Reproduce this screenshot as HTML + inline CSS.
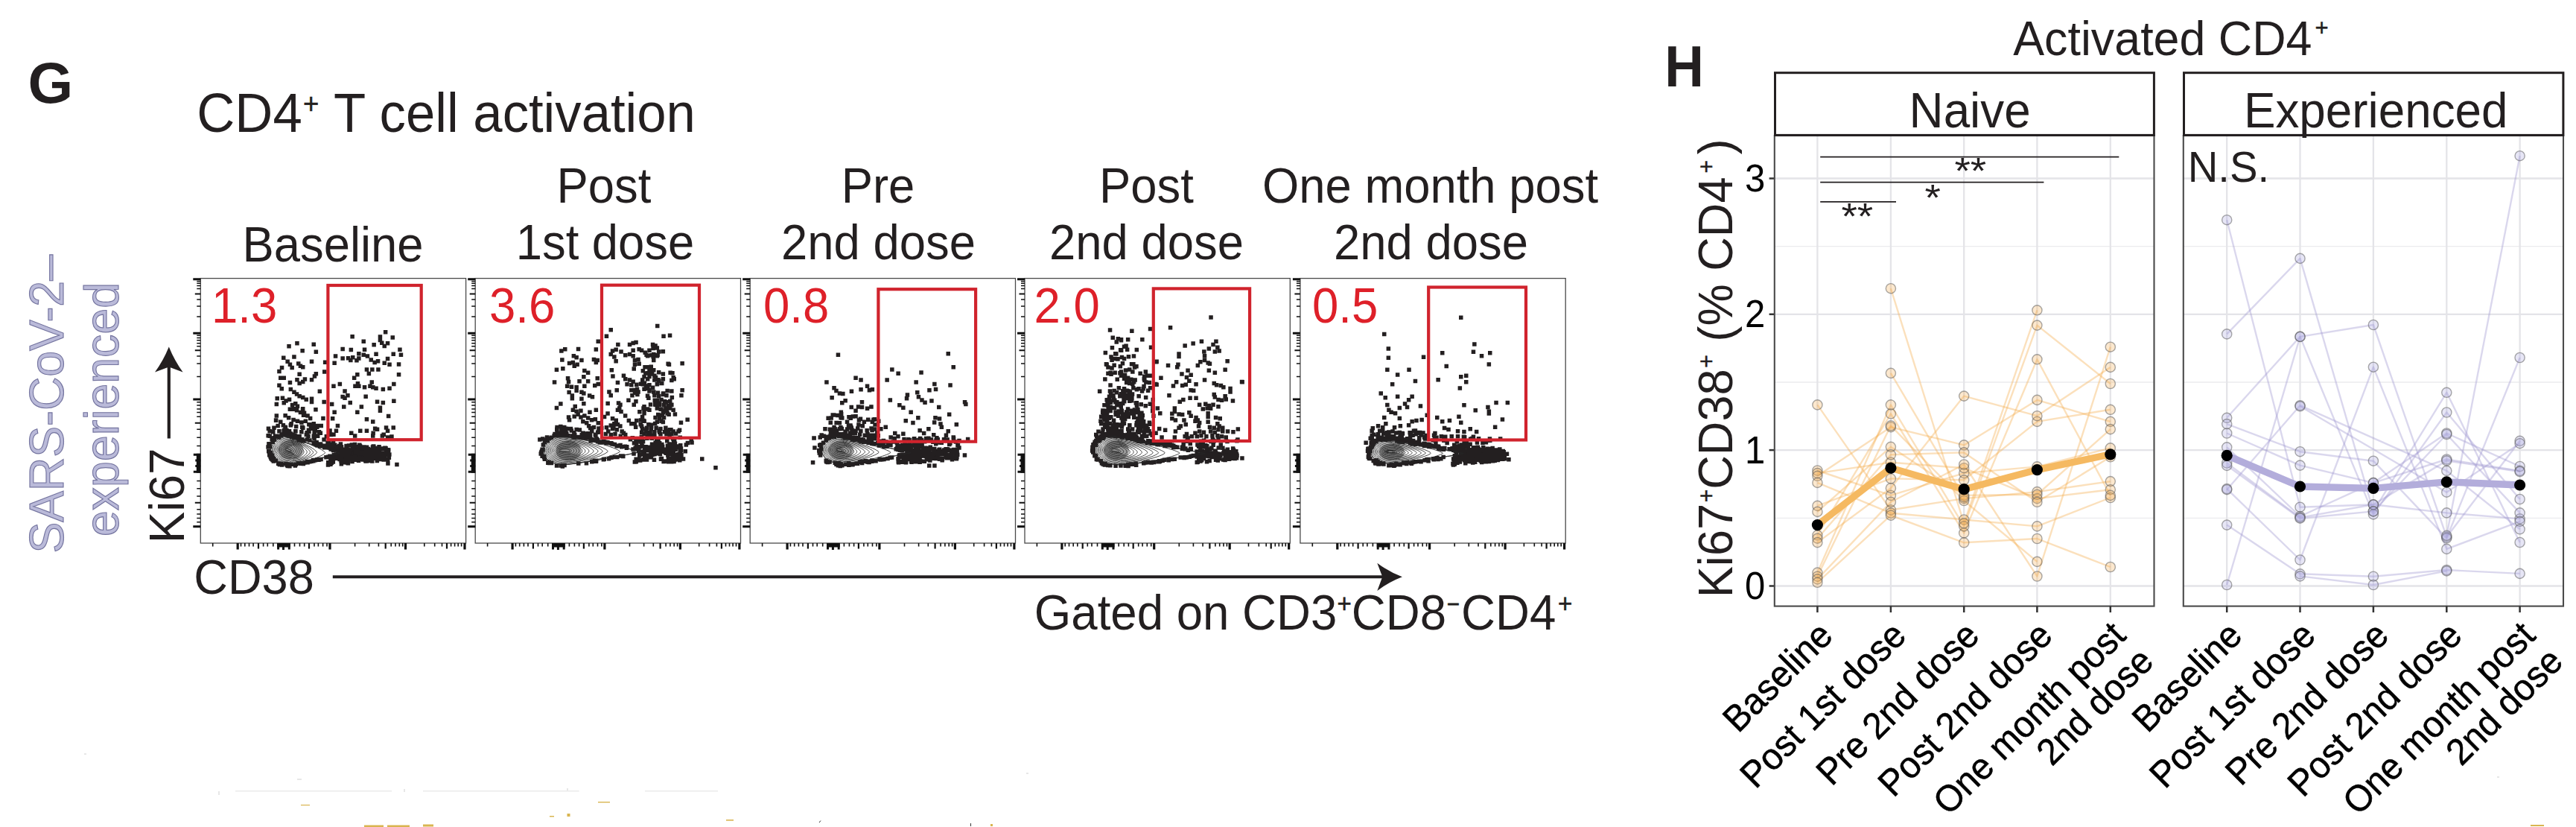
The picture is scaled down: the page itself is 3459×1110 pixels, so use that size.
<!DOCTYPE html>
<html lang="en"><head><meta charset="utf-8"><title>Figure G-H</title>
<style>
html,body{margin:0;padding:0;background:#fff;}
body{width:3459px;height:1110px;overflow:hidden;}
svg{display:block;}
text{font-family:"Liberation Sans", sans-serif;fill:#231f20;}
.b{font-weight:bold;}
.m{text-anchor:middle;}
.red{fill:#de2029;}
.lav{fill:#babad9;stroke:#74749f;stroke-width:1.1px;}
</style></head><body>
<svg width="3459" height="1110" viewBox="0 0 3459 1110">
<rect width="3459" height="1110" fill="#fff"/>
<text class="b" transform="translate(37.5 137.8) scale(1 1.0)" font-size="78">G</text>
<text transform="translate(264.3 176.8) scale(1 1.04)" font-size="70.7">CD4<tspan dx="1.2" dy="-24" font-size="36.5" stroke="#231f20" stroke-width="0.5">+</tspan><tspan dx="1.5" dy="24"> T cell activation</tspan></text>
<text transform="translate(447 351.2) scale(1 1.04)" font-size="63.4" text-anchor="middle">Baseline</text>
<text transform="translate(811 271.9) scale(1 1.04)" font-size="63.4" text-anchor="middle">Post</text>
<text transform="translate(812.5 347.7) scale(1 1.04)" font-size="63.4" text-anchor="middle">1st dose</text>
<text transform="translate(1179 271.9) scale(1 1.04)" font-size="63.4" text-anchor="middle">Pre</text>
<text transform="translate(1179.5 347.7) scale(1 1.04)" font-size="63.4" text-anchor="middle">2nd dose</text>
<text transform="translate(1539.5 271.9) scale(1 1.04)" font-size="63.4" text-anchor="middle">Post</text>
<text transform="translate(1539.5 347.7) scale(1 1.04)" font-size="63.4" text-anchor="middle">2nd dose</text>
<text transform="translate(1920.5 271.9) scale(1 1.04)" font-size="63.4" text-anchor="middle">One month post</text>
<text transform="translate(1921.5 347.7) scale(1 1.04)" font-size="63.4" text-anchor="middle">2nd dose</text>
<text class="lav" transform="translate(84.5 742.6) rotate(-90) scale(1 1.04)" font-size="62.7">SARS-CoV-2–</text>
<text class="lav" transform="translate(159 720) rotate(-90) scale(1 1.04)" font-size="62.6">experienced</text>
<text transform="translate(247 729.3) rotate(-90) scale(1 1.04)" font-size="63.8">Ki67</text>
<path d="M226.8 588.5V490" stroke="#231f20" stroke-width="4.2" fill="none"/>
<path d="M226.8 465.4Q234.3 484 245.6 499.4L226.8 492.6L208 499.4Q219.3 484 226.8 465.4Z" fill="#231f20"/>
<g id="plot1">
<rect x="269.3" y="373.6" width="356.3" height="355.4" fill="#fff" stroke="#4a4a4a" stroke-width="1.3"/>
<path d="M285.7 729.0v4.5M323.5 729.0v4.5M328.8 729.0v4.5M334.5 729.0v4.5M340.1 729.0v4.5M353.6 729.0v4.5M359.3 729.0v4.5M366.8 729.0v4.5M395.5 729.0v4.5M402.5 729.0v4.5M408.7 729.0v4.5M422.0 729.0v4.5M427.4 729.0v4.5M433.6 729.0v4.5M439.0 729.0v4.5M476.6 729.0v4.5M495.7 729.0v4.5M508.4 729.0v4.5M525.2 729.0v4.5M531.0 729.0v4.5M536.3 729.0v4.5M540.7 729.0v4.5M569.8 729.0v4.5M583.7 729.0v4.5M593.5 729.0v4.5M605.6 729.0v4.5M610.6 729.0v4.5M615.2 729.0v4.5M619.6 729.0v4.5" stroke="#111" stroke-width="1.6" fill="none"/>
<path d="M319.2 729.0v8.5M443.0 729.0v8.5M544.5 729.0v8.5M624.0 729.0v8.5" stroke="#111" stroke-width="3.2" fill="none"/>
<path d="M347.0 729.0v7.5M415.0 729.0v7.5M517.7 729.0v7.5M600.0 729.0v7.5" stroke="#111" stroke-width="2.2" fill="none"/>
<path d="M269.3 374.8h-10M269.3 447.3h-10M269.3 536.0h-10M269.3 706.8h-10" stroke="#111" stroke-width="3.0" fill="none"/>
<path d="M269.3 377.5h-5M269.3 380.3h-5M269.3 383.6h-5M269.3 387.4h-5M269.3 401.9h-5M269.3 410.9h-5M269.3 425.0h-5M269.3 450.2h-5M269.3 453.4h-5M269.3 456.8h-5M269.3 460.7h-5M269.3 464.8h-5M269.3 478.0h-5M269.3 488.0h-5M269.3 505.5h-5M269.3 539.7h-5M269.3 544.0h-5M269.3 549.0h-5M269.3 553.6h-5M269.3 559.3h-5M269.3 576.3h-5M269.3 587.2h-5M269.3 598.6h-5M269.3 645.6h-5M269.3 655.8h-5M269.3 665.9h-5M269.3 683.7h-5M269.3 690.0h-5M269.3 695.6h-5M269.3 700.7h-5" stroke="#111" stroke-width="1.5" fill="none"/>
<path d="M269.3 394.5h-7.5M269.3 470.3h-7.5M269.3 567.7h-7.5M269.3 674.8h-7.5" stroke="#111" stroke-width="2.0" fill="none"/>
<rect x="372.2" y="729.0" width="17.6" height="5.5" fill="#111"/>
<path d="M373.6 729.0v8.5M380.5 729.0v9M388.3 729.0v8.5" stroke="#111" stroke-width="3"/>
<rect x="263.8" y="608.8" width="5.5" height="25.9" fill="#111"/>
<path d="M269.3 610.2h-9.5M269.3 618h-7M269.3 625.5h-7M269.3 633.2h-9.5" stroke="#111" stroke-width="3"/>
<path d="M363.5 603.2L363.5 602.2L363.6 601.1L363.8 600.1L364.1 599.1L364.4 598.1L364.8 597.1L365.2 596.2L365.7 595.2L366.3 594.3L366.9 593.4L367.6 592.6L368.4 591.7L369.2 590.9L370.1 590.2L371.0 589.5L372.0 588.8L373.0 588.2L374.0 587.6L375.1 587.1L376.2 586.6L377.4 586.2L378.6 585.8L379.8 585.5L381.0 585.3L382.2 585.1L383.5 584.9L384.7 584.8L386.0 584.8L389.9 587.4L393.9 588.8L397.8 590.1L401.6 591.3L405.4 592.5L409.2 593.6L412.9 594.8L416.5 595.9L420.0 597.0L423.3 598.0L426.6 599.0L429.8 600.0L432.8 600.9L435.6 601.8L438.3 602.6L440.9 603.4L443.3 604.2L445.4 604.8L447.4 605.5L449.2 606.0L450.9 606.5L452.3 607.0L453.5 607.3L454.4 607.6L455.2 607.9L455.8 608.1L456.1 608.2L456.2 608.2L456.2 608.2L456.1 608.2L455.8 608.3L455.2 608.5L454.4 608.7L453.5 608.9L452.3 609.2L450.9 609.6L449.2 610.0L447.4 610.5L445.4 611.0L443.3 611.6L440.9 612.2L438.3 612.8L435.6 613.5L432.8 614.2L429.8 614.9L426.6 615.6L423.3 616.4L420.0 617.2L416.5 618.0L412.9 618.8L409.2 619.6L405.4 620.3L401.6 621.0L397.8 621.7L393.9 622.3L389.9 622.7L386.0 621.6L384.7 621.6L383.5 621.5L382.2 621.3L381.0 621.1L379.8 620.9L378.6 620.6L377.4 620.2L376.2 619.8L375.1 619.3L374.0 618.8L373.0 618.2L372.0 617.6L371.0 616.9L370.1 616.2L369.2 615.5L368.4 614.7L367.6 613.8L366.9 613.0L366.3 612.1L365.7 611.2L365.2 610.2L364.8 609.3L364.4 608.3L364.1 607.3L363.8 606.3L363.6 605.3L363.5 604.2L363.5 603.2Z" fill="#231f20" stroke="#231f20" stroke-width="1.5" stroke-linejoin="round"/>
<path d="M442.0 599.5L449.7 599.8L457.4 600.2L465.1 600.7L472.8 601.4L480.5 602.1L488.2 602.8L495.9 603.6L503.6 604.5L511.3 605.5L519.0 606.5L519.0 611.5L511.3 612.5L503.6 613.5L495.9 614.4L488.2 615.2L480.5 615.9L472.8 616.6L465.1 617.3L457.4 617.8L449.7 618.2L442.0 618.5Z" fill="#231f20"/>
<path d="M363.5 603.2L363.5 602.2L363.6 601.1L363.8 600.1L364.1 599.1L364.4 598.1L364.8 597.1L365.2 596.2L365.7 595.2L366.3 594.3L366.9 593.4L367.6 592.6L368.4 591.7L369.2 590.9L370.1 590.2L371.0 589.5L372.0 588.8L373.0 588.2L374.0 587.6L375.1 587.1L376.2 586.6L377.4 586.2L378.6 585.8L379.8 585.5L381.0 585.3L382.2 585.1L383.5 584.9L384.7 584.8L386.0 584.8L389.9 587.4L393.9 588.8L397.8 590.1L401.6 591.3L405.4 592.5L409.2 593.6L412.9 594.8L416.5 595.9L420.0 597.0L423.3 598.0L426.6 599.0L429.8 600.0L432.8 600.9L435.6 601.8L438.3 602.6L440.9 603.4L443.3 604.2L445.4 604.8L447.4 605.5L449.2 606.0L450.9 606.5L452.3 607.0L453.5 607.3L454.4 607.6L455.2 607.9L455.8 608.1L456.1 608.2L456.2 608.2L456.2 608.2L456.1 608.2L455.8 608.3L455.2 608.5L454.4 608.7L453.5 608.9L452.3 609.2L450.9 609.6L449.2 610.0L447.4 610.5L445.4 611.0L443.3 611.6L440.9 612.2L438.3 612.8L435.6 613.5L432.8 614.2L429.8 614.9L426.6 615.6L423.3 616.4L420.0 617.2L416.5 618.0L412.9 618.8L409.2 619.6L405.4 620.3L401.6 621.0L397.8 621.7L393.9 622.3L389.9 622.7L386.0 621.6L384.7 621.6L383.5 621.5L382.2 621.3L381.0 621.1L379.8 620.9L378.6 620.6L377.4 620.2L376.2 619.8L375.1 619.3L374.0 618.8L373.0 618.2L372.0 617.6L371.0 616.9L370.1 616.2L369.2 615.5L368.4 614.7L367.6 613.8L366.9 613.0L366.3 612.1L365.7 611.2L365.2 610.2L364.8 609.3L364.4 608.3L364.1 607.3L363.8 606.3L363.6 605.3L363.5 604.2L363.5 603.2Z" fill="#fff"/>
<ellipse cx="390.5" cy="603.7" rx="17" ry="12.9" fill="#9a9a9a"/>
<path d="M422.4 590.9h5.5v5.5h-5.5zM399.5 619.0h5.5v5.5h-5.5zM362.9 609.0h5.5v5.5h-5.5zM388.5 580.9h5.5v5.5h-5.5zM445.9 607.8h5.5v5.5h-5.5zM403.5 588.8h5.5v5.5h-5.5zM433.0 598.1h5.5v5.5h-5.5zM364.6 616.2h5.5v5.5h-5.5zM370.9 619.6h5.5v5.5h-5.5zM452.0 604.6h5.5v5.5h-5.5zM372.2 619.9h5.5v5.5h-5.5zM394.6 620.4h5.5v5.5h-5.5zM421.8 593.8h5.5v5.5h-5.5zM425.2 614.6h5.5v5.5h-5.5zM359.9 596.9h5.5v5.5h-5.5zM361.5 613.1h5.5v5.5h-5.5zM448.9 607.3h5.5v5.5h-5.5zM382.1 577.6h5.5v5.5h-5.5zM381.6 579.0h5.5v5.5h-5.5zM441.5 600.3h5.5v5.5h-5.5zM384.8 580.3h5.5v5.5h-5.5zM385.4 582.4h5.5v5.5h-5.5zM358.2 593.2h5.5v5.5h-5.5zM451.8 603.8h5.5v5.5h-5.5zM364.9 586.5h5.5v5.5h-5.5zM381.7 581.0h5.5v5.5h-5.5zM363.2 586.2h5.5v5.5h-5.5zM406.2 618.3h5.5v5.5h-5.5zM358.2 596.8h5.5v5.5h-5.5zM435.2 610.9h5.5v5.5h-5.5zM408.8 617.8h5.5v5.5h-5.5zM399.9 619.3h5.5v5.5h-5.5zM359.0 607.9h5.5v5.5h-5.5zM423.1 595.1h5.5v5.5h-5.5zM382.4 620.2h5.5v5.5h-5.5zM369.4 582.6h5.5v5.5h-5.5zM428.3 613.8h5.5v5.5h-5.5zM383.5 622.7h5.5v5.5h-5.5zM389.0 583.4h5.5v5.5h-5.5zM413.2 588.2h5.5v5.5h-5.5zM421.2 594.0h5.5v5.5h-5.5zM451.9 604.5h5.5v5.5h-5.5zM360.9 609.8h5.5v5.5h-5.5zM397.9 584.8h5.5v5.5h-5.5zM383.7 621.2h5.5v5.5h-5.5zM382.3 580.2h5.5v5.5h-5.5zM456.6 606.0h5.5v5.5h-5.5zM392.4 583.8h5.5v5.5h-5.5zM432.5 595.4h5.5v5.5h-5.5zM418.6 591.3h5.5v5.5h-5.5zM372.9 620.8h5.5v5.5h-5.5zM424.4 594.5h5.5v5.5h-5.5zM375.1 619.6h5.5v5.5h-5.5zM438.0 610.6h5.5v5.5h-5.5zM410.1 616.7h5.5v5.5h-5.5zM418.5 592.7h5.5v5.5h-5.5zM402.9 587.0h5.5v5.5h-5.5zM436.6 598.0h5.5v5.5h-5.5zM398.7 619.2h5.5v5.5h-5.5zM358.8 593.7h5.5v5.5h-5.5zM441.7 600.1h5.5v5.5h-5.5zM418.1 615.9h5.5v5.5h-5.5zM394.3 584.8h5.5v5.5h-5.5zM423.0 595.0h5.5v5.5h-5.5zM363.5 590.6h5.5v5.5h-5.5zM450.7 607.1h5.5v5.5h-5.5zM392.2 583.9h5.5v5.5h-5.5zM392.6 583.4h5.5v5.5h-5.5zM382.6 621.5h5.5v5.5h-5.5zM381.3 577.1h5.5v5.5h-5.5zM375.1 581.9h5.5v5.5h-5.5zM417.7 614.7h5.5v5.5h-5.5zM358.0 602.9h5.5v5.5h-5.5zM410.3 618.0h5.5v5.5h-5.5zM413.0 617.0h5.5v5.5h-5.5zM362.4 586.9h5.5v5.5h-5.5zM402.4 618.9h5.5v5.5h-5.5zM427.2 595.9h5.5v5.5h-5.5zM362.5 608.4h5.5v5.5h-5.5zM398.4 586.3h5.5v5.5h-5.5zM427.9 593.5h5.5v5.5h-5.5zM442.1 598.6h5.5v5.5h-5.5zM427.0 596.3h5.5v5.5h-5.5zM362.1 613.2h5.5v5.5h-5.5zM435.7 595.7h5.5v5.5h-5.5zM383.9 622.2h5.5v5.5h-5.5zM363.7 611.7h5.5v5.5h-5.5zM381.2 619.7h5.5v5.5h-5.5zM399.4 583.1h5.5v5.5h-5.5zM360.3 609.9h5.5v5.5h-5.5zM365.8 587.5h5.5v5.5h-5.5zM409.4 587.3h5.5v5.5h-5.5zM427.2 593.3h5.5v5.5h-5.5zM445.6 608.0h5.5v5.5h-5.5zM377.6 580.2h5.5v5.5h-5.5zM415.3 616.4h5.5v5.5h-5.5zM439.4 596.8h5.5v5.5h-5.5zM363.3 614.8h5.5v5.5h-5.5zM363.7 612.5h5.5v5.5h-5.5zM386.2 623.1h5.5v5.5h-5.5zM375.9 621.3h5.5v5.5h-5.5zM404.6 619.8h5.5v5.5h-5.5zM360.9 611.3h5.5v5.5h-5.5zM402.5 588.7h5.5v5.5h-5.5zM393.9 582.5h5.5v5.5h-5.5zM392.1 585.1h5.5v5.5h-5.5zM378.3 576.6h5.5v5.5h-5.5zM361.0 606.7h5.5v5.5h-5.5zM397.6 583.1h5.5v5.5h-5.5zM430.0 595.6h5.5v5.5h-5.5zM455.6 604.4h5.5v5.5h-5.5zM435.9 596.4h5.5v5.5h-5.5zM404.2 618.9h5.5v5.5h-5.5zM376.2 580.3h5.5v5.5h-5.5zM426.1 614.0h5.5v5.5h-5.5zM404.8 589.2h5.5v5.5h-5.5zM398.5 587.9h5.5v5.5h-5.5zM367.5 615.5h5.5v5.5h-5.5zM393.6 622.2h5.5v5.5h-5.5zM388.1 620.4h5.5v5.5h-5.5zM390.9 580.4h5.5v5.5h-5.5zM446.3 601.1h5.5v5.5h-5.5zM382.1 576.4h5.5v5.5h-5.5zM372.8 620.3h5.5v5.5h-5.5zM439.7 597.0h5.5v5.5h-5.5zM449.7 608.3h5.5v5.5h-5.5zM360.9 604.8h5.5v5.5h-5.5zM357.3 597.3h5.5v5.5h-5.5zM398.5 587.7h5.5v5.5h-5.5zM387.7 579.2h5.5v5.5h-5.5zM423.2 614.1h5.5v5.5h-5.5zM420.6 615.1h5.5v5.5h-5.5zM401.4 619.4h5.5v5.5h-5.5zM358.3 593.1h5.5v5.5h-5.5zM397.7 619.1h5.5v5.5h-5.5zM365.1 613.8h5.5v5.5h-5.5zM404.1 589.3h5.5v5.5h-5.5zM364.6 612.9h5.5v5.5h-5.5zM375.7 580.6h5.5v5.5h-5.5zM385.9 622.0h5.5v5.5h-5.5zM497.6 602.6h5.5v5.5h-5.5zM504.5 602.5h5.5v5.5h-5.5zM463.9 607.4h5.5v5.5h-5.5zM517.2 606.1h5.5v5.5h-5.5zM493.2 615.5h5.5v5.5h-5.5zM495.7 603.7h5.5v5.5h-5.5zM497.4 600.7h5.5v5.5h-5.5zM466.2 595.3h5.5v5.5h-5.5zM455.6 608.1h5.5v5.5h-5.5zM508.8 611.3h5.5v5.5h-5.5zM509.7 605.6h5.5v5.5h-5.5zM449.0 610.5h5.5v5.5h-5.5zM515.3 599.0h5.5v5.5h-5.5zM447.0 594.4h5.5v5.5h-5.5zM518.0 613.9h5.5v5.5h-5.5zM479.8 605.5h5.5v5.5h-5.5zM478.3 614.3h5.5v5.5h-5.5zM511.2 599.3h5.5v5.5h-5.5zM499.6 604.2h5.5v5.5h-5.5zM516.6 608.2h5.5v5.5h-5.5zM515.6 601.5h5.5v5.5h-5.5zM452.8 606.6h5.5v5.5h-5.5zM488.7 611.0h5.5v5.5h-5.5zM455.8 597.5h5.5v5.5h-5.5zM474.1 613.2h5.5v5.5h-5.5zM473.6 612.7h5.5v5.5h-5.5zM480.8 597.1h5.5v5.5h-5.5zM454.7 593.2h5.5v5.5h-5.5zM438.9 591.6h5.5v5.5h-5.5zM495.5 600.8h5.5v5.5h-5.5zM503.0 612.8h5.5v5.5h-5.5zM442.5 618.4h5.5v5.5h-5.5zM444.7 601.8h5.5v5.5h-5.5zM500.8 607.8h5.5v5.5h-5.5zM519.0 601.2h5.5v5.5h-5.5zM488.1 610.3h5.5v5.5h-5.5zM484.1 604.4h5.5v5.5h-5.5zM512.6 613.7h5.5v5.5h-5.5zM509.6 599.8h5.5v5.5h-5.5zM475.5 614.4h5.5v5.5h-5.5zM440.3 595.7h5.5v5.5h-5.5zM461.8 613.9h5.5v5.5h-5.5zM488.7 599.8h5.5v5.5h-5.5zM467.3 613.5h5.5v5.5h-5.5zM499.2 604.7h5.5v5.5h-5.5zM511.5 599.5h5.5v5.5h-5.5zM465.7 595.2h5.5v5.5h-5.5zM510.9 611.0h5.5v5.5h-5.5zM442.9 616.1h5.5v5.5h-5.5zM470.9 597.4h5.5v5.5h-5.5zM510.4 609.4h5.5v5.5h-5.5zM442.7 598.0h5.5v5.5h-5.5zM490.5 616.0h5.5v5.5h-5.5zM480.1 594.5h5.5v5.5h-5.5zM452.3 609.8h5.5v5.5h-5.5zM455.6 620.1h5.5v5.5h-5.5zM508.6 613.8h5.5v5.5h-5.5zM456.9 604.4h5.5v5.5h-5.5zM502.7 602.8h5.5v5.5h-5.5zM444.0 614.8h5.5v5.5h-5.5zM441.5 619.1h5.5v5.5h-5.5zM488.0 615.2h5.5v5.5h-5.5zM515.3 602.6h5.5v5.5h-5.5zM469.6 594.3h5.5v5.5h-5.5zM484.7 597.4h5.5v5.5h-5.5zM486.2 597.3h5.5v5.5h-5.5zM440.5 609.7h5.5v5.5h-5.5zM472.3 599.1h5.5v5.5h-5.5zM465.5 604.8h5.5v5.5h-5.5zM499.1 597.2h5.5v5.5h-5.5zM464.7 619.0h5.5v5.5h-5.5zM512.4 610.4h5.5v5.5h-5.5zM487.2 606.6h5.5v5.5h-5.5zM513.4 611.4h5.5v5.5h-5.5zM503.6 615.7h5.5v5.5h-5.5zM489.5 607.5h5.5v5.5h-5.5zM457.8 615.4h5.5v5.5h-5.5zM505.8 599.5h5.5v5.5h-5.5zM474.7 604.7h5.5v5.5h-5.5zM463.0 598.9h5.5v5.5h-5.5zM518.5 601.9h5.5v5.5h-5.5zM473.6 596.9h5.5v5.5h-5.5zM495.9 604.1h5.5v5.5h-5.5zM506.6 599.9h5.5v5.5h-5.5zM493.5 614.8h5.5v5.5h-5.5zM488.4 616.3h5.5v5.5h-5.5zM497.0 616.2h5.5v5.5h-5.5zM512.4 614.3h5.5v5.5h-5.5zM515.3 600.9h5.5v5.5h-5.5zM470.3 595.0h5.5v5.5h-5.5zM504.9 606.0h5.5v5.5h-5.5zM506.3 597.1h5.5v5.5h-5.5zM486.2 605.0h5.5v5.5h-5.5zM499.1 596.4h5.5v5.5h-5.5zM484.8 614.3h5.5v5.5h-5.5zM502.4 602.6h5.5v5.5h-5.5zM474.0 595.6h5.5v5.5h-5.5zM444.9 593.8h5.5v5.5h-5.5zM501.6 599.5h5.5v5.5h-5.5zM442.6 593.8h5.5v5.5h-5.5zM483.3 598.4h5.5v5.5h-5.5zM497.5 611.1h5.5v5.5h-5.5zM445.7 601.2h5.5v5.5h-5.5zM504.5 598.8h5.5v5.5h-5.5zM455.1 613.7h5.5v5.5h-5.5zM494.5 603.9h5.5v5.5h-5.5zM449.3 597.5h5.5v5.5h-5.5zM461.5 603.4h5.5v5.5h-5.5zM437.3 591.4h5.5v5.5h-5.5zM454.9 610.2h5.5v5.5h-5.5zM480.1 612.1h5.5v5.5h-5.5zM482.0 605.7h5.5v5.5h-5.5zM453.2 608.8h5.5v5.5h-5.5zM503.6 599.6h5.5v5.5h-5.5zM437.8 621.2h5.5v5.5h-5.5zM490.1 600.4h5.5v5.5h-5.5zM462.3 595.7h5.5v5.5h-5.5zM499.7 612.4h5.5v5.5h-5.5zM492.1 614.2h5.5v5.5h-5.5zM514.0 607.3h5.5v5.5h-5.5zM460.1 618.0h5.5v5.5h-5.5zM455.3 616.2h5.5v5.5h-5.5zM482.3 613.7h5.5v5.5h-5.5zM515.9 605.4h5.5v5.5h-5.5zM462.7 603.4h5.5v5.5h-5.5zM442.9 594.6h5.5v5.5h-5.5zM488.2 600.7h5.5v5.5h-5.5zM517.8 600.9h5.5v5.5h-5.5zM482.4 605.2h5.5v5.5h-5.5zM493.7 612.7h5.5v5.5h-5.5zM513.4 612.2h5.5v5.5h-5.5zM441.1 620.4h5.5v5.5h-5.5zM520.1 607.2h5.5v5.5h-5.5zM469.5 611.6h5.5v5.5h-5.5zM444.8 592.1h5.5v5.5h-5.5zM488.9 606.9h5.5v5.5h-5.5zM478.2 600.0h5.5v5.5h-5.5zM438.0 618.1h5.5v5.5h-5.5zM468.5 613.9h5.5v5.5h-5.5zM489.5 602.7h5.5v5.5h-5.5zM498.6 596.3h5.5v5.5h-5.5zM480.8 595.9h5.5v5.5h-5.5zM459.1 607.9h5.5v5.5h-5.5zM468.2 601.2h5.5v5.5h-5.5zM440.2 609.4h5.5v5.5h-5.5zM464.7 608.8h5.5v5.5h-5.5zM488.3 601.6h5.5v5.5h-5.5zM462.6 611.8h5.5v5.5h-5.5zM456.8 601.9h5.5v5.5h-5.5zM505.4 599.9h5.5v5.5h-5.5zM455.4 597.0h5.5v5.5h-5.5zM453.3 613.8h5.5v5.5h-5.5zM475.4 602.9h5.5v5.5h-5.5zM484.5 613.4h5.5v5.5h-5.5zM488.6 601.9h5.5v5.5h-5.5zM495.7 608.3h5.5v5.5h-5.5zM507.7 608.9h5.5v5.5h-5.5zM457.2 602.5h5.5v5.5h-5.5zM499.5 602.0h5.5v5.5h-5.5zM507.6 612.1h5.5v5.5h-5.5zM495.8 611.3h5.5v5.5h-5.5zM505.8 607.2h5.5v5.5h-5.5zM467.4 611.9h5.5v5.5h-5.5zM508.4 612.4h5.5v5.5h-5.5zM514.2 598.6h5.5v5.5h-5.5zM465.7 605.2h5.5v5.5h-5.5zM490.4 614.9h5.5v5.5h-5.5zM452.9 595.7h5.5v5.5h-5.5zM442.3 617.4h5.5v5.5h-5.5zM473.8 611.0h5.5v5.5h-5.5zM478.8 615.4h5.5v5.5h-5.5zM497.7 597.2h5.5v5.5h-5.5zM465.2 606.5h5.5v5.5h-5.5zM489.8 597.4h5.5v5.5h-5.5zM471.6 614.6h5.5v5.5h-5.5zM497.5 602.4h5.5v5.5h-5.5zM473.1 612.9h5.5v5.5h-5.5zM451.7 597.1h5.5v5.5h-5.5zM478.9 597.1h5.5v5.5h-5.5zM444.6 617.2h5.5v5.5h-5.5zM479.4 613.2h5.5v5.5h-5.5zM455.5 597.4h5.5v5.5h-5.5zM463.6 618.3h5.5v5.5h-5.5zM493.5 610.1h5.5v5.5h-5.5zM501.1 608.0h5.5v5.5h-5.5zM510.2 611.9h5.5v5.5h-5.5zM463.7 615.0h5.5v5.5h-5.5zM470.3 616.7h5.5v5.5h-5.5zM517.6 606.8h5.5v5.5h-5.5zM507.5 607.4h5.5v5.5h-5.5zM519.6 611.6h5.5v5.5h-5.5zM514.5 598.5h5.5v5.5h-5.5zM441.1 613.9h5.5v5.5h-5.5zM497.5 610.3h5.5v5.5h-5.5zM491.6 599.7h5.5v5.5h-5.5zM509.1 605.8h5.5v5.5h-5.5zM505.0 601.0h5.5v5.5h-5.5zM473.8 593.7h5.5v5.5h-5.5zM477.0 613.5h5.5v5.5h-5.5zM443.1 613.8h5.5v5.5h-5.5zM357.4 581.9h5.5v5.5h-5.5zM404.1 571.5h5.5v5.5h-5.5zM419.3 585.6h5.5v5.5h-5.5zM427.6 578.4h5.5v5.5h-5.5zM393.0 581.8h5.5v5.5h-5.5zM441.7 580.7h5.5v5.5h-5.5zM408.6 580.7h5.5v5.5h-5.5zM411.7 574.5h5.5v5.5h-5.5zM441.8 580.3h5.5v5.5h-5.5zM419.7 571.6h5.5v5.5h-5.5zM359.4 576.0h5.5v5.5h-5.5zM412.2 576.5h5.5v5.5h-5.5zM435.6 583.1h5.5v5.5h-5.5zM365.2 584.9h5.5v5.5h-5.5zM382.2 575.0h5.5v5.5h-5.5zM420.5 575.2h5.5v5.5h-5.5zM398.2 587.0h5.5v5.5h-5.5zM365.2 571.4h5.5v5.5h-5.5zM371.9 584.2h5.5v5.5h-5.5zM380.7 571.4h5.5v5.5h-5.5zM383.6 581.7h5.5v5.5h-5.5zM379.2 574.8h5.5v5.5h-5.5zM440.3 575.3h5.5v5.5h-5.5zM420.3 574.6h5.5v5.5h-5.5zM418.9 583.4h5.5v5.5h-5.5zM394.2 576.0h5.5v5.5h-5.5zM357.7 572.5h5.5v5.5h-5.5zM432.3 587.2h5.5v5.5h-5.5zM414.2 567.2h5.5v5.5h-5.5zM388.4 565.9h5.5v5.5h-5.5zM386.6 546.6h5.5v5.5h-5.5zM380.2 570.6h5.5v5.5h-5.5zM403.8 546.9h5.5v5.5h-5.5zM367.9 561.6h5.5v5.5h-5.5zM390.2 546.5h5.5v5.5h-5.5zM367.8 561.2h5.5v5.5h-5.5zM404.8 554.6h5.5v5.5h-5.5zM423.5 568.8h5.5v5.5h-5.5zM514.9 443.1h5.5v5.5h-5.5zM470.4 448.9h5.5v5.5h-5.5zM507.7 449.2h5.5v5.5h-5.5zM524.5 450.2h5.5v5.5h-5.5zM507.7 453.7h5.5v5.5h-5.5zM485.5 455.6h5.5v5.5h-5.5zM510.0 457.6h5.5v5.5h-5.5zM517.8 457.9h5.5v5.5h-5.5zM499.4 459.9h5.5v5.5h-5.5zM513.5 461.8h5.5v5.5h-5.5zM457.4 465.7h5.5v5.5h-5.5zM468.6 466.8h5.5v5.5h-5.5zM486.8 466.6h5.5v5.5h-5.5zM534.2 466.6h5.5v5.5h-5.5zM479.1 472.1h5.5v5.5h-5.5zM502.3 472.4h5.5v5.5h-5.5zM485.5 473.4h5.5v5.5h-5.5zM525.5 472.4h5.5v5.5h-5.5zM535.7 473.6h5.5v5.5h-5.5zM447.8 475.3h5.5v5.5h-5.5zM457.4 478.2h5.5v5.5h-5.5zM464.8 477.9h5.5v5.5h-5.5zM471.0 476.9h5.5v5.5h-5.5zM490.7 475.3h5.5v5.5h-5.5zM468.1 480.8h5.5v5.5h-5.5zM479.1 478.2h5.5v5.5h-5.5zM476.2 481.1h5.5v5.5h-5.5zM495.5 480.2h5.5v5.5h-5.5zM500.4 483.7h5.5v5.5h-5.5zM504.8 482.1h5.5v5.5h-5.5zM517.8 478.8h5.5v5.5h-5.5zM513.5 484.6h5.5v5.5h-5.5zM520.3 486.6h5.5v5.5h-5.5zM532.8 486.2h5.5v5.5h-5.5zM446.4 484.6h5.5v5.5h-5.5zM489.7 493.3h5.5v5.5h-5.5zM497.1 493.3h5.5v5.5h-5.5zM505.2 493.3h5.5v5.5h-5.5zM492.6 498.7h5.5v5.5h-5.5zM477.1 500.1h5.5v5.5h-5.5zM472.9 504.4h5.5v5.5h-5.5zM532.8 500.1h5.5v5.5h-5.5zM477.7 512.1h5.5v5.5h-5.5zM474.2 515.6h5.5v5.5h-5.5zM479.1 515.6h5.5v5.5h-5.5zM496.5 510.2h5.5v5.5h-5.5zM494.2 515.6h5.5v5.5h-5.5zM498.0 516.9h5.5v5.5h-5.5zM502.3 518.5h5.5v5.5h-5.5zM486.8 516.9h5.5v5.5h-5.5zM511.6 519.8h5.5v5.5h-5.5zM520.3 518.5h5.5v5.5h-5.5zM526.1 512.7h5.5v5.5h-5.5zM445.2 515.6h5.5v5.5h-5.5zM453.6 512.7h5.5v5.5h-5.5zM460.3 522.3h5.5v5.5h-5.5zM464.2 528.1h5.5v5.5h-5.5zM457.4 529.7h5.5v5.5h-5.5zM460.3 531.4h5.5v5.5h-5.5zM488.4 529.5h5.5v5.5h-5.5zM467.5 537.8h5.5v5.5h-5.5zM503.8 536.5h5.5v5.5h-5.5zM511.6 537.8h5.5v5.5h-5.5zM526.1 535.5h5.5v5.5h-5.5zM442.9 539.7h5.5v5.5h-5.5zM459.0 543.2h5.5v5.5h-5.5zM482.6 543.2h5.5v5.5h-5.5zM507.7 544.6h5.5v5.5h-5.5zM507.7 548.4h5.5v5.5h-5.5zM446.4 550.4h5.5v5.5h-5.5zM477.1 550.4h5.5v5.5h-5.5zM518.9 555.8h5.5v5.5h-5.5zM443.9 559.1h5.5v5.5h-5.5zM489.7 560.1h5.5v5.5h-5.5zM498.0 563.3h5.5v5.5h-5.5zM450.7 568.8h5.5v5.5h-5.5zM525.5 571.3h5.5v5.5h-5.5zM515.8 571.3h5.5v5.5h-5.5zM500.9 572.6h5.5v5.5h-5.5zM503.8 573.6h5.5v5.5h-5.5zM517.8 575.5h5.5v5.5h-5.5zM481.0 575.5h5.5v5.5h-5.5zM489.7 575.5h5.5v5.5h-5.5zM498.4 578.4h5.5v5.5h-5.5zM469.0 578.4h5.5v5.5h-5.5zM448.7 575.5h5.5v5.5h-5.5zM445.2 580.4h5.5v5.5h-5.5zM473.9 582.3h5.5v5.5h-5.5zM512.5 580.4h5.5v5.5h-5.5zM510.6 582.3h5.5v5.5h-5.5zM498.0 582.3h5.5v5.5h-5.5zM523.2 583.3h5.5v5.5h-5.5zM517.8 584.2h5.5v5.5h-5.5zM396.2 458.1h5.5v5.5h-5.5zM385.3 462.1h5.5v5.5h-5.5zM418.5 459.6h5.5v5.5h-5.5zM403.4 468.1h5.5v5.5h-5.5zM421.6 469.4h5.5v5.5h-5.5zM378.0 477.5h5.5v5.5h-5.5zM392.2 476.3h5.5v5.5h-5.5zM415.8 482.6h5.5v5.5h-5.5zM383.4 482.6h5.5v5.5h-5.5zM386.7 486.6h5.5v5.5h-5.5zM389.4 490.8h5.5v5.5h-5.5zM398.0 485.3h5.5v5.5h-5.5zM400.7 488.6h5.5v5.5h-5.5zM404.0 489.9h5.5v5.5h-5.5zM375.8 490.8h5.5v5.5h-5.5zM372.2 495.7h5.5v5.5h-5.5zM433.9 483.5h5.5v5.5h-5.5zM433.0 496.2h5.5v5.5h-5.5zM399.4 499.5h5.5v5.5h-5.5zM421.6 499.0h5.5v5.5h-5.5zM419.7 502.2h5.5v5.5h-5.5zM415.8 507.1h5.5v5.5h-5.5zM374.0 504.4h5.5v5.5h-5.5zM378.5 504.4h5.5v5.5h-5.5zM396.2 507.1h5.5v5.5h-5.5zM406.7 506.2h5.5v5.5h-5.5zM404.0 509.8h5.5v5.5h-5.5zM399.4 511.7h5.5v5.5h-5.5zM386.7 510.8h5.5v5.5h-5.5zM372.2 514.4h5.5v5.5h-5.5zM375.5 518.9h5.5v5.5h-5.5zM387.6 519.8h5.5v5.5h-5.5zM392.2 523.5h5.5v5.5h-5.5zM395.8 526.2h5.5v5.5h-5.5zM399.4 528.9h5.5v5.5h-5.5zM404.0 530.7h5.5v5.5h-5.5zM408.5 533.4h5.5v5.5h-5.5zM426.6 522.5h5.5v5.5h-5.5zM369.5 532.0h5.5v5.5h-5.5zM376.7 531.6h5.5v5.5h-5.5zM381.3 535.3h5.5v5.5h-5.5zM385.8 533.4h5.5v5.5h-5.5zM378.5 538.0h5.5v5.5h-5.5zM368.6 539.8h5.5v5.5h-5.5zM415.8 532.5h5.5v5.5h-5.5zM415.8 536.7h5.5v5.5h-5.5zM432.4 536.7h5.5v5.5h-5.5zM389.8 540.7h5.5v5.5h-5.5zM394.0 538.9h5.5v5.5h-5.5zM396.7 542.5h5.5v5.5h-5.5zM391.3 546.1h5.5v5.5h-5.5zM395.8 548.0h5.5v5.5h-5.5zM404.0 546.1h5.5v5.5h-5.5zM400.7 550.7h5.5v5.5h-5.5zM405.8 551.6h5.5v5.5h-5.5zM421.2 547.1h5.5v5.5h-5.5zM410.3 555.2h5.5v5.5h-5.5zM413.9 558.8h5.5v5.5h-5.5zM368.6 555.2h5.5v5.5h-5.5zM380.4 554.9h5.5v5.5h-5.5zM384.9 557.9h5.5v5.5h-5.5zM431.2 558.8h5.5v5.5h-5.5zM391.3 560.7h5.5v5.5h-5.5zM396.7 562.5h5.5v5.5h-5.5zM402.1 564.3h5.5v5.5h-5.5zM407.6 562.5h5.5v5.5h-5.5zM374.0 563.4h5.5v5.5h-5.5zM377.6 567.9h5.5v5.5h-5.5zM370.4 568.8h5.5v5.5h-5.5zM387.6 567.9h5.5v5.5h-5.5zM394.9 569.7h5.5v5.5h-5.5zM403.0 570.6h5.5v5.5h-5.5zM412.1 567.0h5.5v5.5h-5.5zM418.5 566.1h5.5v5.5h-5.5zM423.0 570.6h5.5v5.5h-5.5zM428.5 568.8h5.5v5.5h-5.5zM414.8 572.5h5.5v5.5h-5.5zM364.0 577.0h5.5v5.5h-5.5zM372.2 576.1h5.5v5.5h-5.5zM378.5 575.2h5.5v5.5h-5.5zM385.8 576.1h5.5v5.5h-5.5zM394.0 576.1h5.5v5.5h-5.5zM402.1 577.0h5.5v5.5h-5.5zM409.4 577.9h5.5v5.5h-5.5zM419.4 577.0h5.5v5.5h-5.5zM425.7 577.0h5.5v5.5h-5.5zM359.5 582.4h5.5v5.5h-5.5zM366.8 582.4h5.5v5.5h-5.5zM411.2 582.4h5.5v5.5h-5.5zM418.5 582.4h5.5v5.5h-5.5zM423.9 582.4h5.5v5.5h-5.5zM518.2 619.2h5.5v5.5h-5.5zM530.2 620.8h5.5v5.5h-5.5z" fill="#231f20"/>
<path d="M363.5 603.2L363.5 602.2L363.6 601.1L363.8 600.1L364.1 599.1L364.4 598.1L364.8 597.1L365.2 596.2L365.7 595.2L366.3 594.3L366.9 593.4L367.6 592.6L368.4 591.7L369.2 590.9L370.1 590.2L371.0 589.5L372.0 588.8L373.0 588.2L374.0 587.6L375.1 587.1L376.2 586.6L377.4 586.2L378.6 585.8L379.8 585.5L381.0 585.3L382.2 585.1L383.5 584.9L384.7 584.8L386.0 584.8L389.9 587.4L393.9 588.8L397.8 590.1L401.6 591.3L405.4 592.5L409.2 593.6L412.9 594.8L416.5 595.9L420.0 597.0L423.3 598.0L426.6 599.0L429.8 600.0L432.8 600.9L435.6 601.8L438.3 602.6L440.9 603.4L443.3 604.2L445.4 604.8L447.4 605.5L449.2 606.0L450.9 606.5L452.3 607.0L453.5 607.3L454.4 607.6L455.2 607.9L455.8 608.1L456.1 608.2L456.2 608.2L456.2 608.2L456.1 608.2L455.8 608.3L455.2 608.5L454.4 608.7L453.5 608.9L452.3 609.2L450.9 609.6L449.2 610.0L447.4 610.5L445.4 611.0L443.3 611.6L440.9 612.2L438.3 612.8L435.6 613.5L432.8 614.2L429.8 614.9L426.6 615.6L423.3 616.4L420.0 617.2L416.5 618.0L412.9 618.8L409.2 619.6L405.4 620.3L401.6 621.0L397.8 621.7L393.9 622.3L389.9 622.7L386.0 621.6L384.7 621.6L383.5 621.5L382.2 621.3L381.0 621.1L379.8 620.9L378.6 620.6L377.4 620.2L376.2 619.8L375.1 619.3L374.0 618.8L373.0 618.2L372.0 617.6L371.0 616.9L370.1 616.2L369.2 615.5L368.4 614.7L367.6 613.8L366.9 613.0L366.3 612.1L365.7 611.2L365.2 610.2L364.8 609.3L364.4 608.3L364.1 607.3L363.8 606.3L363.6 605.3L363.5 604.2L363.5 603.2ZM365.2 603.2L365.3 601.5L365.6 599.9L366.1 598.3L366.9 596.7L367.8 595.2L368.9 593.8L370.1 592.4L371.6 591.2L373.2 590.1L374.9 589.1L376.7 588.2L378.7 587.5L380.7 586.9L382.7 586.5L384.9 586.3L387.0 586.2L391.9 588.7L396.7 590.0L401.4 591.4L406.0 592.8L410.4 594.3L414.6 595.8L418.5 597.3L422.1 598.8L425.4 600.3L428.3 601.8L430.8 603.1L432.9 604.4L434.5 605.5L435.7 606.5L436.4 607.3L436.7 607.7L436.7 607.7L436.4 608.1L435.7 608.8L434.5 609.7L432.9 610.7L430.8 611.8L428.3 613.0L425.4 614.2L422.1 615.5L418.5 616.7L414.6 617.9L410.4 619.0L406.0 620.0L401.4 620.8L396.7 621.4L391.9 621.7L387.0 620.2L384.9 620.1L382.7 619.9L380.7 619.5L378.7 618.9L376.7 618.2L374.9 617.3L373.2 616.3L371.6 615.2L370.1 614.0L368.9 612.6L367.8 611.2L366.9 609.7L366.1 608.1L365.6 606.5L365.3 604.9L365.2 603.2ZM366.9 603.2L367.0 601.7L367.3 600.2L367.8 598.7L368.5 597.2L369.4 595.8L370.5 594.5L371.7 593.3L373.1 592.2L374.6 591.1L376.3 590.2L378.1 589.4L379.9 588.8L381.9 588.3L383.9 587.9L385.9 587.7L388.0 587.6L391.7 589.8L395.3 590.9L398.9 592.1L402.4 593.4L405.7 594.7L408.9 596.0L411.8 597.4L414.5 598.8L417.0 600.1L419.2 601.5L421.1 602.8L422.7 604.0L423.9 605.1L424.8 606.1L425.4 606.8L425.5 607.3L425.5 607.3L425.4 607.7L424.8 608.5L423.9 609.3L422.7 610.4L421.1 611.4L419.2 612.6L417.0 613.7L414.5 614.9L411.8 616.0L408.9 617.0L405.7 618.0L402.4 618.9L398.9 619.6L395.3 620.1L391.7 620.2L388.0 618.8L385.9 618.7L383.9 618.5L381.9 618.1L379.9 617.6L378.1 617.0L376.3 616.2L374.6 615.3L373.1 614.2L371.7 613.1L370.5 611.9L369.4 610.6L368.5 609.2L367.8 607.7L367.3 606.2L367.0 604.7L366.9 603.2ZM368.6 603.2L368.7 601.8L369.0 600.4L369.5 599.1L370.2 597.8L371.0 596.5L372.0 595.3L373.2 594.2L374.6 593.2L376.1 592.2L377.7 591.4L379.4 590.7L381.2 590.1L383.1 589.6L385.0 589.3L387.0 589.1L389.0 589.0L392.1 591.0L395.2 592.0L398.2 593.0L401.1 594.1L403.9 595.3L406.6 596.5L409.1 597.7L411.4 599.0L413.5 600.2L415.3 601.5L416.9 602.7L418.2 603.8L419.3 604.9L420.0 605.8L420.5 606.6L420.7 607.1L420.7 607.1L420.5 607.6L420.0 608.3L419.3 609.2L418.2 610.2L416.9 611.2L415.3 612.3L413.5 613.3L411.4 614.4L409.1 615.4L406.6 616.3L403.9 617.1L401.1 617.8L398.2 618.4L395.2 618.8L392.1 618.9L389.0 617.4L387.0 617.3L385.0 617.1L383.1 616.8L381.2 616.3L379.4 615.7L377.7 615.0L376.1 614.2L374.6 613.2L373.2 612.2L372.0 611.1L371.0 609.9L370.2 608.6L369.5 607.3L369.0 606.0L368.7 604.6L368.6 603.2ZM370.3 603.2L370.4 601.9L370.7 600.7L371.1 599.5L371.8 598.3L372.6 597.2L373.6 596.1L374.8 595.1L376.1 594.1L377.5 593.3L379.1 592.6L380.7 591.9L382.5 591.4L384.3 591.0L386.2 590.6L388.1 590.5L390.0 590.4L392.6 592.3L395.2 593.1L397.7 594.0L400.1 595.0L402.5 596.0L404.7 597.0L406.8 598.1L408.7 599.2L410.5 600.4L412.0 601.5L413.3 602.6L414.5 603.7L415.3 604.7L416.0 605.6L416.3 606.4L416.5 606.9L416.5 606.9L416.3 607.4L416.0 608.2L415.3 609.0L414.5 610.0L413.3 610.9L412.0 611.9L410.5 612.8L408.7 613.8L406.8 614.6L404.7 615.4L402.5 616.2L400.1 616.8L397.7 617.2L395.2 617.5L392.6 617.4L390.0 616.0L388.1 615.9L386.2 615.8L384.3 615.4L382.5 615.0L380.7 614.5L379.1 613.8L377.5 613.1L376.1 612.3L374.8 611.3L373.6 610.3L372.6 609.2L371.8 608.1L371.1 606.9L370.7 605.7L370.4 604.5L370.3 603.2ZM372.0 603.2L372.1 602.1L372.4 601.0L372.8 599.9L373.4 598.8L374.2 597.8L375.2 596.9L376.3 596.0L377.6 595.1L378.9 594.4L380.4 593.7L382.0 593.1L383.7 592.7L385.5 592.3L387.3 592.0L389.1 591.9L391.0 591.8L393.1 593.5L395.2 594.3L397.2 595.1L399.1 595.9L401.0 596.7L402.8 597.6L404.5 598.6L406.1 599.6L407.5 600.6L408.7 601.6L409.8 602.6L410.7 603.6L411.4 604.6L411.9 605.4L412.2 606.2L412.3 606.7L412.3 606.7L412.2 607.3L411.9 608.0L411.4 608.8L410.7 609.7L409.8 610.6L408.7 611.4L407.5 612.3L406.1 613.1L404.5 613.8L402.8 614.5L401.0 615.1L399.1 615.6L397.2 615.9L395.2 616.1L393.1 616.0L391.0 614.6L389.1 614.5L387.3 614.4L385.5 614.1L383.7 613.7L382.0 613.3L380.4 612.7L378.9 612.0L377.6 611.3L376.3 610.4L375.2 609.5L374.2 608.6L373.4 607.6L372.8 606.5L372.4 605.4L372.1 604.3L372.0 603.2ZM373.7 603.2L373.8 602.2L374.1 601.2L374.5 600.3L375.1 599.4L375.9 598.5L376.8 597.6L377.9 596.9L379.1 596.1L380.4 595.5L381.8 594.9L383.4 594.4L385.0 594.0L386.7 593.6L388.4 593.4L390.2 593.2L392.0 593.2L393.6 594.8L395.1 595.5L396.7 596.1L398.2 596.8L399.6 597.5L400.9 598.3L402.2 599.1L403.4 600.0L404.5 600.9L405.4 601.8L406.2 602.7L406.9 603.6L407.4 604.4L407.8 605.2L408.0 606.0L408.1 606.5L408.1 606.5L408.0 607.1L407.8 607.8L407.4 608.6L406.9 609.3L406.2 610.1L405.4 610.9L404.5 611.6L403.4 612.3L402.2 613.0L400.9 613.5L399.6 614.0L398.2 614.4L396.7 614.6L395.1 614.7L393.6 614.6L392.0 613.2L390.2 613.2L388.4 613.0L386.7 612.8L385.0 612.4L383.4 612.0L381.8 611.5L380.4 610.9L379.1 610.3L377.9 609.5L376.8 608.8L375.9 607.9L375.1 607.0L374.5 606.1L374.1 605.2L373.8 604.2L373.7 603.2ZM375.4 603.2L375.5 602.4L375.7 601.5L376.2 600.7L376.7 599.9L377.5 599.1L378.4 598.4L379.4 597.7L380.6 597.1L381.8 596.6L383.2 596.0L384.7 595.6L386.3 595.3L387.9 595.0L389.6 594.8L391.3 594.6L393.0 594.6L394.1 596.1L395.3 596.6L396.4 597.2L397.4 597.8L398.5 598.4L399.5 599.1L400.4 599.7L401.2 600.5L402.0 601.2L402.7 602.0L403.2 602.8L403.7 603.6L404.1 604.3L404.4 605.1L404.6 605.8L404.6 606.3L404.6 606.3L404.6 606.9L404.4 607.6L404.1 608.3L403.7 609.0L403.2 609.6L402.7 610.3L402.0 610.9L401.2 611.5L400.4 612.0L399.5 612.5L398.5 612.8L397.4 613.1L396.4 613.3L395.3 613.3L394.1 613.1L393.0 611.8L391.3 611.8L389.6 611.6L387.9 611.4L386.3 611.1L384.7 610.8L383.2 610.4L381.8 609.8L380.6 609.3L379.4 608.7L378.4 608.0L377.5 607.3L376.7 606.5L376.2 605.7L375.7 604.9L375.5 604.0L375.4 603.2ZM377.1 603.2L377.2 602.5L377.4 601.8L377.8 601.1L378.4 600.4L379.1 599.8L379.9 599.2L380.9 598.6L382.0 598.1L383.3 597.6L384.6 597.2L386.0 596.9L387.5 596.5L389.1 596.3L390.7 596.1L392.3 596.0L394.0 596.0L394.8 597.4L395.5 597.9L396.3 598.3L397.0 598.8L397.7 599.3L398.4 599.9L399.0 600.4L399.5 601.0L400.1 601.7L400.5 602.3L400.9 603.0L401.2 603.6L401.5 604.3L401.7 605.0L401.8 605.6L401.8 606.2L401.8 606.2L401.8 606.7L401.7 607.3L401.5 607.9L401.2 608.5L400.9 609.1L400.5 609.7L400.1 610.2L399.5 610.6L399.0 611.0L398.4 611.4L397.7 611.6L397.0 611.8L396.3 611.9L395.5 611.9L394.8 611.7L394.0 610.4L392.3 610.4L390.7 610.3L389.1 610.1L387.5 609.9L386.0 609.5L384.6 609.2L383.3 608.8L382.0 608.3L380.9 607.8L379.9 607.2L379.1 606.6L378.4 606.0L377.8 605.3L377.4 604.6L377.2 603.9L377.1 603.2ZM378.8 603.2L378.9 602.6L379.1 602.1L379.5 601.5L380.0 601.0L380.6 600.5L381.4 600.0L382.3 599.5L383.3 599.1L384.4 598.7L385.6 598.4L386.9 598.1L388.2 597.8L389.6 597.6L391.1 597.5L392.6 597.4L394.0 597.4L394.5 598.7L395.0 599.1L395.5 599.5L396.0 599.9L396.4 600.3L396.8 600.7L397.2 601.2L397.6 601.7L397.9 602.2L398.2 602.7L398.5 603.2L398.7 603.8L398.8 604.3L398.9 604.9L399.0 605.4L399.0 606.0L399.0 606.0L399.0 606.5L398.9 607.0L398.8 607.5L398.7 608.0L398.5 608.5L398.2 608.9L397.9 609.3L397.6 609.6L397.2 609.9L396.8 610.2L396.4 610.4L396.0 610.5L395.5 610.5L395.0 610.4L394.5 610.2L394.0 609.0L392.6 609.0L391.1 608.9L389.6 608.8L388.2 608.6L386.9 608.3L385.6 608.0L384.4 607.7L383.3 607.3L382.3 606.9L381.4 606.4L380.6 605.9L380.0 605.4L379.5 604.9L379.1 604.3L378.9 603.8L378.8 603.2ZM380.5 603.2L380.6 602.8L380.7 602.3L381.0 601.9L381.3 601.5L381.8 601.1L382.4 600.8L383.0 600.4L383.8 600.1L384.6 599.8L385.4 599.5L386.4 599.3L387.4 599.1L388.4 599.0L389.4 598.9L390.5 598.8L391.6 598.8L392.1 600.0L392.6 600.3L393.1 600.7L393.5 601.0L394.0 601.3L394.4 601.7L394.8 602.0L395.1 602.4L395.5 602.8L395.8 603.2L396.0 603.6L396.2 604.0L396.4 604.5L396.5 604.9L396.6 605.4L396.6 605.8L396.6 605.8L396.6 606.2L396.5 606.6L396.4 607.0L396.2 607.4L396.0 607.7L395.8 608.0L395.5 608.3L395.1 608.6L394.8 608.8L394.4 608.9L394.0 609.0L393.5 609.1L393.1 609.1L392.6 609.0L392.1 608.7L391.6 607.6L390.5 607.6L389.4 607.5L388.4 607.4L387.4 607.3L386.4 607.1L385.4 606.9L384.6 606.6L383.8 606.3L383.0 606.0L382.4 605.6L381.8 605.3L381.3 604.9L381.0 604.5L380.7 604.1L380.6 603.6L380.5 603.2ZM382.2 603.2L382.2 602.9L382.3 602.6L382.5 602.3L382.7 602.1L383.0 601.8L383.4 601.5L383.8 601.3L384.2 601.1L384.7 600.9L385.3 600.7L385.9 600.6L386.5 600.4L387.1 600.3L387.8 600.3L388.5 600.2L389.2 600.2L389.7 601.3L390.1 601.6L390.6 601.9L391.1 602.1L391.5 602.4L391.9 602.6L392.3 602.9L392.7 603.2L393.0 603.4L393.3 603.7L393.6 604.0L393.8 604.3L394.0 604.6L394.1 605.0L394.1 605.3L394.2 605.6L394.2 605.6L394.1 605.8L394.1 606.1L394.0 606.4L393.8 606.6L393.6 606.9L393.3 607.1L393.0 607.3L392.7 607.4L392.3 607.5L391.9 607.6L391.5 607.7L391.1 607.7L390.6 607.6L390.1 607.5L389.7 607.2L389.2 606.2L388.5 606.2L387.8 606.1L387.1 606.1L386.5 606.0L385.9 605.8L385.3 605.7L384.7 605.5L384.2 605.3L383.8 605.1L383.4 604.9L383.0 604.6L382.7 604.3L382.5 604.1L382.3 603.8L382.2 603.5L382.2 603.2ZM383.9 603.2L383.9 603.0L384.0 602.9L384.0 602.7L384.1 602.6L384.3 602.4L384.4 602.3L384.6 602.2L384.8 602.1L385.1 602.0L385.3 601.9L385.6 601.8L385.9 601.7L386.2 601.7L386.5 601.6L386.8 601.6L387.1 601.6L387.6 602.5L388.1 602.8L388.5 603.0L389.0 603.2L389.4 603.4L389.9 603.6L390.2 603.8L390.6 603.9L390.9 604.1L391.2 604.3L391.5 604.5L391.7 604.7L391.9 604.8L392.0 605.0L392.1 605.2L392.1 605.3L392.1 605.3L392.1 605.5L392.0 605.6L391.9 605.8L391.7 605.9L391.5 606.0L391.2 606.1L390.9 606.2L390.6 606.2L390.2 606.2L389.9 606.3L389.4 606.2L389.0 606.2L388.5 606.1L388.1 606.0L387.6 605.7L387.1 604.8L386.8 604.8L386.5 604.8L386.2 604.7L385.9 604.7L385.6 604.6L385.3 604.5L385.1 604.4L384.8 604.3L384.6 604.2L384.4 604.1L384.3 604.0L384.1 603.8L384.0 603.7L384.0 603.5L383.9 603.4L383.9 603.2ZM382.7 603.2L382.7 603.1L382.7 602.9L382.8 602.8L382.9 602.6L383.0 602.5L383.2 602.4L383.4 602.2L383.6 602.1L383.8 602.0L384.0 602.0L384.3 601.9L384.5 601.8L384.8 601.8L385.1 601.7L385.4 601.7L385.7 601.7L386.2 602.6L386.7 602.8L387.1 603.0L387.6 603.2L388.0 603.4L388.5 603.5L388.9 603.7L389.2 603.9L389.5 604.0L389.8 604.2L390.1 604.3L390.3 604.5L390.5 604.7L390.6 604.8L390.7 605.0L390.7 605.1L390.7 605.1L390.7 605.3L390.6 605.4L390.5 605.5L390.3 605.7L390.1 605.8L389.8 605.9L389.5 605.9L389.2 606.0L388.9 606.0L388.5 606.0L388.0 606.0L387.6 606.0L387.1 605.9L386.7 605.8L386.2 605.6L385.7 604.7L385.4 604.7L385.1 604.7L384.8 604.6L384.5 604.6L384.3 604.5L384.0 604.4L383.8 604.4L383.6 604.3L383.4 604.2L383.2 604.0L383.0 603.9L382.9 603.8L382.8 603.6L382.7 603.5L382.7 603.3L382.7 603.2Z" fill="none" stroke="#262626" stroke-width="0.85"/>
<rect x="440.4" y="383.0" width="125.3" height="207.2" fill="none" stroke="#d0232d" stroke-width="4.2"/>
<text class="red" transform="translate(284.0 432.5) scale(1 1.04)" font-size="63.5">1.3</text>
</g>
<g id="plot2">
<rect x="638.2" y="373.6" width="356.3" height="355.4" fill="#fff" stroke="#4a4a4a" stroke-width="1.3"/>
<path d="M654.6 729.0v4.5M692.4 729.0v4.5M697.7 729.0v4.5M703.4 729.0v4.5M709.0 729.0v4.5M722.5 729.0v4.5M728.2 729.0v4.5M735.7 729.0v4.5M764.4 729.0v4.5M771.4 729.0v4.5M777.6 729.0v4.5M790.9 729.0v4.5M796.3 729.0v4.5M802.5 729.0v4.5M807.9 729.0v4.5M845.5 729.0v4.5M864.6 729.0v4.5M877.3 729.0v4.5M894.1 729.0v4.5M899.9 729.0v4.5M905.2 729.0v4.5M909.6 729.0v4.5M938.7 729.0v4.5M952.6 729.0v4.5M962.4 729.0v4.5M974.5 729.0v4.5M979.5 729.0v4.5M984.1 729.0v4.5M988.5 729.0v4.5" stroke="#111" stroke-width="1.6" fill="none"/>
<path d="M688.1 729.0v8.5M811.9 729.0v8.5M913.4 729.0v8.5M992.9 729.0v8.5" stroke="#111" stroke-width="3.2" fill="none"/>
<path d="M715.9 729.0v7.5M783.9 729.0v7.5M886.6 729.0v7.5M968.9 729.0v7.5" stroke="#111" stroke-width="2.2" fill="none"/>
<path d="M638.2 374.8h-10M638.2 447.3h-10M638.2 536.0h-10M638.2 706.8h-10" stroke="#111" stroke-width="3.0" fill="none"/>
<path d="M638.2 377.5h-5M638.2 380.3h-5M638.2 383.6h-5M638.2 387.4h-5M638.2 401.9h-5M638.2 410.9h-5M638.2 425.0h-5M638.2 450.2h-5M638.2 453.4h-5M638.2 456.8h-5M638.2 460.7h-5M638.2 464.8h-5M638.2 478.0h-5M638.2 488.0h-5M638.2 505.5h-5M638.2 539.7h-5M638.2 544.0h-5M638.2 549.0h-5M638.2 553.6h-5M638.2 559.3h-5M638.2 576.3h-5M638.2 587.2h-5M638.2 598.6h-5M638.2 645.6h-5M638.2 655.8h-5M638.2 665.9h-5M638.2 683.7h-5M638.2 690.0h-5M638.2 695.6h-5M638.2 700.7h-5" stroke="#111" stroke-width="1.5" fill="none"/>
<path d="M638.2 394.5h-7.5M638.2 470.3h-7.5M638.2 567.7h-7.5M638.2 674.8h-7.5" stroke="#111" stroke-width="2.0" fill="none"/>
<rect x="741.1" y="729.0" width="17.6" height="5.5" fill="#111"/>
<path d="M742.5 729.0v8.5M749.4 729.0v9M757.2 729.0v8.5" stroke="#111" stroke-width="3"/>
<rect x="632.7" y="608.8" width="5.5" height="25.9" fill="#111"/>
<path d="M638.2 610.2h-9.5M638.2 618h-7M638.2 625.5h-7M638.2 633.2h-9.5" stroke="#111" stroke-width="3"/>
<path d="M729.4 604.4L729.4 603.3L729.6 602.2L729.8 601.1L730.1 600.1L730.4 599.0L730.9 598.0L731.4 597.0L732.0 596.0L732.7 595.1L733.5 594.2L734.3 593.3L735.2 592.4L736.2 591.6L737.2 590.8L738.3 590.1L739.4 589.4L740.6 588.7L741.8 588.1L743.1 587.6L744.5 587.1L745.8 586.7L747.2 586.3L748.6 585.9L750.1 585.7L751.5 585.5L753.0 585.3L754.5 585.2L756.0 585.2L761.9 586.3L767.8 587.4L773.6 588.4L779.4 589.5L785.1 590.5L790.7 591.6L796.2 592.7L801.6 593.7L806.8 594.8L811.9 595.8L816.8 596.8L821.5 597.8L826.0 598.7L830.2 599.6L834.3 600.5L838.1 601.3L841.6 602.0L844.9 602.7L847.9 603.4L850.6 603.9L853.0 604.5L855.1 604.9L856.9 605.3L858.4 605.6L859.5 605.9L860.3 606.1L860.8 606.2L861.0 606.2L861.0 606.2L860.8 606.2L860.3 606.3L859.5 606.5L858.4 606.7L856.9 607.0L855.1 607.4L853.0 607.8L850.6 608.3L847.9 608.8L844.9 609.4L841.6 610.0L838.1 610.7L834.3 611.4L830.2 612.2L826.0 613.0L821.5 613.8L816.8 614.7L811.9 615.6L806.8 616.5L801.6 617.4L796.2 618.3L790.7 619.2L785.1 620.1L779.4 621.0L773.6 621.8L767.8 622.6L761.9 623.2L756.0 623.5L754.5 623.5L753.0 623.4L751.5 623.2L750.1 623.0L748.6 622.8L747.2 622.4L745.8 622.0L744.5 621.6L743.1 621.1L741.8 620.6L740.6 620.0L739.4 619.3L738.3 618.6L737.2 617.9L736.2 617.1L735.2 616.3L734.3 615.4L733.5 614.5L732.7 613.6L732.0 612.7L731.4 611.7L730.9 610.7L730.4 609.7L730.1 608.6L729.8 607.6L729.6 606.5L729.4 605.4L729.4 604.4Z" fill="#231f20" stroke="#231f20" stroke-width="1.5" stroke-linejoin="round"/>
<path d="M729.4 604.4L729.4 603.3L729.6 602.2L729.8 601.1L730.1 600.1L730.4 599.0L730.9 598.0L731.4 597.0L732.0 596.0L732.7 595.1L733.5 594.2L734.3 593.3L735.2 592.4L736.2 591.6L737.2 590.8L738.3 590.1L739.4 589.4L740.6 588.7L741.8 588.1L743.1 587.6L744.5 587.1L745.8 586.7L747.2 586.3L748.6 585.9L750.1 585.7L751.5 585.5L753.0 585.3L754.5 585.2L756.0 585.2L761.9 586.3L767.8 587.4L773.6 588.4L779.4 589.5L785.1 590.5L790.7 591.6L796.2 592.7L801.6 593.7L806.8 594.8L811.9 595.8L816.8 596.8L821.5 597.8L826.0 598.7L830.2 599.6L834.3 600.5L838.1 601.3L841.6 602.0L844.9 602.7L847.9 603.4L850.6 603.9L853.0 604.5L855.1 604.9L856.9 605.3L858.4 605.6L859.5 605.9L860.3 606.1L860.8 606.2L861.0 606.2L861.0 606.2L860.8 606.2L860.3 606.3L859.5 606.5L858.4 606.7L856.9 607.0L855.1 607.4L853.0 607.8L850.6 608.3L847.9 608.8L844.9 609.4L841.6 610.0L838.1 610.7L834.3 611.4L830.2 612.2L826.0 613.0L821.5 613.8L816.8 614.7L811.9 615.6L806.8 616.5L801.6 617.4L796.2 618.3L790.7 619.2L785.1 620.1L779.4 621.0L773.6 621.8L767.8 622.6L761.9 623.2L756.0 623.5L754.5 623.5L753.0 623.4L751.5 623.2L750.1 623.0L748.6 622.8L747.2 622.4L745.8 622.0L744.5 621.6L743.1 621.1L741.8 620.6L740.6 620.0L739.4 619.3L738.3 618.6L737.2 617.9L736.2 617.1L735.2 616.3L734.3 615.4L733.5 614.5L732.7 613.6L732.0 612.7L731.4 611.7L730.9 610.7L730.4 609.7L730.1 608.6L729.8 607.6L729.6 606.5L729.4 605.4L729.4 604.4Z" fill="#fff"/>
<ellipse cx="763.5" cy="604.9" rx="17" ry="13.4" fill="#9a9a9a"/>
<path d="M724.1 604.2h5.5v5.5h-5.5zM752.8 621.7h5.5v5.5h-5.5zM784.7 618.9h5.5v5.5h-5.5zM786.0 585.0h5.5v5.5h-5.5zM795.2 588.0h5.5v5.5h-5.5zM793.1 587.2h5.5v5.5h-5.5zM752.8 581.4h5.5v5.5h-5.5zM813.2 591.1h5.5v5.5h-5.5zM755.3 621.8h5.5v5.5h-5.5zM757.4 579.1h5.5v5.5h-5.5zM797.9 615.4h5.5v5.5h-5.5zM795.7 615.6h5.5v5.5h-5.5zM818.2 611.6h5.5v5.5h-5.5zM807.6 614.1h5.5v5.5h-5.5zM737.7 618.7h5.5v5.5h-5.5zM727.9 611.1h5.5v5.5h-5.5zM797.7 616.6h5.5v5.5h-5.5zM733.1 618.5h5.5v5.5h-5.5zM752.6 623.2h5.5v5.5h-5.5zM790.8 586.7h5.5v5.5h-5.5zM836.7 596.6h5.5v5.5h-5.5zM744.8 622.2h5.5v5.5h-5.5zM730.6 588.8h5.5v5.5h-5.5zM814.9 613.1h5.5v5.5h-5.5zM797.0 587.8h5.5v5.5h-5.5zM747.6 581.8h5.5v5.5h-5.5zM737.7 584.6h5.5v5.5h-5.5zM731.3 588.3h5.5v5.5h-5.5zM741.4 581.9h5.5v5.5h-5.5zM855.0 601.1h5.5v5.5h-5.5zM734.7 585.7h5.5v5.5h-5.5zM822.7 610.7h5.5v5.5h-5.5zM776.9 584.7h5.5v5.5h-5.5zM725.4 600.4h5.5v5.5h-5.5zM848.3 606.2h5.5v5.5h-5.5zM725.4 609.5h5.5v5.5h-5.5zM756.2 582.0h5.5v5.5h-5.5zM768.4 584.4h5.5v5.5h-5.5zM735.1 618.7h5.5v5.5h-5.5zM747.4 578.7h5.5v5.5h-5.5zM732.5 589.0h5.5v5.5h-5.5zM804.2 590.2h5.5v5.5h-5.5zM831.9 597.0h5.5v5.5h-5.5zM839.0 597.1h5.5v5.5h-5.5zM742.3 579.8h5.5v5.5h-5.5zM808.0 589.7h5.5v5.5h-5.5zM792.0 616.9h5.5v5.5h-5.5zM728.6 591.1h5.5v5.5h-5.5zM822.7 593.8h5.5v5.5h-5.5zM758.0 579.2h5.5v5.5h-5.5zM773.3 584.1h5.5v5.5h-5.5zM783.4 584.8h5.5v5.5h-5.5zM809.3 590.4h5.5v5.5h-5.5zM808.5 613.4h5.5v5.5h-5.5zM806.2 590.7h5.5v5.5h-5.5zM753.4 581.0h5.5v5.5h-5.5zM758.1 580.8h5.5v5.5h-5.5zM811.6 592.1h5.5v5.5h-5.5zM799.9 589.9h5.5v5.5h-5.5zM825.5 596.0h5.5v5.5h-5.5zM826.0 610.7h5.5v5.5h-5.5zM750.5 622.2h5.5v5.5h-5.5zM726.3 601.0h5.5v5.5h-5.5zM828.2 595.5h5.5v5.5h-5.5zM833.3 609.3h5.5v5.5h-5.5zM745.3 578.7h5.5v5.5h-5.5zM774.0 619.2h5.5v5.5h-5.5zM830.9 609.3h5.5v5.5h-5.5zM818.0 592.0h5.5v5.5h-5.5zM811.0 591.2h5.5v5.5h-5.5zM810.9 590.8h5.5v5.5h-5.5zM726.6 594.2h5.5v5.5h-5.5zM748.7 578.7h5.5v5.5h-5.5zM757.0 581.2h5.5v5.5h-5.5zM834.0 609.7h5.5v5.5h-5.5zM838.6 598.4h5.5v5.5h-5.5zM765.6 582.3h5.5v5.5h-5.5zM793.5 616.5h5.5v5.5h-5.5zM766.7 583.2h5.5v5.5h-5.5zM774.1 583.8h5.5v5.5h-5.5zM784.2 584.8h5.5v5.5h-5.5zM830.3 594.7h5.5v5.5h-5.5zM731.1 587.9h5.5v5.5h-5.5zM790.4 588.9h5.5v5.5h-5.5zM802.5 591.3h5.5v5.5h-5.5zM724.8 602.7h5.5v5.5h-5.5zM854.8 602.2h5.5v5.5h-5.5zM728.0 609.8h5.5v5.5h-5.5zM728.6 613.5h5.5v5.5h-5.5zM799.9 587.7h5.5v5.5h-5.5zM734.2 617.4h5.5v5.5h-5.5zM767.1 582.9h5.5v5.5h-5.5zM781.1 584.0h5.5v5.5h-5.5zM819.4 593.2h5.5v5.5h-5.5zM723.5 606.3h5.5v5.5h-5.5zM882.9 591.9h5.5v5.5h-5.5zM901.0 599.5h5.5v5.5h-5.5zM851.2 587.9h5.5v5.5h-5.5zM872.3 605.0h5.5v5.5h-5.5zM877.6 604.6h5.5v5.5h-5.5zM848.7 591.9h5.5v5.5h-5.5zM905.7 611.7h5.5v5.5h-5.5zM861.1 614.3h5.5v5.5h-5.5zM851.5 616.9h5.5v5.5h-5.5zM894.7 613.5h5.5v5.5h-5.5zM886.9 596.6h5.5v5.5h-5.5zM870.2 611.0h5.5v5.5h-5.5zM904.4 600.8h5.5v5.5h-5.5zM882.1 596.1h5.5v5.5h-5.5zM856.2 597.0h5.5v5.5h-5.5zM905.6 608.3h5.5v5.5h-5.5zM888.3 603.4h5.5v5.5h-5.5zM871.2 604.9h5.5v5.5h-5.5zM886.4 599.9h5.5v5.5h-5.5zM847.3 600.3h5.5v5.5h-5.5zM860.4 607.3h5.5v5.5h-5.5zM859.7 588.7h5.5v5.5h-5.5zM886.1 593.7h5.5v5.5h-5.5zM853.9 588.5h5.5v5.5h-5.5zM898.9 593.9h5.5v5.5h-5.5zM884.8 613.3h5.5v5.5h-5.5zM902.3 616.8h5.5v5.5h-5.5zM910.6 610.9h5.5v5.5h-5.5zM856.0 608.1h5.5v5.5h-5.5zM855.3 613.5h5.5v5.5h-5.5zM868.3 601.9h5.5v5.5h-5.5zM908.0 607.9h5.5v5.5h-5.5zM869.0 597.4h5.5v5.5h-5.5zM868.8 610.1h5.5v5.5h-5.5zM896.1 593.3h5.5v5.5h-5.5zM910.0 614.9h5.5v5.5h-5.5zM911.7 599.2h5.5v5.5h-5.5zM882.7 595.5h5.5v5.5h-5.5zM888.4 616.7h5.5v5.5h-5.5zM895.4 607.0h5.5v5.5h-5.5zM856.9 615.3h5.5v5.5h-5.5zM856.0 607.6h5.5v5.5h-5.5zM898.9 602.3h5.5v5.5h-5.5zM903.1 614.8h5.5v5.5h-5.5zM883.7 606.8h5.5v5.5h-5.5zM851.6 590.0h5.5v5.5h-5.5zM897.6 599.6h5.5v5.5h-5.5zM851.7 614.6h5.5v5.5h-5.5zM859.7 596.3h5.5v5.5h-5.5zM850.4 598.5h5.5v5.5h-5.5zM851.9 591.0h5.5v5.5h-5.5zM888.0 603.4h5.5v5.5h-5.5zM899.0 617.0h5.5v5.5h-5.5zM889.4 600.4h5.5v5.5h-5.5zM872.3 598.6h5.5v5.5h-5.5zM877.3 599.2h5.5v5.5h-5.5zM864.3 612.7h5.5v5.5h-5.5zM901.1 614.5h5.5v5.5h-5.5zM882.8 597.7h5.5v5.5h-5.5zM903.5 597.5h5.5v5.5h-5.5zM912.2 607.8h5.5v5.5h-5.5zM864.3 611.8h5.5v5.5h-5.5zM866.8 608.3h5.5v5.5h-5.5zM871.8 606.3h5.5v5.5h-5.5zM859.1 594.8h5.5v5.5h-5.5zM902.3 611.0h5.5v5.5h-5.5zM850.9 599.9h5.5v5.5h-5.5zM893.7 595.6h5.5v5.5h-5.5zM875.5 597.2h5.5v5.5h-5.5zM907.5 614.0h5.5v5.5h-5.5zM877.4 591.5h5.5v5.5h-5.5zM860.8 589.9h5.5v5.5h-5.5zM897.7 603.6h5.5v5.5h-5.5zM901.5 603.6h5.5v5.5h-5.5zM854.6 597.1h5.5v5.5h-5.5zM875.7 614.4h5.5v5.5h-5.5zM854.3 599.4h5.5v5.5h-5.5zM864.4 596.9h5.5v5.5h-5.5zM900.3 594.7h5.5v5.5h-5.5zM851.4 613.4h5.5v5.5h-5.5zM849.6 617.3h5.5v5.5h-5.5zM907.5 607.5h5.5v5.5h-5.5zM890.7 604.7h5.5v5.5h-5.5zM877.5 598.2h5.5v5.5h-5.5zM897.7 601.5h5.5v5.5h-5.5zM854.4 597.3h5.5v5.5h-5.5zM872.8 593.6h5.5v5.5h-5.5zM900.9 604.6h5.5v5.5h-5.5zM889.9 616.2h5.5v5.5h-5.5zM894.8 600.6h5.5v5.5h-5.5zM894.8 606.6h5.5v5.5h-5.5zM880.3 596.4h5.5v5.5h-5.5zM895.1 615.2h5.5v5.5h-5.5zM884.7 613.5h5.5v5.5h-5.5zM878.7 601.2h5.5v5.5h-5.5zM911.7 601.5h5.5v5.5h-5.5zM865.8 614.3h5.5v5.5h-5.5zM899.3 613.0h5.5v5.5h-5.5zM908.3 598.1h5.5v5.5h-5.5zM875.6 607.1h5.5v5.5h-5.5zM885.7 612.8h5.5v5.5h-5.5zM851.9 594.7h5.5v5.5h-5.5zM862.9 608.4h5.5v5.5h-5.5zM873.2 593.8h5.5v5.5h-5.5zM867.1 608.3h5.5v5.5h-5.5zM860.5 603.4h5.5v5.5h-5.5zM892.5 602.8h5.5v5.5h-5.5zM894.6 617.0h5.5v5.5h-5.5zM900.3 607.7h5.5v5.5h-5.5zM897.0 617.0h5.5v5.5h-5.5zM856.0 588.4h5.5v5.5h-5.5zM907.4 613.8h5.5v5.5h-5.5zM878.3 595.1h5.5v5.5h-5.5zM904.8 597.1h5.5v5.5h-5.5zM871.6 609.7h5.5v5.5h-5.5zM908.1 607.0h5.5v5.5h-5.5zM871.4 599.5h5.5v5.5h-5.5zM908.5 607.9h5.5v5.5h-5.5zM862.1 614.1h5.5v5.5h-5.5zM857.5 590.2h5.5v5.5h-5.5zM789.9 572.0h5.5v5.5h-5.5zM745.5 580.4h5.5v5.5h-5.5zM786.7 578.9h5.5v5.5h-5.5zM744.0 582.1h5.5v5.5h-5.5zM745.0 573.6h5.5v5.5h-5.5zM768.1 577.9h5.5v5.5h-5.5zM752.2 572.0h5.5v5.5h-5.5zM742.7 581.4h5.5v5.5h-5.5zM801.2 572.2h5.5v5.5h-5.5zM751.5 578.4h5.5v5.5h-5.5zM760.0 582.1h5.5v5.5h-5.5zM752.5 577.3h5.5v5.5h-5.5zM792.0 576.1h5.5v5.5h-5.5zM769.0 580.7h5.5v5.5h-5.5zM756.0 578.8h5.5v5.5h-5.5zM754.7 571.5h5.5v5.5h-5.5zM803.5 577.1h5.5v5.5h-5.5zM780.6 578.8h5.5v5.5h-5.5zM750.5 582.1h5.5v5.5h-5.5zM799.9 577.5h5.5v5.5h-5.5zM805.0 571.8h5.5v5.5h-5.5zM757.3 572.6h5.5v5.5h-5.5zM755.8 582.0h5.5v5.5h-5.5zM775.6 574.3h5.5v5.5h-5.5zM797.2 581.5h5.5v5.5h-5.5zM764.6 575.2h5.5v5.5h-5.5zM778.5 580.7h5.5v5.5h-5.5zM752.3 575.0h5.5v5.5h-5.5zM881.3 586.7h5.5v5.5h-5.5zM896.0 603.1h5.5v5.5h-5.5zM876.3 606.7h5.5v5.5h-5.5zM920.6 591.7h5.5v5.5h-5.5zM911.0 606.5h5.5v5.5h-5.5zM882.3 604.0h5.5v5.5h-5.5zM883.2 601.3h5.5v5.5h-5.5zM862.5 603.6h5.5v5.5h-5.5zM862.7 599.1h5.5v5.5h-5.5zM911.0 594.9h5.5v5.5h-5.5zM903.7 592.4h5.5v5.5h-5.5zM910.3 603.3h5.5v5.5h-5.5zM878.9 586.2h5.5v5.5h-5.5zM866.1 585.5h5.5v5.5h-5.5zM901.8 590.7h5.5v5.5h-5.5zM880.0 606.1h5.5v5.5h-5.5zM902.5 596.7h5.5v5.5h-5.5zM918.6 594.3h5.5v5.5h-5.5zM900.8 586.1h5.5v5.5h-5.5zM873.2 607.7h5.5v5.5h-5.5zM926.3 591.3h5.5v5.5h-5.5zM893.0 588.9h5.5v5.5h-5.5zM894.1 608.2h5.5v5.5h-5.5zM917.5 603.0h5.5v5.5h-5.5zM892.0 605.5h5.5v5.5h-5.5zM875.9 594.9h5.5v5.5h-5.5zM873.0 599.7h5.5v5.5h-5.5zM904.5 607.6h5.5v5.5h-5.5zM868.0 601.8h5.5v5.5h-5.5zM883.8 601.9h5.5v5.5h-5.5zM894.4 485.4h5.5v5.5h-5.5zM872.5 585.4h5.5v5.5h-5.5zM876.5 534.4h5.5v5.5h-5.5zM870.8 540.3h5.5v5.5h-5.5zM851.2 535.9h5.5v5.5h-5.5zM897.0 535.8h5.5v5.5h-5.5zM880.4 473.7h5.5v5.5h-5.5zM886.0 511.7h5.5v5.5h-5.5zM874.4 476.1h5.5v5.5h-5.5zM860.6 494.9h5.5v5.5h-5.5zM867.1 583.0h5.5v5.5h-5.5zM869.4 520.6h5.5v5.5h-5.5zM884.4 546.6h5.5v5.5h-5.5zM891.8 536.9h5.5v5.5h-5.5zM898.1 541.1h5.5v5.5h-5.5zM877.8 503.8h5.5v5.5h-5.5zM896.4 580.4h5.5v5.5h-5.5zM881.0 507.1h5.5v5.5h-5.5zM872.9 497.2h5.5v5.5h-5.5zM864.1 498.3h5.5v5.5h-5.5zM856.1 549.9h5.5v5.5h-5.5zM897.4 497.6h5.5v5.5h-5.5zM863.3 490.1h5.5v5.5h-5.5zM870.8 492.4h5.5v5.5h-5.5zM850.9 570.6h5.5v5.5h-5.5zM852.8 519.4h5.5v5.5h-5.5zM901.5 504.0h5.5v5.5h-5.5zM895.4 553.4h5.5v5.5h-5.5zM862.4 562.6h5.5v5.5h-5.5zM862.7 511.5h5.5v5.5h-5.5zM865.3 473.4h5.5v5.5h-5.5zM848.7 520.7h5.5v5.5h-5.5zM865.0 576.3h5.5v5.5h-5.5zM887.9 525.3h5.5v5.5h-5.5zM867.9 578.1h5.5v5.5h-5.5zM860.3 513.0h5.5v5.5h-5.5zM882.0 538.5h5.5v5.5h-5.5zM857.5 567.1h5.5v5.5h-5.5zM881.0 553.8h5.5v5.5h-5.5zM866.8 528.4h5.5v5.5h-5.5zM899.6 530.7h5.5v5.5h-5.5zM849.6 565.9h5.5v5.5h-5.5zM862.3 519.5h5.5v5.5h-5.5zM882.8 540.4h5.5v5.5h-5.5zM893.7 575.6h5.5v5.5h-5.5zM813.3 552.2h5.5v5.5h-5.5zM843.7 587.0h5.5v5.5h-5.5zM859.0 585.7h5.5v5.5h-5.5zM874.3 583.0h5.5v5.5h-5.5zM813.4 538.8h5.5v5.5h-5.5zM858.6 583.4h5.5v5.5h-5.5zM887.6 563.7h5.5v5.5h-5.5zM864.8 574.6h5.5v5.5h-5.5zM821.2 571.0h5.5v5.5h-5.5zM889.5 549.2h5.5v5.5h-5.5zM836.9 555.3h5.5v5.5h-5.5zM859.8 556.7h5.5v5.5h-5.5zM876.9 565.7h5.5v5.5h-5.5zM871.9 570.1h5.5v5.5h-5.5zM861.3 545.3h5.5v5.5h-5.5zM830.2 540.4h5.5v5.5h-5.5zM877.0 539.8h5.5v5.5h-5.5zM875.1 581.8h5.5v5.5h-5.5zM830.5 582.6h5.5v5.5h-5.5zM882.3 575.2h5.5v5.5h-5.5zM846.6 584.9h5.5v5.5h-5.5zM898.2 574.0h5.5v5.5h-5.5zM892.6 547.0h5.5v5.5h-5.5zM824.5 561.4h5.5v5.5h-5.5zM871.7 567.5h5.5v5.5h-5.5zM920.4 560.5h5.5v5.5h-5.5zM902.9 587.3h5.5v5.5h-5.5zM911.7 564.5h5.5v5.5h-5.5zM910.5 584.6h5.5v5.5h-5.5zM909.8 574.6h5.5v5.5h-5.5zM905.9 596.3h5.5v5.5h-5.5zM880.0 434.8h5.5v5.5h-5.5zM817.5 440.1h5.5v5.5h-5.5zM811.7 448.6h5.5v5.5h-5.5zM888.3 448.6h5.5v5.5h-5.5zM896.8 447.5h5.5v5.5h-5.5zM827.1 459.7h5.5v5.5h-5.5zM842.8 459.7h5.5v5.5h-5.5zM847.4 457.8h5.5v5.5h-5.5zM851.3 456.7h5.5v5.5h-5.5zM873.8 459.7h5.5v5.5h-5.5zM877.3 461.3h5.5v5.5h-5.5zM819.8 468.2h5.5v5.5h-5.5zM824.4 466.6h5.5v5.5h-5.5zM831.3 469.3h5.5v5.5h-5.5zM847.4 467.5h5.5v5.5h-5.5zM855.4 465.9h5.5v5.5h-5.5zM858.9 467.5h5.5v5.5h-5.5zM863.5 470.5h5.5v5.5h-5.5zM869.2 467.5h5.5v5.5h-5.5zM874.3 464.7h5.5v5.5h-5.5zM879.6 464.3h5.5v5.5h-5.5zM881.9 469.3h5.5v5.5h-5.5zM887.6 468.9h5.5v5.5h-5.5zM817.5 472.8h5.5v5.5h-5.5zM822.1 476.2h5.5v5.5h-5.5zM837.0 473.9h5.5v5.5h-5.5zM842.8 472.8h5.5v5.5h-5.5zM847.4 475.1h5.5v5.5h-5.5zM866.9 475.1h5.5v5.5h-5.5zM871.5 473.9h5.5v5.5h-5.5zM875.0 472.8h5.5v5.5h-5.5zM879.6 475.1h5.5v5.5h-5.5zM824.4 482.0h5.5v5.5h-5.5zM849.7 480.8h5.5v5.5h-5.5zM854.3 479.7h5.5v5.5h-5.5zM849.7 486.6h5.5v5.5h-5.5zM855.4 485.4h5.5v5.5h-5.5zM875.0 480.8h5.5v5.5h-5.5zM895.7 486.6h5.5v5.5h-5.5zM913.4 485.0h5.5v5.5h-5.5zM818.6 494.1h5.5v5.5h-5.5zM848.5 492.3h5.5v5.5h-5.5zM866.9 490.0h5.5v5.5h-5.5zM871.5 489.5h5.5v5.5h-5.5zM869.2 494.6h5.5v5.5h-5.5zM875.0 494.1h5.5v5.5h-5.5zM820.2 502.2h5.5v5.5h-5.5zM834.7 501.5h5.5v5.5h-5.5zM866.9 498.1h5.5v5.5h-5.5zM871.5 499.2h5.5v5.5h-5.5zM881.9 496.9h5.5v5.5h-5.5zM887.6 499.2h5.5v5.5h-5.5zM900.2 498.1h5.5v5.5h-5.5zM862.3 502.7h5.5v5.5h-5.5zM869.2 502.7h5.5v5.5h-5.5zM876.1 501.5h5.5v5.5h-5.5zM837.0 506.1h5.5v5.5h-5.5zM842.8 507.2h5.5v5.5h-5.5zM847.4 509.5h5.5v5.5h-5.5zM860.0 507.2h5.5v5.5h-5.5zM866.9 506.1h5.5v5.5h-5.5zM876.1 507.2h5.5v5.5h-5.5zM881.9 508.4h5.5v5.5h-5.5zM887.6 506.1h5.5v5.5h-5.5zM899.1 507.7h5.5v5.5h-5.5zM902.5 506.1h5.5v5.5h-5.5zM826.7 510.7h5.5v5.5h-5.5zM839.3 513.0h5.5v5.5h-5.5zM845.1 514.1h5.5v5.5h-5.5zM852.0 513.5h5.5v5.5h-5.5zM857.7 512.5h5.5v5.5h-5.5zM864.6 515.3h5.5v5.5h-5.5zM869.2 514.1h5.5v5.5h-5.5zM879.6 513.0h5.5v5.5h-5.5zM885.3 511.8h5.5v5.5h-5.5zM866.9 518.7h5.5v5.5h-5.5zM873.8 517.6h5.5v5.5h-5.5zM815.2 523.3h5.5v5.5h-5.5zM825.5 521.0h5.5v5.5h-5.5zM817.5 527.9h5.5v5.5h-5.5zM845.1 521.0h5.5v5.5h-5.5zM849.7 524.5h5.5v5.5h-5.5zM854.3 523.3h5.5v5.5h-5.5zM869.2 522.2h5.5v5.5h-5.5zM875.0 523.3h5.5v5.5h-5.5zM880.7 524.5h5.5v5.5h-5.5zM893.4 521.7h5.5v5.5h-5.5zM899.1 522.2h5.5v5.5h-5.5zM913.4 521.0h5.5v5.5h-5.5zM912.2 527.9h5.5v5.5h-5.5zM846.2 527.9h5.5v5.5h-5.5zM853.1 526.8h5.5v5.5h-5.5zM868.1 531.4h5.5v5.5h-5.5zM876.1 527.9h5.5v5.5h-5.5zM881.9 529.1h5.5v5.5h-5.5zM887.6 526.8h5.5v5.5h-5.5zM892.2 527.9h5.5v5.5h-5.5zM841.2 534.4h5.5v5.5h-5.5zM827.8 538.3h5.5v5.5h-5.5zM848.5 540.6h5.5v5.5h-5.5zM879.6 534.8h5.5v5.5h-5.5zM885.3 533.7h5.5v5.5h-5.5zM889.9 536.0h5.5v5.5h-5.5zM877.3 540.6h5.5v5.5h-5.5zM883.0 539.4h5.5v5.5h-5.5zM888.8 540.6h5.5v5.5h-5.5zM894.5 541.7h5.5v5.5h-5.5zM899.1 540.6h5.5v5.5h-5.5zM829.0 545.2h5.5v5.5h-5.5zM826.7 547.5h5.5v5.5h-5.5zM831.3 549.8h5.5v5.5h-5.5zM862.3 542.9h5.5v5.5h-5.5zM866.9 546.3h5.5v5.5h-5.5zM862.3 548.6h5.5v5.5h-5.5zM869.2 547.5h5.5v5.5h-5.5zM879.6 545.2h5.5v5.5h-5.5zM885.3 546.3h5.5v5.5h-5.5zM891.1 545.2h5.5v5.5h-5.5zM896.8 545.2h5.5v5.5h-5.5zM901.4 547.5h5.5v5.5h-5.5zM887.6 550.9h5.5v5.5h-5.5zM893.4 552.1h5.5v5.5h-5.5zM903.7 553.2h5.5v5.5h-5.5zM808.8 556.7h5.5v5.5h-5.5zM819.8 559.0h5.5v5.5h-5.5zM862.3 552.1h5.5v5.5h-5.5zM877.3 557.8h5.5v5.5h-5.5zM886.5 554.4h5.5v5.5h-5.5zM888.8 557.8h5.5v5.5h-5.5zM883.0 559.0h5.5v5.5h-5.5zM841.6 561.7h5.5v5.5h-5.5zM845.1 565.9h5.5v5.5h-5.5zM852.0 561.7h5.5v5.5h-5.5zM857.7 561.3h5.5v5.5h-5.5zM861.2 561.7h5.5v5.5h-5.5zM879.6 563.6h5.5v5.5h-5.5zM885.3 562.4h5.5v5.5h-5.5zM822.1 565.9h5.5v5.5h-5.5zM826.7 567.0h5.5v5.5h-5.5zM830.1 569.3h5.5v5.5h-5.5zM817.5 568.2h5.5v5.5h-5.5zM811.7 570.9h5.5v5.5h-5.5zM868.1 567.0h5.5v5.5h-5.5zM871.5 568.2h5.5v5.5h-5.5zM858.9 569.3h5.5v5.5h-5.5zM819.8 572.8h5.5v5.5h-5.5zM825.5 573.9h5.5v5.5h-5.5zM832.4 576.2h5.5v5.5h-5.5zM814.0 576.2h5.5v5.5h-5.5zM860.0 572.8h5.5v5.5h-5.5zM865.8 571.6h5.5v5.5h-5.5zM871.5 572.8h5.5v5.5h-5.5zM878.4 571.6h5.5v5.5h-5.5zM884.2 572.8h5.5v5.5h-5.5zM891.1 571.6h5.5v5.5h-5.5zM896.8 573.9h5.5v5.5h-5.5zM901.4 576.2h5.5v5.5h-5.5zM908.3 576.2h5.5v5.5h-5.5zM858.9 577.4h5.5v5.5h-5.5zM864.6 576.2h5.5v5.5h-5.5zM870.4 577.4h5.5v5.5h-5.5zM876.1 576.9h5.5v5.5h-5.5zM883.0 577.4h5.5v5.5h-5.5zM889.9 576.9h5.5v5.5h-5.5zM894.5 577.8h5.5v5.5h-5.5zM810.6 579.7h5.5v5.5h-5.5zM817.5 580.8h5.5v5.5h-5.5zM823.2 579.7h5.5v5.5h-5.5zM834.7 578.5h5.5v5.5h-5.5zM837.0 580.8h5.5v5.5h-5.5zM862.3 579.7h5.5v5.5h-5.5zM869.2 580.1h5.5v5.5h-5.5zM876.1 580.8h5.5v5.5h-5.5zM884.2 580.1h5.5v5.5h-5.5zM892.2 580.1h5.5v5.5h-5.5zM899.1 579.7h5.5v5.5h-5.5zM904.8 579.2h5.5v5.5h-5.5zM925.5 587.7h5.5v5.5h-5.5zM800.5 455.6h5.5v5.5h-5.5zM797.6 466.3h5.5v5.5h-5.5zM751.1 468.2h5.5v5.5h-5.5zM756.0 465.9h5.5v5.5h-5.5zM773.8 465.7h5.5v5.5h-5.5zM752.1 480.2h5.5v5.5h-5.5zM767.6 475.0h5.5v5.5h-5.5zM771.4 476.9h5.5v5.5h-5.5zM778.2 480.8h5.5v5.5h-5.5zM761.8 484.7h5.5v5.5h-5.5zM766.6 483.7h5.5v5.5h-5.5zM768.5 488.5h5.5v5.5h-5.5zM772.4 486.6h5.5v5.5h-5.5zM794.7 479.8h5.5v5.5h-5.5zM799.5 480.8h5.5v5.5h-5.5zM797.6 483.7h5.5v5.5h-5.5zM744.7 493.4h5.5v5.5h-5.5zM753.1 492.0h5.5v5.5h-5.5zM782.1 494.7h5.5v5.5h-5.5zM786.9 497.6h5.5v5.5h-5.5zM781.1 503.1h5.5v5.5h-5.5zM759.8 505.0h5.5v5.5h-5.5zM760.8 509.8h5.5v5.5h-5.5zM775.3 508.9h5.5v5.5h-5.5zM786.9 508.9h5.5v5.5h-5.5zM799.5 505.0h5.5v5.5h-5.5zM800.5 512.7h5.5v5.5h-5.5zM796.0 514.7h5.5v5.5h-5.5zM741.8 510.2h5.5v5.5h-5.5zM758.9 515.6h5.5v5.5h-5.5zM764.7 516.6h5.5v5.5h-5.5zM771.4 517.0h5.5v5.5h-5.5zM782.1 515.6h5.5v5.5h-5.5zM771.4 521.4h5.5v5.5h-5.5zM761.4 523.8h5.5v5.5h-5.5zM765.6 528.2h5.5v5.5h-5.5zM778.2 523.4h5.5v5.5h-5.5zM781.1 525.3h5.5v5.5h-5.5zM788.9 528.2h5.5v5.5h-5.5zM792.7 530.1h5.5v5.5h-5.5zM765.6 532.1h5.5v5.5h-5.5zM778.2 532.5h5.5v5.5h-5.5zM750.1 539.2h5.5v5.5h-5.5zM744.7 544.7h5.5v5.5h-5.5zM781.1 538.9h5.5v5.5h-5.5zM769.5 542.7h5.5v5.5h-5.5zM766.6 547.6h5.5v5.5h-5.5zM771.4 549.5h5.5v5.5h-5.5zM777.2 548.5h5.5v5.5h-5.5zM789.2 550.5h5.5v5.5h-5.5zM797.6 547.6h5.5v5.5h-5.5zM760.8 557.2h5.5v5.5h-5.5zM761.8 561.1h5.5v5.5h-5.5zM768.5 556.3h5.5v5.5h-5.5zM773.4 553.4h5.5v5.5h-5.5zM777.2 557.2h5.5v5.5h-5.5zM782.1 555.3h5.5v5.5h-5.5zM786.9 558.2h5.5v5.5h-5.5zM791.8 561.1h5.5v5.5h-5.5zM796.6 560.1h5.5v5.5h-5.5zM800.5 565.0h5.5v5.5h-5.5zM780.1 563.0h5.5v5.5h-5.5zM785.0 565.0h5.5v5.5h-5.5zM787.9 568.9h5.5v5.5h-5.5zM794.7 570.8h5.5v5.5h-5.5zM745.3 570.8h5.5v5.5h-5.5zM750.1 569.8h5.5v5.5h-5.5zM755.0 570.8h5.5v5.5h-5.5zM758.9 572.7h5.5v5.5h-5.5zM763.7 572.7h5.5v5.5h-5.5zM745.3 575.6h5.5v5.5h-5.5zM751.1 574.7h5.5v5.5h-5.5zM756.9 576.6h5.5v5.5h-5.5zM771.4 573.7h5.5v5.5h-5.5zM780.1 578.5h5.5v5.5h-5.5zM785.0 579.5h5.5v5.5h-5.5zM789.8 581.4h5.5v5.5h-5.5zM796.6 580.5h5.5v5.5h-5.5zM722.1 587.2h5.5v5.5h-5.5zM726.0 586.3h5.5v5.5h-5.5zM731.8 584.3h5.5v5.5h-5.5zM798.5 586.3h5.5v5.5h-5.5zM914.8 613.2h5.5v5.5h-5.5zM940.0 613.2h5.5v5.5h-5.5zM958.2 624.9h5.5v5.5h-5.5z" fill="#231f20"/>
<path d="M729.4 604.4L729.4 603.3L729.6 602.2L729.8 601.1L730.1 600.1L730.4 599.0L730.9 598.0L731.4 597.0L732.0 596.0L732.7 595.1L733.5 594.2L734.3 593.3L735.2 592.4L736.2 591.6L737.2 590.8L738.3 590.1L739.4 589.4L740.6 588.7L741.8 588.1L743.1 587.6L744.5 587.1L745.8 586.7L747.2 586.3L748.6 585.9L750.1 585.7L751.5 585.5L753.0 585.3L754.5 585.2L756.0 585.2L761.9 586.3L767.8 587.4L773.6 588.4L779.4 589.5L785.1 590.5L790.7 591.6L796.2 592.7L801.6 593.7L806.8 594.8L811.9 595.8L816.8 596.8L821.5 597.8L826.0 598.7L830.2 599.6L834.3 600.5L838.1 601.3L841.6 602.0L844.9 602.7L847.9 603.4L850.6 603.9L853.0 604.5L855.1 604.9L856.9 605.3L858.4 605.6L859.5 605.9L860.3 606.1L860.8 606.2L861.0 606.2L861.0 606.2L860.8 606.2L860.3 606.3L859.5 606.5L858.4 606.7L856.9 607.0L855.1 607.4L853.0 607.8L850.6 608.3L847.9 608.8L844.9 609.4L841.6 610.0L838.1 610.7L834.3 611.4L830.2 612.2L826.0 613.0L821.5 613.8L816.8 614.7L811.9 615.6L806.8 616.5L801.6 617.4L796.2 618.3L790.7 619.2L785.1 620.1L779.4 621.0L773.6 621.8L767.8 622.6L761.9 623.2L756.0 623.5L754.5 623.5L753.0 623.4L751.5 623.2L750.1 623.0L748.6 622.8L747.2 622.4L745.8 622.0L744.5 621.6L743.1 621.1L741.8 620.6L740.6 620.0L739.4 619.3L738.3 618.6L737.2 617.9L736.2 617.1L735.2 616.3L734.3 615.4L733.5 614.5L732.7 613.6L732.0 612.7L731.4 611.7L730.9 610.7L730.4 609.7L730.1 608.6L729.8 607.6L729.6 606.5L729.4 605.4L729.4 604.4ZM731.1 604.4L731.2 602.6L731.6 600.9L732.2 599.2L733.1 597.6L734.2 596.0L735.5 594.5L737.0 593.1L738.7 591.8L740.6 590.6L742.6 589.6L744.8 588.7L747.1 588.0L749.5 587.4L751.9 586.9L754.5 586.7L757.0 586.6L764.4 587.5L771.7 588.5L778.9 589.7L785.9 591.0L792.6 592.3L799.0 593.8L804.9 595.3L810.4 596.8L815.4 598.3L819.8 599.8L823.7 601.2L826.8 602.5L829.3 603.7L831.1 604.7L832.2 605.5L832.6 605.9L832.6 605.9L832.2 606.4L831.1 607.1L829.3 608.1L826.8 609.2L823.7 610.5L819.8 611.8L815.4 613.2L810.4 614.6L804.9 615.9L799.0 617.3L792.6 618.5L785.9 619.7L778.9 620.7L771.7 621.6L764.4 622.1L757.0 622.1L754.5 622.0L751.9 621.8L749.5 621.3L747.1 620.7L744.8 620.0L742.6 619.1L740.6 618.1L738.7 616.9L737.0 615.6L735.5 614.2L734.2 612.7L733.1 611.1L732.2 609.5L731.6 607.8L731.2 606.1L731.1 604.4ZM732.8 604.4L732.9 602.7L733.3 601.2L733.9 599.6L734.7 598.1L735.8 596.6L737.0 595.3L738.5 594.0L740.2 592.8L742.0 591.7L744.0 590.8L746.1 589.9L748.4 589.2L750.7 588.7L753.1 588.3L755.5 588.1L758.0 588.0L763.7 588.8L769.4 589.6L774.9 590.6L780.3 591.7L785.5 592.9L790.4 594.2L795.0 595.6L799.3 596.9L803.1 598.3L806.5 599.7L809.5 601.0L811.9 602.3L813.8 603.4L815.2 604.5L816.1 605.3L816.3 605.8L816.3 605.8L816.1 606.2L815.2 607.0L813.8 608.0L811.9 609.1L809.5 610.3L806.5 611.6L803.1 612.8L799.3 614.1L795.0 615.4L790.4 616.6L785.5 617.7L780.3 618.7L774.9 619.6L769.4 620.3L763.7 620.8L758.0 620.7L755.5 620.6L753.1 620.4L750.7 620.0L748.4 619.5L746.1 618.8L744.0 617.9L742.0 617.0L740.2 615.9L738.5 614.7L737.0 613.4L735.8 612.1L734.7 610.6L733.9 609.1L733.3 607.5L732.9 606.0L732.8 604.4ZM734.5 604.4L734.6 602.9L735.0 601.4L735.6 600.0L736.4 598.6L737.4 597.3L738.6 596.0L740.1 594.9L741.7 593.8L743.5 592.8L745.4 591.9L747.5 591.2L749.6 590.5L751.9 590.0L754.2 589.7L756.6 589.5L759.0 589.4L763.9 590.1L768.8 590.8L773.6 591.6L778.2 592.6L782.7 593.6L786.9 594.8L790.9 596.0L794.5 597.2L797.8 598.5L800.8 599.8L803.3 601.0L805.4 602.2L807.1 603.3L808.3 604.3L809.0 605.1L809.2 605.7L809.2 605.7L809.0 606.2L808.3 607.0L807.1 608.0L805.4 609.0L803.3 610.2L800.8 611.3L797.8 612.5L794.5 613.7L790.9 614.8L786.9 615.9L782.7 616.9L778.2 617.8L773.6 618.5L768.8 619.1L763.9 619.4L759.0 619.3L756.6 619.2L754.2 619.0L751.9 618.7L749.6 618.2L747.5 617.5L745.4 616.8L743.5 615.9L741.7 614.9L740.1 613.8L738.6 612.7L737.4 611.4L736.4 610.1L735.6 608.7L735.0 607.3L734.6 605.8L734.5 604.4ZM736.2 604.4L736.3 603.0L736.7 601.7L737.2 600.4L738.0 599.2L739.0 598.0L740.2 596.8L741.6 595.8L743.2 594.8L744.9 593.9L746.8 593.1L748.8 592.4L750.9 591.8L753.1 591.4L755.4 591.1L757.7 590.9L760.0 590.8L764.2 591.4L768.4 592.0L772.5 592.7L776.5 593.5L780.3 594.4L784.0 595.4L787.4 596.5L790.5 597.6L793.4 598.7L795.9 599.9L798.1 601.0L799.9 602.2L801.3 603.2L802.3 604.2L802.9 605.0L803.1 605.6L803.1 605.6L802.9 606.1L802.3 607.0L801.3 607.9L799.9 608.9L798.1 610.0L795.9 611.1L793.4 612.1L790.5 613.2L787.4 614.2L784.0 615.1L780.3 616.0L776.5 616.7L772.5 617.4L768.4 617.8L764.2 618.1L760.0 617.9L757.7 617.8L755.4 617.6L753.1 617.3L750.9 616.9L748.8 616.3L746.8 615.6L744.9 614.8L743.2 613.9L741.6 612.9L740.2 611.9L739.0 610.7L738.0 609.5L737.2 608.3L736.7 607.0L736.3 605.7L736.2 604.4ZM737.9 604.4L738.0 603.2L738.3 602.0L738.9 600.8L739.7 599.7L740.6 598.6L741.8 597.6L743.1 596.6L744.7 595.8L746.3 595.0L748.2 594.2L750.1 593.6L752.2 593.1L754.3 592.7L756.5 592.4L758.7 592.3L761.0 592.2L764.5 592.7L768.0 593.2L771.5 593.8L774.8 594.5L778.0 595.3L781.0 596.1L783.9 597.0L786.5 598.0L788.9 599.0L791.0 600.1L792.8 601.1L794.3 602.2L795.5 603.2L796.4 604.1L796.9 604.9L797.1 605.5L797.1 605.5L796.9 606.1L796.4 606.9L795.5 607.8L794.3 608.8L792.8 609.7L791.0 610.7L788.9 611.7L786.5 612.6L783.9 613.5L781.0 614.3L778.0 615.0L774.8 615.7L771.5 616.2L768.0 616.5L764.5 616.7L761.0 616.5L758.7 616.4L756.5 616.3L754.3 616.0L752.2 615.6L750.1 615.1L748.2 614.5L746.3 613.7L744.7 612.9L743.1 612.1L741.8 611.1L740.6 610.1L739.7 609.0L738.9 607.9L738.3 606.7L738.0 605.5L737.9 604.4ZM739.6 604.4L739.7 603.3L740.0 602.3L740.6 601.2L741.3 600.2L742.2 599.3L743.4 598.4L744.7 597.5L746.2 596.7L747.8 596.0L749.6 595.4L751.4 594.9L753.4 594.4L755.5 594.1L757.6 593.8L759.8 593.7L762.0 593.6L764.8 594.0L767.7 594.4L770.4 594.9L773.1 595.5L775.7 596.2L778.1 596.9L780.4 597.7L782.5 598.5L784.4 599.4L786.1 600.3L787.5 601.3L788.8 602.2L789.7 603.1L790.4 604.0L790.8 604.8L791.0 605.4L791.0 605.4L790.8 606.0L790.4 606.8L789.7 607.7L788.8 608.5L787.5 609.4L786.1 610.3L784.4 611.2L782.5 612.0L780.4 612.7L778.1 613.4L775.7 614.0L773.1 614.5L770.4 614.9L767.7 615.2L764.8 615.3L762.0 615.1L759.8 615.0L757.6 614.9L755.5 614.6L753.4 614.3L751.4 613.8L749.6 613.3L747.8 612.7L746.2 612.0L744.7 611.2L743.4 610.3L742.2 609.4L741.3 608.5L740.6 607.5L740.0 606.4L739.7 605.4L739.6 604.4ZM741.3 604.4L741.4 603.4L741.7 602.5L742.2 601.6L743.0 600.8L743.9 599.9L745.0 599.2L746.2 598.4L747.7 597.7L749.2 597.1L750.9 596.6L752.8 596.1L754.7 595.7L756.7 595.4L758.8 595.2L760.9 595.0L763.0 595.0L765.2 595.4L767.5 595.7L769.6 596.1L771.8 596.6L773.8 597.1L775.7 597.7L777.5 598.4L779.2 599.1L780.7 599.9L782.0 600.7L783.2 601.5L784.1 602.3L784.9 603.1L785.5 604.0L785.8 604.7L785.9 605.3L785.9 605.3L785.8 606.0L785.5 606.7L784.9 607.5L784.1 608.3L783.2 609.1L782.0 609.8L780.7 610.6L779.2 611.2L777.5 611.9L775.7 612.4L773.8 612.9L771.8 613.3L769.6 613.7L767.5 613.9L765.2 613.9L763.0 613.7L760.9 613.7L758.8 613.5L756.7 613.3L754.7 613.0L752.8 612.6L750.9 612.1L749.2 611.6L747.7 611.0L746.2 610.3L745.0 609.5L743.9 608.8L743.0 607.9L742.2 607.1L741.7 606.2L741.4 605.3L741.3 604.4ZM743.0 604.4L743.1 603.6L743.4 602.8L743.9 602.0L744.6 601.3L745.5 600.6L746.5 599.9L747.8 599.3L749.2 598.7L750.7 598.2L752.3 597.7L754.1 597.3L756.0 597.0L757.9 596.7L759.9 596.6L761.9 596.4L764.0 596.4L765.7 596.7L767.5 597.0L769.2 597.3L770.8 597.7L772.4 598.1L773.9 598.6L775.3 599.2L776.6 599.8L777.8 600.4L778.8 601.1L779.7 601.8L780.5 602.5L781.1 603.2L781.5 603.9L781.7 604.6L781.8 605.3L781.8 605.3L781.7 605.9L781.5 606.6L781.1 607.3L780.5 608.0L779.7 608.6L778.8 609.3L777.8 609.9L776.6 610.5L775.3 611.0L773.9 611.4L772.4 611.8L770.8 612.1L769.2 612.4L767.5 612.5L765.7 612.5L764.0 612.3L761.9 612.3L759.9 612.1L757.9 612.0L756.0 611.7L754.1 611.4L752.3 611.0L750.7 610.5L749.2 610.0L747.8 609.4L746.5 608.8L745.5 608.1L744.6 607.4L743.9 606.7L743.4 605.9L743.1 605.1L743.0 604.4ZM744.7 604.4L744.8 603.7L745.1 603.1L745.6 602.4L746.2 601.8L747.1 601.3L748.1 600.7L749.3 600.2L750.6 599.7L752.1 599.3L753.7 598.9L755.4 598.6L757.2 598.3L759.1 598.1L761.0 597.9L763.0 597.8L765.0 597.8L766.3 598.1L767.5 598.3L768.7 598.6L769.9 598.9L771.0 599.2L772.1 599.6L773.1 600.0L774.0 600.5L774.9 601.0L775.6 601.6L776.3 602.1L776.8 602.7L777.2 603.3L777.5 604.0L777.7 604.6L777.8 605.2L777.8 605.2L777.7 605.8L777.5 606.4L777.2 607.0L776.8 607.6L776.3 608.1L775.6 608.7L774.9 609.2L774.0 609.6L773.1 610.0L772.1 610.4L771.0 610.7L769.9 610.9L768.7 611.0L767.5 611.1L766.3 611.1L765.0 610.9L763.0 610.9L761.0 610.8L759.1 610.6L757.2 610.4L755.4 610.1L753.7 609.8L752.1 609.4L750.6 609.0L749.3 608.5L748.1 608.0L747.1 607.4L746.2 606.9L745.6 606.3L745.1 605.6L744.8 605.0L744.7 604.4ZM746.4 604.4L746.5 603.8L746.8 603.3L747.2 602.9L747.9 602.4L748.7 601.9L749.7 601.5L750.8 601.1L752.1 600.7L753.6 600.4L755.1 600.1L756.8 599.8L758.5 599.6L760.3 599.4L762.2 599.3L764.1 599.2L766.0 599.2L766.8 599.5L767.6 599.6L768.4 599.8L769.1 600.1L769.9 600.3L770.6 600.6L771.2 601.0L771.8 601.4L772.4 601.8L772.8 602.2L773.2 602.6L773.6 603.1L773.9 603.6L774.1 604.1L774.2 604.6L774.2 605.1L774.2 605.1L774.2 605.6L774.1 606.1L773.9 606.6L773.6 607.1L773.2 607.5L772.8 607.9L772.4 608.3L771.8 608.6L771.2 608.9L770.6 609.2L769.9 609.4L769.1 609.6L768.4 609.7L767.6 609.7L766.8 609.7L766.0 609.5L764.1 609.5L762.2 609.4L760.3 609.3L758.5 609.1L756.8 608.9L755.1 608.6L753.6 608.3L752.1 608.0L750.8 607.6L749.7 607.2L748.7 606.8L747.9 606.3L747.2 605.8L746.8 605.4L746.5 604.9L746.4 604.4ZM748.1 604.4L748.2 604.0L748.4 603.6L748.9 603.3L749.4 602.9L750.2 602.6L751.1 602.3L752.1 602.0L753.2 601.7L754.5 601.5L755.9 601.2L757.4 601.0L758.9 600.9L760.6 600.8L762.2 600.7L763.9 600.6L765.7 600.6L766.2 600.8L766.6 601.0L767.1 601.1L767.6 601.3L768.0 601.5L768.4 601.7L768.8 602.0L769.2 602.3L769.5 602.6L769.8 602.9L770.1 603.2L770.3 603.6L770.4 603.9L770.6 604.3L770.6 604.7L770.7 605.0L770.7 605.0L770.6 605.4L770.6 605.8L770.4 606.1L770.3 606.4L770.1 606.8L769.8 607.1L769.5 607.3L769.2 607.6L768.8 607.8L768.4 608.0L768.0 608.1L767.6 608.2L767.1 608.3L766.6 608.3L766.2 608.3L765.7 608.1L763.9 608.1L762.2 608.0L760.6 607.9L758.9 607.8L757.4 607.7L755.9 607.5L754.5 607.2L753.2 607.0L752.1 606.7L751.1 606.4L750.2 606.1L749.4 605.8L748.9 605.4L748.4 605.1L748.2 604.7L748.1 604.4ZM749.8 604.4L749.9 604.1L750.0 603.9L750.4 603.7L750.8 603.5L751.3 603.2L752.0 603.0L752.7 602.9L753.6 602.7L754.5 602.5L755.5 602.4L756.6 602.3L757.7 602.2L758.9 602.1L760.1 602.0L761.4 602.0L762.6 602.0L763.1 602.2L763.6 602.3L764.1 602.4L764.5 602.6L765.0 602.7L765.4 602.9L765.8 603.0L766.2 603.2L766.5 603.4L766.8 603.6L767.0 603.8L767.2 604.0L767.4 604.3L767.5 604.5L767.6 604.7L767.6 605.0L767.6 605.0L767.6 605.2L767.5 605.4L767.4 605.6L767.2 605.8L767.0 606.0L766.8 606.2L766.5 606.4L766.2 606.5L765.8 606.7L765.4 606.8L765.0 606.8L764.5 606.9L764.1 606.9L763.6 606.9L763.1 606.9L762.6 606.7L761.4 606.7L760.1 606.7L758.9 606.6L757.7 606.5L756.6 606.4L755.5 606.3L754.5 606.2L753.6 606.0L752.7 605.8L752.0 605.7L751.3 605.5L750.8 605.2L750.4 605.0L750.0 604.8L749.9 604.6L749.8 604.4ZM751.5 604.4L751.5 604.2L751.7 604.1L751.9 603.9L752.2 603.8L752.6 603.6L753.0 603.5L753.6 603.4L754.2 603.3L754.8 603.2L755.5 603.1L756.3 603.0L757.1 603.0L758.0 602.9L758.8 602.9L759.7 602.9L760.6 602.9L761.1 603.0L761.6 603.1L762.0 603.2L762.5 603.3L762.9 603.4L763.4 603.5L763.8 603.6L764.1 603.8L764.5 603.9L764.7 604.0L765.0 604.2L765.2 604.3L765.4 604.5L765.5 604.6L765.6 604.8L765.6 604.9L765.6 604.9L765.6 605.1L765.5 605.2L765.4 605.3L765.2 605.5L765.0 605.6L764.7 605.7L764.5 605.8L764.1 605.9L763.8 606.0L763.4 606.0L762.9 606.1L762.5 606.1L762.0 606.1L761.6 606.1L761.1 606.0L760.6 605.9L759.7 605.8L758.8 605.8L758.0 605.8L757.1 605.7L756.3 605.7L755.5 605.6L754.8 605.5L754.2 605.4L753.6 605.3L753.0 605.2L752.6 605.1L752.2 604.9L751.9 604.8L751.7 604.6L751.5 604.5L751.5 604.4Z" fill="none" stroke="#262626" stroke-width="0.85"/>
<rect x="808.0" y="382.7" width="131.0" height="205.0" fill="none" stroke="#d0232d" stroke-width="4.2"/>
<text class="red" transform="translate(657.0 432.5) scale(1 1.04)" font-size="63.5">3.6</text>
</g>
<g id="plot3">
<rect x="1007.2" y="373.6" width="356.3" height="355.4" fill="#fff" stroke="#4a4a4a" stroke-width="1.3"/>
<path d="M1023.6 729.0v4.5M1061.4 729.0v4.5M1066.7 729.0v4.5M1072.4 729.0v4.5M1078.0 729.0v4.5M1091.5 729.0v4.5M1097.2 729.0v4.5M1104.7 729.0v4.5M1133.4 729.0v4.5M1140.4 729.0v4.5M1146.6 729.0v4.5M1159.9 729.0v4.5M1165.3 729.0v4.5M1171.5 729.0v4.5M1176.9 729.0v4.5M1214.5 729.0v4.5M1233.6 729.0v4.5M1246.3 729.0v4.5M1263.1 729.0v4.5M1268.9 729.0v4.5M1274.2 729.0v4.5M1278.6 729.0v4.5M1307.7 729.0v4.5M1321.6 729.0v4.5M1331.4 729.0v4.5M1343.5 729.0v4.5M1348.5 729.0v4.5M1353.1 729.0v4.5M1357.5 729.0v4.5" stroke="#111" stroke-width="1.6" fill="none"/>
<path d="M1057.1 729.0v8.5M1180.9 729.0v8.5M1282.4 729.0v8.5M1361.9 729.0v8.5" stroke="#111" stroke-width="3.2" fill="none"/>
<path d="M1084.9 729.0v7.5M1152.9 729.0v7.5M1255.6 729.0v7.5M1337.9 729.0v7.5" stroke="#111" stroke-width="2.2" fill="none"/>
<path d="M1007.2 374.8h-10M1007.2 447.3h-10M1007.2 536.0h-10M1007.2 706.8h-10" stroke="#111" stroke-width="3.0" fill="none"/>
<path d="M1007.2 377.5h-5M1007.2 380.3h-5M1007.2 383.6h-5M1007.2 387.4h-5M1007.2 401.9h-5M1007.2 410.9h-5M1007.2 425.0h-5M1007.2 450.2h-5M1007.2 453.4h-5M1007.2 456.8h-5M1007.2 460.7h-5M1007.2 464.8h-5M1007.2 478.0h-5M1007.2 488.0h-5M1007.2 505.5h-5M1007.2 539.7h-5M1007.2 544.0h-5M1007.2 549.0h-5M1007.2 553.6h-5M1007.2 559.3h-5M1007.2 576.3h-5M1007.2 587.2h-5M1007.2 598.6h-5M1007.2 645.6h-5M1007.2 655.8h-5M1007.2 665.9h-5M1007.2 683.7h-5M1007.2 690.0h-5M1007.2 695.6h-5M1007.2 700.7h-5" stroke="#111" stroke-width="1.5" fill="none"/>
<path d="M1007.2 394.5h-7.5M1007.2 470.3h-7.5M1007.2 567.7h-7.5M1007.2 674.8h-7.5" stroke="#111" stroke-width="2.0" fill="none"/>
<rect x="1110.1" y="729.0" width="17.6" height="5.5" fill="#111"/>
<path d="M1111.5 729.0v8.5M1118.4 729.0v9M1126.2 729.0v8.5" stroke="#111" stroke-width="3"/>
<rect x="1001.7" y="608.8" width="5.5" height="25.9" fill="#111"/>
<path d="M1007.2 610.2h-9.5M1007.2 618h-7M1007.2 625.5h-7M1007.2 633.2h-9.5" stroke="#111" stroke-width="3"/>
<path d="M1103.6 603.8L1103.6 602.8L1103.7 601.8L1103.9 600.8L1104.2 599.8L1104.5 598.9L1104.9 598.0L1105.4 597.0L1105.9 596.1L1106.5 595.3L1107.2 594.4L1107.9 593.6L1108.7 592.8L1109.6 592.1L1110.5 591.3L1111.4 590.7L1112.4 590.0L1113.5 589.4L1114.6 588.9L1115.7 588.4L1116.8 587.9L1118.0 587.5L1119.3 587.2L1120.5 586.9L1121.8 586.6L1123.1 586.4L1124.4 586.3L1125.7 586.2L1127.0 586.2L1132.4 588.4L1137.8 589.6L1143.2 590.8L1148.5 591.9L1153.7 593.0L1158.9 594.1L1164.0 595.1L1168.9 596.2L1173.7 597.2L1178.4 598.1L1182.9 599.1L1187.2 600.0L1191.4 600.9L1195.3 601.7L1199.0 602.5L1202.5 603.2L1205.8 603.9L1208.8 604.5L1211.5 605.1L1214.0 605.7L1216.2 606.1L1218.2 606.5L1219.8 606.9L1221.2 607.2L1222.2 607.4L1223.0 607.6L1223.4 607.7L1223.6 607.7L1223.6 607.7L1223.4 607.7L1223.0 607.8L1222.2 608.0L1221.2 608.1L1219.8 608.4L1218.2 608.7L1216.2 609.1L1214.0 609.5L1211.5 609.9L1208.8 610.4L1205.8 611.0L1202.5 611.5L1199.0 612.2L1195.3 612.8L1191.4 613.5L1187.2 614.2L1182.9 614.9L1178.4 615.7L1173.7 616.5L1168.9 617.2L1164.0 618.0L1158.9 618.8L1153.7 619.5L1148.5 620.3L1143.2 621.0L1137.8 621.6L1132.4 622.0L1127.0 621.3L1125.7 621.3L1124.4 621.2L1123.1 621.1L1121.8 620.9L1120.5 620.6L1119.3 620.3L1118.0 620.0L1116.8 619.6L1115.7 619.1L1114.6 618.6L1113.5 618.1L1112.4 617.5L1111.4 616.8L1110.5 616.2L1109.6 615.4L1108.7 614.7L1107.9 613.9L1107.2 613.1L1106.5 612.2L1105.9 611.4L1105.4 610.5L1104.9 609.5L1104.5 608.6L1104.2 607.7L1103.9 606.7L1103.7 605.7L1103.6 604.7L1103.6 603.8Z" fill="#231f20" stroke="#231f20" stroke-width="1.5" stroke-linejoin="round"/>
<path d="M1207.0 602.5L1214.5 602.8L1222.0 603.1L1229.5 603.5L1237.0 604.1L1244.5 604.6L1252.0 605.3L1259.5 605.9L1267.0 606.7L1274.5 607.5L1282.0 608.3L1282.0 610.7L1274.5 611.5L1267.0 612.3L1259.5 613.1L1252.0 613.7L1244.5 614.4L1237.0 614.9L1229.5 615.5L1222.0 615.9L1214.5 616.2L1207.0 616.5Z" fill="#231f20"/>
<path d="M1103.6 603.8L1103.6 602.8L1103.7 601.8L1103.9 600.8L1104.2 599.8L1104.5 598.9L1104.9 598.0L1105.4 597.0L1105.9 596.1L1106.5 595.3L1107.2 594.4L1107.9 593.6L1108.7 592.8L1109.6 592.1L1110.5 591.3L1111.4 590.7L1112.4 590.0L1113.5 589.4L1114.6 588.9L1115.7 588.4L1116.8 587.9L1118.0 587.5L1119.3 587.2L1120.5 586.9L1121.8 586.6L1123.1 586.4L1124.4 586.3L1125.7 586.2L1127.0 586.2L1132.4 588.4L1137.8 589.6L1143.2 590.8L1148.5 591.9L1153.7 593.0L1158.9 594.1L1164.0 595.1L1168.9 596.2L1173.7 597.2L1178.4 598.1L1182.9 599.1L1187.2 600.0L1191.4 600.9L1195.3 601.7L1199.0 602.5L1202.5 603.2L1205.8 603.9L1208.8 604.5L1211.5 605.1L1214.0 605.7L1216.2 606.1L1218.2 606.5L1219.8 606.9L1221.2 607.2L1222.2 607.4L1223.0 607.6L1223.4 607.7L1223.6 607.7L1223.6 607.7L1223.4 607.7L1223.0 607.8L1222.2 608.0L1221.2 608.1L1219.8 608.4L1218.2 608.7L1216.2 609.1L1214.0 609.5L1211.5 609.9L1208.8 610.4L1205.8 611.0L1202.5 611.5L1199.0 612.2L1195.3 612.8L1191.4 613.5L1187.2 614.2L1182.9 614.9L1178.4 615.7L1173.7 616.5L1168.9 617.2L1164.0 618.0L1158.9 618.8L1153.7 619.5L1148.5 620.3L1143.2 621.0L1137.8 621.6L1132.4 622.0L1127.0 621.3L1125.7 621.3L1124.4 621.2L1123.1 621.1L1121.8 620.9L1120.5 620.6L1119.3 620.3L1118.0 620.0L1116.8 619.6L1115.7 619.1L1114.6 618.6L1113.5 618.1L1112.4 617.5L1111.4 616.8L1110.5 616.2L1109.6 615.4L1108.7 614.7L1107.9 613.9L1107.2 613.1L1106.5 612.2L1105.9 611.4L1105.4 610.5L1104.9 609.5L1104.5 608.6L1104.2 607.7L1103.9 606.7L1103.7 605.7L1103.6 604.7L1103.6 603.8Z" fill="#fff"/>
<ellipse cx="1129" cy="604.2" rx="17" ry="12.3" fill="#9a9a9a"/>
<path d="M1205.7 601.5h5.5v5.5h-5.5zM1148.5 587.1h5.5v5.5h-5.5zM1119.5 579.8h5.5v5.5h-5.5zM1142.5 585.4h5.5v5.5h-5.5zM1120.2 620.6h5.5v5.5h-5.5zM1153.6 590.1h5.5v5.5h-5.5zM1170.7 593.0h5.5v5.5h-5.5zM1178.4 613.5h5.5v5.5h-5.5zM1212.1 607.6h5.5v5.5h-5.5zM1122.6 622.1h5.5v5.5h-5.5zM1182.4 594.7h5.5v5.5h-5.5zM1142.3 620.7h5.5v5.5h-5.5zM1151.3 588.9h5.5v5.5h-5.5zM1123.3 618.9h5.5v5.5h-5.5zM1169.1 592.7h5.5v5.5h-5.5zM1224.5 604.6h5.5v5.5h-5.5zM1126.3 580.0h5.5v5.5h-5.5zM1126.0 580.2h5.5v5.5h-5.5zM1145.7 584.8h5.5v5.5h-5.5zM1156.2 589.1h5.5v5.5h-5.5zM1098.7 604.1h5.5v5.5h-5.5zM1154.8 617.7h5.5v5.5h-5.5zM1098.9 608.2h5.5v5.5h-5.5zM1137.9 582.7h5.5v5.5h-5.5zM1130.4 581.5h5.5v5.5h-5.5zM1102.7 591.5h5.5v5.5h-5.5zM1167.6 590.0h5.5v5.5h-5.5zM1224.0 605.2h5.5v5.5h-5.5zM1108.2 583.6h5.5v5.5h-5.5zM1156.0 588.0h5.5v5.5h-5.5zM1110.7 585.0h5.5v5.5h-5.5zM1106.5 615.4h5.5v5.5h-5.5zM1098.0 594.8h5.5v5.5h-5.5zM1128.1 622.0h5.5v5.5h-5.5zM1189.3 612.7h5.5v5.5h-5.5zM1126.8 580.6h5.5v5.5h-5.5zM1164.3 591.2h5.5v5.5h-5.5zM1133.4 585.2h5.5v5.5h-5.5zM1157.9 589.5h5.5v5.5h-5.5zM1124.0 579.9h5.5v5.5h-5.5zM1168.1 592.6h5.5v5.5h-5.5zM1156.6 588.6h5.5v5.5h-5.5zM1177.6 595.3h5.5v5.5h-5.5zM1127.1 580.7h5.5v5.5h-5.5zM1162.1 617.2h5.5v5.5h-5.5zM1108.9 585.2h5.5v5.5h-5.5zM1145.3 587.9h5.5v5.5h-5.5zM1156.6 587.5h5.5v5.5h-5.5zM1163.5 617.5h5.5v5.5h-5.5zM1188.2 596.6h5.5v5.5h-5.5zM1207.0 601.6h5.5v5.5h-5.5zM1137.0 619.0h5.5v5.5h-5.5zM1151.7 617.4h5.5v5.5h-5.5zM1117.2 582.2h5.5v5.5h-5.5zM1123.9 582.4h5.5v5.5h-5.5zM1181.8 614.1h5.5v5.5h-5.5zM1125.6 620.2h5.5v5.5h-5.5zM1137.6 584.4h5.5v5.5h-5.5zM1209.4 607.5h5.5v5.5h-5.5zM1099.6 594.6h5.5v5.5h-5.5zM1111.3 617.2h5.5v5.5h-5.5zM1157.1 590.6h5.5v5.5h-5.5zM1106.5 587.4h5.5v5.5h-5.5zM1159.5 590.4h5.5v5.5h-5.5zM1108.8 617.8h5.5v5.5h-5.5zM1163.4 591.8h5.5v5.5h-5.5zM1159.7 616.0h5.5v5.5h-5.5zM1099.7 594.0h5.5v5.5h-5.5zM1153.9 587.1h5.5v5.5h-5.5zM1222.9 604.2h5.5v5.5h-5.5zM1152.5 587.7h5.5v5.5h-5.5zM1141.6 587.4h5.5v5.5h-5.5zM1210.1 607.2h5.5v5.5h-5.5zM1205.4 598.8h5.5v5.5h-5.5zM1184.2 613.7h5.5v5.5h-5.5zM1224.1 605.5h5.5v5.5h-5.5zM1097.0 601.7h5.5v5.5h-5.5zM1122.1 619.2h5.5v5.5h-5.5zM1148.2 586.5h5.5v5.5h-5.5zM1122.4 580.4h5.5v5.5h-5.5zM1117.5 583.8h5.5v5.5h-5.5zM1126.6 620.8h5.5v5.5h-5.5zM1123.3 619.3h5.5v5.5h-5.5zM1192.4 611.6h5.5v5.5h-5.5zM1125.5 622.7h5.5v5.5h-5.5zM1121.0 581.2h5.5v5.5h-5.5zM1148.8 619.6h5.5v5.5h-5.5zM1106.9 617.0h5.5v5.5h-5.5zM1133.2 620.5h5.5v5.5h-5.5zM1207.3 600.4h5.5v5.5h-5.5zM1156.7 616.6h5.5v5.5h-5.5zM1168.1 615.3h5.5v5.5h-5.5zM1179.5 614.2h5.5v5.5h-5.5zM1125.4 619.8h5.5v5.5h-5.5zM1122.5 621.3h5.5v5.5h-5.5zM1206.1 608.0h5.5v5.5h-5.5zM1203.2 600.8h5.5v5.5h-5.5zM1183.9 596.7h5.5v5.5h-5.5zM1111.4 583.4h5.5v5.5h-5.5zM1211.4 600.8h5.5v5.5h-5.5zM1173.3 616.0h5.5v5.5h-5.5zM1097.5 605.3h5.5v5.5h-5.5zM1106.4 588.3h5.5v5.5h-5.5zM1181.7 594.9h5.5v5.5h-5.5zM1201.7 599.2h5.5v5.5h-5.5zM1161.9 617.1h5.5v5.5h-5.5zM1137.1 621.6h5.5v5.5h-5.5zM1150.1 586.5h5.5v5.5h-5.5zM1097.2 602.4h5.5v5.5h-5.5zM1175.9 591.8h5.5v5.5h-5.5zM1160.6 616.6h5.5v5.5h-5.5zM1204.2 599.5h5.5v5.5h-5.5zM1141.9 621.0h5.5v5.5h-5.5zM1108.0 616.4h5.5v5.5h-5.5zM1154.9 618.8h5.5v5.5h-5.5zM1204.8 608.2h5.5v5.5h-5.5zM1164.3 617.8h5.5v5.5h-5.5zM1112.2 582.2h5.5v5.5h-5.5zM1149.0 587.1h5.5v5.5h-5.5zM1108.3 617.2h5.5v5.5h-5.5zM1125.3 581.4h5.5v5.5h-5.5zM1129.1 582.6h5.5v5.5h-5.5zM1194.8 611.2h5.5v5.5h-5.5zM1123.6 580.2h5.5v5.5h-5.5zM1116.8 580.7h5.5v5.5h-5.5zM1153.6 617.1h5.5v5.5h-5.5zM1222.8 606.1h5.5v5.5h-5.5zM1167.9 616.5h5.5v5.5h-5.5zM1129.2 581.6h5.5v5.5h-5.5zM1215.5 607.5h5.5v5.5h-5.5zM1133.1 582.3h5.5v5.5h-5.5zM1183.3 593.8h5.5v5.5h-5.5zM1168.9 592.6h5.5v5.5h-5.5zM1200.5 600.0h5.5v5.5h-5.5zM1129.3 582.1h5.5v5.5h-5.5zM1099.8 600.1h5.5v5.5h-5.5zM1153.1 589.2h5.5v5.5h-5.5zM1147.4 619.5h5.5v5.5h-5.5zM1118.5 618.6h5.5v5.5h-5.5zM1179.3 594.8h5.5v5.5h-5.5zM1229.0 613.8h5.5v5.5h-5.5zM1226.6 610.7h5.5v5.5h-5.5zM1209.4 617.4h5.5v5.5h-5.5zM1262.9 602.8h5.5v5.5h-5.5zM1272.2 608.2h5.5v5.5h-5.5zM1278.6 604.2h5.5v5.5h-5.5zM1254.2 604.6h5.5v5.5h-5.5zM1250.5 606.8h5.5v5.5h-5.5zM1267.4 600.1h5.5v5.5h-5.5zM1240.0 605.7h5.5v5.5h-5.5zM1211.5 597.2h5.5v5.5h-5.5zM1246.9 612.8h5.5v5.5h-5.5zM1207.6 608.2h5.5v5.5h-5.5zM1242.0 606.2h5.5v5.5h-5.5zM1267.1 608.3h5.5v5.5h-5.5zM1242.3 613.9h5.5v5.5h-5.5zM1230.6 613.1h5.5v5.5h-5.5zM1258.3 601.1h5.5v5.5h-5.5zM1276.5 604.4h5.5v5.5h-5.5zM1242.4 600.1h5.5v5.5h-5.5zM1226.7 611.9h5.5v5.5h-5.5zM1204.6 608.9h5.5v5.5h-5.5zM1246.5 597.5h5.5v5.5h-5.5zM1249.1 612.0h5.5v5.5h-5.5zM1213.7 616.9h5.5v5.5h-5.5zM1244.6 611.6h5.5v5.5h-5.5zM1234.2 602.3h5.5v5.5h-5.5zM1203.9 618.1h5.5v5.5h-5.5zM1237.1 599.0h5.5v5.5h-5.5zM1237.8 603.9h5.5v5.5h-5.5zM1240.1 598.4h5.5v5.5h-5.5zM1245.9 613.5h5.5v5.5h-5.5zM1261.4 605.2h5.5v5.5h-5.5zM1213.9 611.4h5.5v5.5h-5.5zM1217.5 602.2h5.5v5.5h-5.5zM1219.7 600.7h5.5v5.5h-5.5zM1265.1 601.3h5.5v5.5h-5.5zM1230.2 603.8h5.5v5.5h-5.5zM1220.9 609.9h5.5v5.5h-5.5zM1242.3 600.7h5.5v5.5h-5.5zM1203.5 617.1h5.5v5.5h-5.5zM1213.7 617.9h5.5v5.5h-5.5zM1218.8 597.9h5.5v5.5h-5.5zM1260.9 613.1h5.5v5.5h-5.5zM1280.5 609.0h5.5v5.5h-5.5zM1229.1 616.4h5.5v5.5h-5.5zM1232.3 612.9h5.5v5.5h-5.5zM1258.9 600.6h5.5v5.5h-5.5zM1267.6 610.6h5.5v5.5h-5.5zM1249.9 606.7h5.5v5.5h-5.5zM1244.4 612.1h5.5v5.5h-5.5zM1233.8 616.3h5.5v5.5h-5.5zM1238.0 604.5h5.5v5.5h-5.5zM1267.8 610.8h5.5v5.5h-5.5zM1281.6 604.7h5.5v5.5h-5.5zM1266.8 602.1h5.5v5.5h-5.5zM1241.7 613.9h5.5v5.5h-5.5zM1222.3 613.2h5.5v5.5h-5.5zM1254.3 604.5h5.5v5.5h-5.5zM1231.5 615.5h5.5v5.5h-5.5zM1280.9 606.8h5.5v5.5h-5.5zM1232.4 615.2h5.5v5.5h-5.5zM1228.3 605.0h5.5v5.5h-5.5zM1252.5 612.6h5.5v5.5h-5.5zM1269.5 601.2h5.5v5.5h-5.5zM1211.5 616.0h5.5v5.5h-5.5zM1235.4 596.5h5.5v5.5h-5.5zM1216.4 612.7h5.5v5.5h-5.5zM1226.5 595.9h5.5v5.5h-5.5zM1215.8 608.0h5.5v5.5h-5.5zM1210.5 616.2h5.5v5.5h-5.5zM1239.1 603.0h5.5v5.5h-5.5zM1228.8 616.4h5.5v5.5h-5.5zM1226.9 609.2h5.5v5.5h-5.5zM1237.4 600.5h5.5v5.5h-5.5zM1282.2 610.9h5.5v5.5h-5.5zM1266.1 601.9h5.5v5.5h-5.5zM1268.9 600.1h5.5v5.5h-5.5zM1240.5 609.8h5.5v5.5h-5.5zM1206.5 595.8h5.5v5.5h-5.5zM1253.6 612.7h5.5v5.5h-5.5zM1209.0 595.0h5.5v5.5h-5.5zM1255.2 604.1h5.5v5.5h-5.5zM1256.5 606.1h5.5v5.5h-5.5zM1262.8 613.0h5.5v5.5h-5.5zM1274.3 611.5h5.5v5.5h-5.5zM1247.2 599.7h5.5v5.5h-5.5zM1247.9 612.1h5.5v5.5h-5.5zM1224.7 608.4h5.5v5.5h-5.5zM1251.6 602.2h5.5v5.5h-5.5zM1272.9 609.9h5.5v5.5h-5.5zM1256.2 608.3h5.5v5.5h-5.5zM1211.4 595.7h5.5v5.5h-5.5zM1225.8 609.4h5.5v5.5h-5.5zM1211.1 610.9h5.5v5.5h-5.5zM1246.1 615.2h5.5v5.5h-5.5zM1207.9 607.6h5.5v5.5h-5.5zM1265.8 602.4h5.5v5.5h-5.5zM1216.8 606.7h5.5v5.5h-5.5zM1281.3 605.9h5.5v5.5h-5.5zM1231.8 595.7h5.5v5.5h-5.5zM1280.3 600.8h5.5v5.5h-5.5zM1232.4 617.5h5.5v5.5h-5.5zM1208.5 609.2h5.5v5.5h-5.5zM1215.4 594.9h5.5v5.5h-5.5zM1280.3 607.4h5.5v5.5h-5.5zM1212.6 616.3h5.5v5.5h-5.5zM1229.5 608.3h5.5v5.5h-5.5zM1238.4 608.4h5.5v5.5h-5.5zM1214.9 598.4h5.5v5.5h-5.5zM1230.3 600.1h5.5v5.5h-5.5zM1215.3 608.1h5.5v5.5h-5.5zM1272.8 610.5h5.5v5.5h-5.5zM1268.9 601.2h5.5v5.5h-5.5zM1280.6 607.7h5.5v5.5h-5.5zM1253.1 602.8h5.5v5.5h-5.5zM1230.8 598.4h5.5v5.5h-5.5zM1261.5 612.6h5.5v5.5h-5.5zM1252.0 599.7h5.5v5.5h-5.5zM1279.9 612.4h5.5v5.5h-5.5zM1243.5 606.1h5.5v5.5h-5.5zM1229.3 616.6h5.5v5.5h-5.5zM1215.7 606.2h5.5v5.5h-5.5zM1240.3 606.3h5.5v5.5h-5.5zM1273.5 608.4h5.5v5.5h-5.5zM1220.8 598.6h5.5v5.5h-5.5zM1278.3 600.7h5.5v5.5h-5.5zM1259.1 613.4h5.5v5.5h-5.5zM1258.4 600.9h5.5v5.5h-5.5zM1243.9 611.4h5.5v5.5h-5.5zM1250.5 599.9h5.5v5.5h-5.5zM1211.8 617.6h5.5v5.5h-5.5zM1269.1 611.3h5.5v5.5h-5.5zM1212.0 609.9h5.5v5.5h-5.5zM1211.9 594.5h5.5v5.5h-5.5zM1251.4 604.3h5.5v5.5h-5.5zM1214.0 617.3h5.5v5.5h-5.5zM1276.3 604.1h5.5v5.5h-5.5zM1280.9 602.2h5.5v5.5h-5.5zM1226.9 617.1h5.5v5.5h-5.5zM1208.5 601.4h5.5v5.5h-5.5zM1211.8 616.8h5.5v5.5h-5.5zM1220.8 616.4h5.5v5.5h-5.5zM1251.6 601.8h5.5v5.5h-5.5zM1244.2 611.1h5.5v5.5h-5.5zM1273.8 609.8h5.5v5.5h-5.5zM1268.9 611.9h5.5v5.5h-5.5zM1267.6 607.4h5.5v5.5h-5.5zM1215.2 606.3h5.5v5.5h-5.5zM1262.4 614.9h5.5v5.5h-5.5zM1238.5 603.2h5.5v5.5h-5.5zM1206.9 598.5h5.5v5.5h-5.5zM1223.3 616.1h5.5v5.5h-5.5zM1274.1 612.1h5.5v5.5h-5.5zM1283.0 607.4h5.5v5.5h-5.5zM1216.1 599.4h5.5v5.5h-5.5zM1258.8 613.5h5.5v5.5h-5.5zM1234.3 602.4h5.5v5.5h-5.5zM1214.5 613.0h5.5v5.5h-5.5zM1207.2 616.8h5.5v5.5h-5.5zM1247.8 606.9h5.5v5.5h-5.5zM1251.4 606.1h5.5v5.5h-5.5zM1267.9 601.0h5.5v5.5h-5.5zM1239.0 599.3h5.5v5.5h-5.5zM1222.5 602.1h5.5v5.5h-5.5zM1270.7 610.6h5.5v5.5h-5.5zM1241.3 598.9h5.5v5.5h-5.5zM1271.5 601.5h5.5v5.5h-5.5zM1212.3 608.8h5.5v5.5h-5.5zM1274.3 611.3h5.5v5.5h-5.5zM1213.8 598.4h5.5v5.5h-5.5zM1278.0 610.5h5.5v5.5h-5.5zM1275.9 603.0h5.5v5.5h-5.5zM1270.2 600.4h5.5v5.5h-5.5zM1213.6 600.0h5.5v5.5h-5.5zM1227.6 603.3h5.5v5.5h-5.5zM1209.4 616.8h5.5v5.5h-5.5zM1218.3 612.6h5.5v5.5h-5.5zM1218.9 613.7h5.5v5.5h-5.5zM1281.6 604.8h5.5v5.5h-5.5zM1203.3 612.9h5.5v5.5h-5.5zM1277.1 601.3h5.5v5.5h-5.5zM1274.5 605.9h5.5v5.5h-5.5zM1281.7 612.9h5.5v5.5h-5.5zM1282.4 602.4h5.5v5.5h-5.5zM1227.8 598.0h5.5v5.5h-5.5zM1222.4 615.6h5.5v5.5h-5.5zM1215.2 601.9h5.5v5.5h-5.5zM1242.9 607.3h5.5v5.5h-5.5zM1203.6 598.3h5.5v5.5h-5.5zM1221.3 595.6h5.5v5.5h-5.5zM1227.1 599.2h5.5v5.5h-5.5zM1228.3 602.8h5.5v5.5h-5.5zM1226.8 599.5h5.5v5.5h-5.5zM1217.8 603.3h5.5v5.5h-5.5zM1228.9 600.6h5.5v5.5h-5.5zM1238.6 616.6h5.5v5.5h-5.5zM1243.0 611.0h5.5v5.5h-5.5zM1221.3 617.6h5.5v5.5h-5.5zM1224.9 609.1h5.5v5.5h-5.5zM1145.8 586.6h5.5v5.5h-5.5zM1145.5 578.8h5.5v5.5h-5.5zM1164.7 583.9h5.5v5.5h-5.5zM1141.2 574.3h5.5v5.5h-5.5zM1112.7 576.5h5.5v5.5h-5.5zM1132.8 585.1h5.5v5.5h-5.5zM1163.5 586.5h5.5v5.5h-5.5zM1161.4 575.1h5.5v5.5h-5.5zM1119.6 575.2h5.5v5.5h-5.5zM1167.3 572.2h5.5v5.5h-5.5zM1100.4 581.2h5.5v5.5h-5.5zM1105.2 573.0h5.5v5.5h-5.5zM1167.4 586.0h5.5v5.5h-5.5zM1108.0 585.8h5.5v5.5h-5.5zM1138.5 578.4h5.5v5.5h-5.5zM1117.6 583.6h5.5v5.5h-5.5zM1172.1 586.0h5.5v5.5h-5.5zM1130.9 579.8h5.5v5.5h-5.5zM1115.6 576.2h5.5v5.5h-5.5zM1176.5 581.9h5.5v5.5h-5.5zM1168.3 574.7h5.5v5.5h-5.5zM1101.0 582.4h5.5v5.5h-5.5zM1113.7 576.2h5.5v5.5h-5.5zM1162.2 579.7h5.5v5.5h-5.5zM1139.0 579.1h5.5v5.5h-5.5zM1134.9 573.3h5.5v5.5h-5.5zM1120.9 577.5h5.5v5.5h-5.5zM1115.6 583.6h5.5v5.5h-5.5zM1111.6 573.5h5.5v5.5h-5.5zM1113.4 573.7h5.5v5.5h-5.5zM1171.4 581.6h5.5v5.5h-5.5zM1131.6 584.9h5.5v5.5h-5.5zM1175.1 578.2h5.5v5.5h-5.5zM1113.7 579.9h5.5v5.5h-5.5zM1159.5 581.5h5.5v5.5h-5.5zM1118.4 572.9h5.5v5.5h-5.5zM1153.1 575.7h5.5v5.5h-5.5zM1142.0 584.6h5.5v5.5h-5.5zM1113.2 577.1h5.5v5.5h-5.5zM1112.8 582.3h5.5v5.5h-5.5zM1124.6 573.1h5.5v5.5h-5.5zM1141.4 578.6h5.5v5.5h-5.5zM1133.2 581.8h5.5v5.5h-5.5zM1171.6 573.2h5.5v5.5h-5.5zM1149.7 584.9h5.5v5.5h-5.5zM1170.2 560.5h5.5v5.5h-5.5zM1139.2 568.3h5.5v5.5h-5.5zM1155.5 569.1h5.5v5.5h-5.5zM1150.7 561.2h5.5v5.5h-5.5zM1163.0 560.5h5.5v5.5h-5.5zM1142.6 556.2h5.5v5.5h-5.5zM1126.9 553.0h5.5v5.5h-5.5zM1139.8 570.1h5.5v5.5h-5.5zM1177.0 562.5h5.5v5.5h-5.5zM1149.0 572.3h5.5v5.5h-5.5zM1134.8 563.5h5.5v5.5h-5.5zM1171.7 560.0h5.5v5.5h-5.5zM1137.2 557.1h5.5v5.5h-5.5zM1126.2 555.7h5.5v5.5h-5.5zM1120.4 564.7h5.5v5.5h-5.5zM1126.4 557.9h5.5v5.5h-5.5zM1115.5 554.2h5.5v5.5h-5.5zM1172.3 567.3h5.5v5.5h-5.5zM1109.4 558.6h5.5v5.5h-5.5zM1152.7 559.6h5.5v5.5h-5.5zM1126.2 570.9h5.5v5.5h-5.5zM1139.5 558.5h5.5v5.5h-5.5zM1226.4 587.9h5.5v5.5h-5.5zM1180.1 592.7h5.5v5.5h-5.5zM1186.9 590.3h5.5v5.5h-5.5zM1198.5 585.7h5.5v5.5h-5.5zM1247.7 587.2h5.5v5.5h-5.5zM1254.3 589.1h5.5v5.5h-5.5zM1256.5 587.0h5.5v5.5h-5.5zM1232.1 594.9h5.5v5.5h-5.5zM1234.8 587.8h5.5v5.5h-5.5zM1244.2 585.4h5.5v5.5h-5.5zM1273.1 592.2h5.5v5.5h-5.5zM1261.5 591.4h5.5v5.5h-5.5zM1264.9 587.6h5.5v5.5h-5.5zM1196.5 590.2h5.5v5.5h-5.5zM1240.9 585.7h5.5v5.5h-5.5zM1212.5 589.6h5.5v5.5h-5.5zM1183.6 589.5h5.5v5.5h-5.5zM1242.8 587.7h5.5v5.5h-5.5zM1269.4 587.2h5.5v5.5h-5.5zM1218.3 587.9h5.5v5.5h-5.5zM1227.7 594.1h5.5v5.5h-5.5zM1285.3 588.8h5.5v5.5h-5.5zM1280.7 590.3h5.5v5.5h-5.5zM1259.1 591.2h5.5v5.5h-5.5zM1254.4 588.1h5.5v5.5h-5.5zM1228.5 591.5h5.5v5.5h-5.5zM1238.9 589.9h5.5v5.5h-5.5zM1201.7 591.4h5.5v5.5h-5.5zM1190.3 591.6h5.5v5.5h-5.5zM1254.0 593.0h5.5v5.5h-5.5zM1193.2 594.7h5.5v5.5h-5.5zM1250.1 590.4h5.5v5.5h-5.5zM1211.3 586.7h5.5v5.5h-5.5zM1202.3 594.7h5.5v5.5h-5.5zM1255.0 585.9h5.5v5.5h-5.5zM1234.4 592.4h5.5v5.5h-5.5zM1179.0 589.5h5.5v5.5h-5.5zM1225.0 586.0h5.5v5.5h-5.5zM1235.3 591.2h5.5v5.5h-5.5zM1212.5 591.4h5.5v5.5h-5.5zM1218.5 593.3h5.5v5.5h-5.5zM1272.0 593.7h5.5v5.5h-5.5zM1232.7 592.2h5.5v5.5h-5.5zM1215.6 594.4h5.5v5.5h-5.5zM1189.9 592.0h5.5v5.5h-5.5zM1232.0 587.5h5.5v5.5h-5.5zM1283.7 595.1h5.5v5.5h-5.5zM1228.4 594.9h5.5v5.5h-5.5zM1224.4 586.7h5.5v5.5h-5.5zM1218.3 594.3h5.5v5.5h-5.5zM1264.8 586.9h5.5v5.5h-5.5zM1277.8 585.8h5.5v5.5h-5.5zM1283.2 594.9h5.5v5.5h-5.5zM1183.7 588.8h5.5v5.5h-5.5zM1224.2 594.0h5.5v5.5h-5.5zM1270.5 472.1h5.5v5.5h-5.5zM1277.5 490.0h5.5v5.5h-5.5zM1195.1 493.3h5.5v5.5h-5.5zM1203.4 498.6h5.5v5.5h-5.5zM1234.3 497.2h5.5v5.5h-5.5zM1188.4 507.2h5.5v5.5h-5.5zM1227.4 510.3h5.5v5.5h-5.5zM1252.1 512.8h5.5v5.5h-5.5zM1273.3 514.2h5.5v5.5h-5.5zM1253.8 519.7h5.5v5.5h-5.5zM1245.2 521.1h5.5v5.5h-5.5zM1229.0 523.9h5.5v5.5h-5.5zM1215.7 527.2h5.5v5.5h-5.5zM1214.8 532.0h5.5v5.5h-5.5zM1192.6 534.2h5.5v5.5h-5.5zM1230.7 530.0h5.5v5.5h-5.5zM1235.2 534.2h5.5v5.5h-5.5zM1239.3 537.5h5.5v5.5h-5.5zM1248.2 535.3h5.5v5.5h-5.5zM1292.8 537.0h5.5v5.5h-5.5zM1294.1 539.8h5.5v5.5h-5.5zM1205.1 540.9h5.5v5.5h-5.5zM1210.1 544.5h5.5v5.5h-5.5zM1258.0 543.7h5.5v5.5h-5.5zM1220.4 550.6h5.5v5.5h-5.5zM1271.9 553.4h5.5v5.5h-5.5zM1230.1 558.1h5.5v5.5h-5.5zM1253.2 558.1h5.5v5.5h-5.5zM1258.8 559.2h5.5v5.5h-5.5zM1213.5 562.0h5.5v5.5h-5.5zM1223.2 564.8h5.5v5.5h-5.5zM1251.9 564.2h5.5v5.5h-5.5zM1260.2 566.2h5.5v5.5h-5.5zM1281.6 567.0h5.5v5.5h-5.5zM1261.6 570.4h5.5v5.5h-5.5zM1186.5 570.6h5.5v5.5h-5.5zM1180.1 573.1h5.5v5.5h-5.5zM1232.4 575.1h5.5v5.5h-5.5zM1244.1 573.1h5.5v5.5h-5.5zM1237.9 578.7h5.5v5.5h-5.5zM1270.5 575.9h5.5v5.5h-5.5zM1199.0 578.7h5.5v5.5h-5.5zM1210.1 579.5h5.5v5.5h-5.5zM1203.2 582.9h5.5v5.5h-5.5zM1251.0 580.9h5.5v5.5h-5.5zM1267.7 581.5h5.5v5.5h-5.5zM1193.4 584.3h5.5v5.5h-5.5zM1255.2 585.1h5.5v5.5h-5.5zM1277.5 584.3h5.5v5.5h-5.5zM1232.9 585.7h5.5v5.5h-5.5zM1296.9 586.8h5.5v5.5h-5.5zM1217.1 587.1h5.5v5.5h-5.5zM1122.7 473.6h5.5v5.5h-5.5zM1107.2 510.2h5.5v5.5h-5.5zM1146.3 504.4h5.5v5.5h-5.5zM1153.3 507.3h5.5v5.5h-5.5zM1117.3 518.0h5.5v5.5h-5.5zM1120.2 521.8h5.5v5.5h-5.5zM1124.7 525.3h5.5v5.5h-5.5zM1129.1 525.7h5.5v5.5h-5.5zM1140.7 522.4h5.5v5.5h-5.5zM1153.3 519.9h5.5v5.5h-5.5zM1161.8 515.6h5.5v5.5h-5.5zM1164.7 520.9h5.5v5.5h-5.5zM1168.6 519.9h5.5v5.5h-5.5zM1114.4 531.1h5.5v5.5h-5.5zM1128.0 537.9h5.5v5.5h-5.5zM1132.4 535.0h5.5v5.5h-5.5zM1154.7 536.9h5.5v5.5h-5.5zM1140.5 543.7h5.5v5.5h-5.5zM1146.3 548.5h5.5v5.5h-5.5zM1149.8 543.3h5.5v5.5h-5.5zM1154.7 543.7h5.5v5.5h-5.5zM1161.8 545.6h5.5v5.5h-5.5zM1167.2 543.3h5.5v5.5h-5.5zM1146.3 555.9h5.5v5.5h-5.5zM1126.6 550.5h5.5v5.5h-5.5zM1116.9 554.3h5.5v5.5h-5.5zM1113.4 558.2h5.5v5.5h-5.5zM1112.5 564.4h5.5v5.5h-5.5zM1122.2 554.7h5.5v5.5h-5.5zM1128.0 558.2h5.5v5.5h-5.5zM1124.7 565.0h5.5v5.5h-5.5zM1157.6 563.4h5.5v5.5h-5.5zM1168.6 563.4h5.5v5.5h-5.5zM1150.2 567.3h5.5v5.5h-5.5zM1136.7 568.9h5.5v5.5h-5.5zM1140.5 571.8h5.5v5.5h-5.5zM1146.3 575.6h5.5v5.5h-5.5zM1117.3 570.8h5.5v5.5h-5.5zM1118.9 575.6h5.5v5.5h-5.5zM1127.6 572.7h5.5v5.5h-5.5zM1132.4 576.6h5.5v5.5h-5.5zM1151.8 580.5h5.5v5.5h-5.5zM1158.5 581.4h5.5v5.5h-5.5zM1167.2 581.4h5.5v5.5h-5.5zM1090.4 585.3h5.5v5.5h-5.5zM1098.5 584.3h5.5v5.5h-5.5zM1103.4 582.4h5.5v5.5h-5.5zM1090.2 585.2h5.5v5.5h-5.5zM1088.8 618.0h5.5v5.5h-5.5zM1091.2 598.2h5.5v5.5h-5.5zM1285.2 598.2h5.5v5.5h-5.5zM1292.7 608.2h5.5v5.5h-5.5zM1275.8 613.9h5.5v5.5h-5.5zM1245.0 622.2h5.5v5.5h-5.5zM1252.2 622.2h5.5v5.5h-5.5z" fill="#231f20"/>
<path d="M1103.6 603.8L1103.6 602.8L1103.7 601.8L1103.9 600.8L1104.2 599.8L1104.5 598.9L1104.9 598.0L1105.4 597.0L1105.9 596.1L1106.5 595.3L1107.2 594.4L1107.9 593.6L1108.7 592.8L1109.6 592.1L1110.5 591.3L1111.4 590.7L1112.4 590.0L1113.5 589.4L1114.6 588.9L1115.7 588.4L1116.8 587.9L1118.0 587.5L1119.3 587.2L1120.5 586.9L1121.8 586.6L1123.1 586.4L1124.4 586.3L1125.7 586.2L1127.0 586.2L1132.4 588.4L1137.8 589.6L1143.2 590.8L1148.5 591.9L1153.7 593.0L1158.9 594.1L1164.0 595.1L1168.9 596.2L1173.7 597.2L1178.4 598.1L1182.9 599.1L1187.2 600.0L1191.4 600.9L1195.3 601.7L1199.0 602.5L1202.5 603.2L1205.8 603.9L1208.8 604.5L1211.5 605.1L1214.0 605.7L1216.2 606.1L1218.2 606.5L1219.8 606.9L1221.2 607.2L1222.2 607.4L1223.0 607.6L1223.4 607.7L1223.6 607.7L1223.6 607.7L1223.4 607.7L1223.0 607.8L1222.2 608.0L1221.2 608.1L1219.8 608.4L1218.2 608.7L1216.2 609.1L1214.0 609.5L1211.5 609.9L1208.8 610.4L1205.8 611.0L1202.5 611.5L1199.0 612.2L1195.3 612.8L1191.4 613.5L1187.2 614.2L1182.9 614.9L1178.4 615.7L1173.7 616.5L1168.9 617.2L1164.0 618.0L1158.9 618.8L1153.7 619.5L1148.5 620.3L1143.2 621.0L1137.8 621.6L1132.4 622.0L1127.0 621.3L1125.7 621.3L1124.4 621.2L1123.1 621.1L1121.8 620.9L1120.5 620.6L1119.3 620.3L1118.0 620.0L1116.8 619.6L1115.7 619.1L1114.6 618.6L1113.5 618.1L1112.4 617.5L1111.4 616.8L1110.5 616.2L1109.6 615.4L1108.7 614.7L1107.9 613.9L1107.2 613.1L1106.5 612.2L1105.9 611.4L1105.4 610.5L1104.9 609.5L1104.5 608.6L1104.2 607.7L1103.9 606.7L1103.7 605.7L1103.6 604.7L1103.6 603.8ZM1105.3 603.8L1105.4 602.2L1105.7 600.6L1106.3 599.1L1107.0 597.6L1108.0 596.1L1109.1 594.8L1110.5 593.5L1111.9 592.3L1113.6 591.3L1115.4 590.3L1117.3 589.5L1119.3 588.8L1121.4 588.3L1123.6 587.9L1125.8 587.7L1128.0 587.6L1134.7 589.6L1141.3 590.8L1147.7 592.0L1154.0 593.3L1160.1 594.7L1165.8 596.1L1171.1 597.5L1176.1 598.9L1180.6 600.3L1184.5 601.7L1188.0 603.0L1190.8 604.2L1193.1 605.2L1194.7 606.2L1195.7 606.9L1196.0 607.3L1196.0 607.3L1195.7 607.6L1194.7 608.3L1193.1 609.2L1190.8 610.2L1188.0 611.2L1184.5 612.4L1180.6 613.6L1176.1 614.8L1171.1 616.0L1165.8 617.1L1160.1 618.2L1154.0 619.2L1147.7 620.0L1141.3 620.7L1134.7 621.0L1128.0 619.9L1125.8 619.8L1123.6 619.6L1121.4 619.2L1119.3 618.7L1117.3 618.0L1115.4 617.2L1113.6 616.2L1111.9 615.2L1110.5 614.0L1109.1 612.7L1108.0 611.4L1107.0 609.9L1106.3 608.4L1105.7 606.9L1105.4 605.3L1105.3 603.8ZM1107.0 603.8L1107.1 602.3L1107.4 600.9L1107.9 599.5L1108.7 598.1L1109.6 596.8L1110.7 595.6L1112.0 594.4L1113.4 593.3L1115.0 592.3L1116.8 591.5L1118.6 590.7L1120.6 590.1L1122.6 589.6L1124.7 589.3L1126.8 589.1L1129.0 589.0L1134.0 590.8L1139.0 591.8L1143.9 592.8L1148.6 594.0L1153.1 595.2L1157.5 596.4L1161.5 597.7L1165.2 599.0L1168.6 600.3L1171.6 601.5L1174.2 602.7L1176.3 603.9L1178.0 604.9L1179.2 605.8L1180.0 606.5L1180.2 607.0L1180.2 607.0L1180.0 607.4L1179.2 608.1L1178.0 608.9L1176.3 609.9L1174.2 610.9L1171.6 612.0L1168.6 613.1L1165.2 614.2L1161.5 615.3L1157.5 616.3L1153.1 617.3L1148.6 618.1L1143.9 618.8L1139.0 619.3L1134.0 619.6L1129.0 618.5L1126.8 618.4L1124.7 618.2L1122.6 617.9L1120.6 617.4L1118.6 616.8L1116.8 616.0L1115.0 615.2L1113.4 614.2L1112.0 613.1L1110.7 611.9L1109.6 610.7L1108.7 609.4L1107.9 608.0L1107.4 606.6L1107.1 605.2L1107.0 603.8ZM1108.7 603.8L1108.8 602.4L1109.1 601.1L1109.6 599.9L1110.3 598.6L1111.2 597.5L1112.3 596.3L1113.5 595.3L1114.9 594.3L1116.5 593.4L1118.2 592.6L1120.0 592.0L1121.8 591.4L1123.8 591.0L1125.8 590.7L1127.9 590.5L1130.0 590.4L1134.2 592.0L1138.5 592.9L1142.6 593.8L1146.6 594.8L1150.4 595.8L1154.1 596.9L1157.5 598.1L1160.6 599.2L1163.5 600.4L1166.0 601.5L1168.2 602.7L1170.0 603.7L1171.4 604.7L1172.5 605.6L1173.1 606.3L1173.3 606.8L1173.3 606.8L1173.1 607.2L1172.5 608.0L1171.4 608.8L1170.0 609.7L1168.2 610.7L1166.0 611.7L1163.5 612.7L1160.6 613.7L1157.5 614.6L1154.1 615.5L1150.4 616.4L1146.6 617.1L1142.6 617.7L1138.5 618.1L1134.2 618.2L1130.0 617.1L1127.9 617.0L1125.8 616.8L1123.8 616.5L1121.8 616.1L1120.0 615.5L1118.2 614.9L1116.5 614.1L1114.9 613.2L1113.5 612.2L1112.3 611.2L1111.2 610.0L1110.3 608.9L1109.6 607.6L1109.1 606.4L1108.8 605.1L1108.7 603.8ZM1110.4 603.8L1110.5 602.6L1110.8 601.4L1111.3 600.3L1112.0 599.2L1112.8 598.1L1113.9 597.1L1115.1 596.2L1116.4 595.3L1117.9 594.5L1119.6 593.8L1121.3 593.2L1123.1 592.7L1125.0 592.3L1127.0 592.0L1129.0 591.9L1131.0 591.8L1134.6 593.3L1138.1 594.0L1141.6 594.8L1144.9 595.7L1148.2 596.6L1151.2 597.5L1154.1 598.5L1156.7 599.5L1159.1 600.6L1161.3 601.6L1163.1 602.7L1164.6 603.7L1165.8 604.6L1166.7 605.5L1167.2 606.2L1167.4 606.7L1167.4 606.7L1167.2 607.1L1166.7 607.8L1165.8 608.6L1164.6 609.5L1163.1 610.4L1161.3 611.3L1159.1 612.2L1156.7 613.1L1154.1 613.9L1151.2 614.7L1148.2 615.4L1144.9 616.0L1141.6 616.5L1138.1 616.7L1134.6 616.8L1131.0 615.7L1129.0 615.6L1127.0 615.5L1125.0 615.2L1123.1 614.8L1121.3 614.3L1119.6 613.7L1117.9 613.0L1116.4 612.2L1115.1 611.3L1113.9 610.4L1112.8 609.4L1112.0 608.3L1111.3 607.2L1110.8 606.1L1110.5 604.9L1110.4 603.8ZM1112.1 603.8L1112.2 602.7L1112.5 601.7L1113.0 600.7L1113.6 599.7L1114.4 598.8L1115.5 597.9L1116.6 597.1L1117.9 596.3L1119.4 595.6L1120.9 595.0L1122.6 594.4L1124.4 594.0L1126.2 593.7L1128.1 593.4L1130.0 593.3L1132.0 593.2L1134.9 594.6L1137.8 595.2L1140.6 595.9L1143.3 596.6L1145.9 597.4L1148.4 598.2L1150.7 599.0L1152.8 599.9L1154.8 600.9L1156.5 601.8L1158.0 602.7L1159.2 603.6L1160.2 604.5L1160.9 605.3L1161.3 606.0L1161.5 606.5L1161.5 606.5L1161.3 607.0L1160.9 607.7L1160.2 608.4L1159.2 609.2L1158.0 610.1L1156.5 610.9L1154.8 611.7L1152.8 612.4L1150.7 613.2L1148.4 613.8L1145.9 614.4L1143.3 614.8L1140.6 615.2L1137.8 615.4L1134.9 615.4L1132.0 614.3L1130.0 614.2L1128.1 614.1L1126.2 613.8L1124.4 613.5L1122.6 613.1L1120.9 612.5L1119.4 611.9L1117.9 611.2L1116.6 610.4L1115.5 609.6L1114.4 608.7L1113.6 607.8L1113.0 606.8L1112.5 605.8L1112.2 604.8L1112.1 603.8ZM1113.8 603.8L1113.9 602.9L1114.2 602.0L1114.6 601.1L1115.3 600.2L1116.1 599.4L1117.0 598.7L1118.2 597.9L1119.4 597.3L1120.8 596.7L1122.3 596.1L1123.9 595.7L1125.7 595.3L1127.4 595.0L1129.3 594.8L1131.1 594.6L1133.0 594.6L1135.2 595.8L1137.4 596.4L1139.6 597.0L1141.6 597.6L1143.6 598.2L1145.5 598.9L1147.3 599.6L1149.0 600.4L1150.4 601.2L1151.8 602.0L1152.9 602.8L1153.8 603.6L1154.6 604.4L1155.1 605.1L1155.5 605.8L1155.6 606.3L1155.6 606.3L1155.5 606.8L1155.1 607.5L1154.6 608.2L1153.8 608.9L1152.9 609.6L1151.8 610.3L1150.4 611.0L1149.0 611.7L1147.3 612.3L1145.5 612.8L1143.6 613.3L1141.6 613.6L1139.6 613.9L1137.4 614.0L1135.2 613.9L1133.0 612.9L1131.1 612.9L1129.3 612.7L1127.4 612.5L1125.7 612.2L1123.9 611.8L1122.3 611.4L1120.8 610.8L1119.4 610.2L1118.2 609.6L1117.0 608.8L1116.1 608.1L1115.3 607.3L1114.6 606.4L1114.2 605.5L1113.9 604.6L1113.8 603.8ZM1115.5 603.8L1115.6 603.0L1115.9 602.2L1116.3 601.5L1116.9 600.8L1117.7 600.1L1118.6 599.4L1119.7 598.8L1120.9 598.3L1122.3 597.8L1123.7 597.3L1125.3 596.9L1126.9 596.6L1128.6 596.3L1130.4 596.1L1132.2 596.0L1134.0 596.0L1135.6 597.1L1137.2 597.6L1138.8 598.1L1140.4 598.6L1141.8 599.1L1143.2 599.7L1144.6 600.3L1145.8 600.9L1146.9 601.6L1147.8 602.3L1148.7 603.0L1149.4 603.7L1149.9 604.4L1150.3 605.0L1150.6 605.6L1150.6 606.2L1150.6 606.2L1150.6 606.7L1150.3 607.3L1149.9 607.9L1149.4 608.5L1148.7 609.2L1147.8 609.8L1146.9 610.3L1145.8 610.9L1144.6 611.3L1143.2 611.8L1141.8 612.1L1140.4 612.4L1138.8 612.6L1137.2 612.6L1135.6 612.5L1134.0 611.5L1132.2 611.5L1130.4 611.4L1128.6 611.2L1126.9 610.9L1125.3 610.6L1123.7 610.2L1122.3 609.7L1120.9 609.2L1119.7 608.7L1118.6 608.1L1117.7 607.4L1116.9 606.7L1116.3 606.0L1115.9 605.3L1115.6 604.5L1115.5 603.8ZM1117.2 603.8L1117.3 603.1L1117.5 602.5L1118.0 601.9L1118.6 601.3L1119.3 600.8L1120.2 600.2L1121.2 599.7L1122.4 599.3L1123.7 598.8L1125.1 598.5L1126.6 598.1L1128.2 597.9L1129.8 597.7L1131.5 597.5L1133.3 597.4L1135.0 597.4L1136.1 598.5L1137.3 598.9L1138.4 599.2L1139.5 599.6L1140.5 600.1L1141.5 600.5L1142.4 601.0L1143.3 601.5L1144.0 602.1L1144.7 602.6L1145.3 603.2L1145.8 603.8L1146.2 604.4L1146.5 605.0L1146.6 605.5L1146.7 606.0L1146.7 606.0L1146.6 606.5L1146.5 607.0L1146.2 607.6L1145.8 608.1L1145.3 608.6L1144.7 609.1L1144.0 609.6L1143.3 610.0L1142.4 610.3L1141.5 610.7L1140.5 610.9L1139.5 611.1L1138.4 611.2L1137.3 611.2L1136.1 611.1L1135.0 610.1L1133.3 610.1L1131.5 610.0L1129.8 609.8L1128.2 609.6L1126.6 609.4L1125.1 609.0L1123.7 608.7L1122.4 608.2L1121.2 607.8L1120.2 607.3L1119.3 606.7L1118.6 606.2L1118.0 605.6L1117.5 605.0L1117.3 604.4L1117.2 603.8ZM1118.9 603.8L1119.0 603.3L1119.2 602.8L1119.6 602.3L1120.2 601.9L1120.9 601.4L1121.8 601.0L1122.8 600.6L1123.9 600.2L1125.2 599.9L1126.5 599.6L1127.9 599.4L1129.5 599.2L1131.0 599.0L1132.7 598.9L1134.3 598.8L1136.0 598.8L1136.7 599.8L1137.3 600.1L1138.0 600.4L1138.6 600.7L1139.2 601.1L1139.7 601.4L1140.3 601.8L1140.8 602.2L1141.2 602.6L1141.6 603.1L1142.0 603.5L1142.2 604.0L1142.5 604.4L1142.6 604.9L1142.7 605.4L1142.7 605.8L1142.7 605.8L1142.7 606.3L1142.6 606.7L1142.5 607.2L1142.2 607.6L1142.0 608.0L1141.6 608.4L1141.2 608.7L1140.8 609.0L1140.3 609.3L1139.7 609.5L1139.2 609.7L1138.6 609.8L1138.0 609.8L1137.3 609.8L1136.7 609.6L1136.0 608.7L1134.3 608.7L1132.7 608.6L1131.0 608.5L1129.5 608.3L1127.9 608.1L1126.5 607.9L1125.2 607.6L1123.9 607.3L1122.8 606.9L1121.8 606.5L1120.9 606.1L1120.2 605.6L1119.6 605.2L1119.2 604.7L1119.0 604.2L1118.9 603.8ZM1120.6 603.8L1120.7 603.4L1120.9 603.1L1121.2 602.7L1121.6 602.4L1122.2 602.1L1122.9 601.8L1123.7 601.5L1124.6 601.2L1125.6 601.0L1126.7 600.8L1127.8 600.6L1129.1 600.5L1130.3 600.4L1131.6 600.3L1133.0 600.2L1134.3 600.2L1134.8 601.1L1135.3 601.4L1135.7 601.6L1136.2 601.9L1136.7 602.1L1137.1 602.4L1137.5 602.7L1137.8 603.0L1138.2 603.3L1138.5 603.6L1138.7 603.9L1138.9 604.3L1139.1 604.6L1139.2 605.0L1139.3 605.3L1139.3 605.7L1139.3 605.7L1139.3 606.0L1139.2 606.3L1139.1 606.7L1138.9 607.0L1138.7 607.2L1138.5 607.5L1138.2 607.7L1137.8 607.9L1137.5 608.1L1137.1 608.2L1136.7 608.3L1136.2 608.4L1135.7 608.4L1135.3 608.3L1134.8 608.1L1134.3 607.3L1133.0 607.3L1131.6 607.2L1130.3 607.1L1129.1 607.0L1127.8 606.9L1126.7 606.7L1125.6 606.5L1124.6 606.3L1123.7 606.0L1122.9 605.7L1122.2 605.4L1121.6 605.1L1121.2 604.8L1120.9 604.4L1120.7 604.1L1120.6 603.8ZM1122.3 603.8L1122.3 603.5L1122.5 603.3L1122.7 603.1L1123.0 602.9L1123.3 602.7L1123.7 602.6L1124.2 602.4L1124.8 602.2L1125.4 602.1L1126.1 602.0L1126.8 601.9L1127.6 601.8L1128.4 601.7L1129.2 601.6L1130.0 601.6L1130.8 601.6L1131.3 602.4L1131.8 602.6L1132.3 602.8L1132.8 603.0L1133.2 603.2L1133.6 603.4L1134.0 603.5L1134.4 603.7L1134.7 603.9L1135.0 604.2L1135.3 604.4L1135.5 604.6L1135.6 604.8L1135.7 605.0L1135.8 605.2L1135.8 605.5L1135.8 605.5L1135.8 605.7L1135.7 605.9L1135.6 606.1L1135.5 606.2L1135.3 606.4L1135.0 606.5L1134.7 606.7L1134.4 606.8L1134.0 606.9L1133.6 606.9L1133.2 607.0L1132.8 607.0L1132.3 606.9L1131.8 606.8L1131.3 606.6L1130.8 605.9L1130.0 605.9L1129.2 605.9L1128.4 605.8L1127.6 605.7L1126.8 605.6L1126.1 605.5L1125.4 605.4L1124.8 605.3L1124.2 605.1L1123.7 604.9L1123.3 604.8L1123.0 604.6L1122.7 604.4L1122.5 604.2L1122.3 604.0L1122.3 603.8ZM1124.0 603.8L1124.0 603.6L1124.1 603.5L1124.2 603.3L1124.3 603.2L1124.5 603.0L1124.7 602.9L1124.9 602.8L1125.1 602.7L1125.4 602.6L1125.7 602.5L1126.1 602.4L1126.4 602.4L1126.8 602.3L1127.1 602.3L1127.5 602.3L1127.9 602.2L1128.4 602.9L1128.9 603.1L1129.3 603.3L1129.8 603.4L1130.2 603.6L1130.7 603.7L1131.1 603.9L1131.4 604.0L1131.8 604.2L1132.0 604.3L1132.3 604.5L1132.5 604.6L1132.7 604.8L1132.8 604.9L1132.9 605.1L1132.9 605.2L1132.9 605.2L1132.9 605.4L1132.8 605.5L1132.7 605.6L1132.5 605.8L1132.3 605.9L1132.0 606.0L1131.8 606.1L1131.4 606.1L1131.1 606.2L1130.7 606.2L1130.2 606.2L1129.8 606.2L1129.3 606.1L1128.9 606.1L1128.4 605.9L1127.9 605.2L1127.5 605.2L1127.1 605.2L1126.8 605.2L1126.4 605.1L1126.1 605.1L1125.7 605.0L1125.4 604.9L1125.1 604.8L1124.9 604.7L1124.7 604.6L1124.5 604.5L1124.3 604.3L1124.2 604.2L1124.1 604.0L1124.0 603.9L1124.0 603.8ZM1122.9 603.8L1122.9 603.6L1123.0 603.5L1123.0 603.3L1123.1 603.2L1123.3 603.0L1123.4 602.9L1123.6 602.8L1123.8 602.7L1124.0 602.6L1124.2 602.5L1124.5 602.4L1124.8 602.4L1125.0 602.3L1125.3 602.3L1125.6 602.3L1125.9 602.2L1126.4 602.8L1126.9 603.0L1127.4 603.1L1127.8 603.3L1128.3 603.4L1128.7 603.5L1129.1 603.7L1129.5 603.8L1129.8 604.0L1130.1 604.1L1130.3 604.3L1130.5 604.4L1130.7 604.6L1130.8 604.7L1130.9 604.9L1130.9 605.0L1130.9 605.0L1130.9 605.2L1130.8 605.3L1130.7 605.5L1130.5 605.6L1130.3 605.7L1130.1 605.8L1129.8 605.9L1129.5 606.0L1129.1 606.0L1128.7 606.0L1128.3 606.1L1127.8 606.1L1127.4 606.0L1126.9 605.9L1126.4 605.8L1125.9 605.2L1125.6 605.2L1125.3 605.2L1125.0 605.2L1124.8 605.1L1124.5 605.1L1124.2 605.0L1124.0 604.9L1123.8 604.8L1123.6 604.7L1123.4 604.6L1123.3 604.5L1123.1 604.3L1123.0 604.2L1123.0 604.0L1122.9 603.9L1122.9 603.8Z" fill="none" stroke="#262626" stroke-width="0.85"/>
<rect x="1179.4" y="388.2" width="130.7" height="204.5" fill="none" stroke="#d0232d" stroke-width="4.2"/>
<text class="red" transform="translate(1025.0 432.5) scale(1 1.04)" font-size="63.5">0.8</text>
</g>
<g id="plot4">
<rect x="1376.0" y="373.6" width="356.3" height="355.4" fill="#fff" stroke="#4a4a4a" stroke-width="1.3"/>
<path d="M1392.4 729.0v4.5M1430.2 729.0v4.5M1435.5 729.0v4.5M1441.2 729.0v4.5M1446.8 729.0v4.5M1460.3 729.0v4.5M1466.0 729.0v4.5M1473.5 729.0v4.5M1502.2 729.0v4.5M1509.2 729.0v4.5M1515.4 729.0v4.5M1528.7 729.0v4.5M1534.1 729.0v4.5M1540.3 729.0v4.5M1545.7 729.0v4.5M1583.3 729.0v4.5M1602.4 729.0v4.5M1615.1 729.0v4.5M1631.9 729.0v4.5M1637.7 729.0v4.5M1643.0 729.0v4.5M1647.4 729.0v4.5M1676.5 729.0v4.5M1690.4 729.0v4.5M1700.2 729.0v4.5M1712.3 729.0v4.5M1717.3 729.0v4.5M1721.9 729.0v4.5M1726.3 729.0v4.5" stroke="#111" stroke-width="1.6" fill="none"/>
<path d="M1425.9 729.0v8.5M1549.7 729.0v8.5M1651.2 729.0v8.5M1730.7 729.0v8.5" stroke="#111" stroke-width="3.2" fill="none"/>
<path d="M1453.7 729.0v7.5M1521.7 729.0v7.5M1624.4 729.0v7.5M1706.7 729.0v7.5" stroke="#111" stroke-width="2.2" fill="none"/>
<path d="M1376.0 374.8h-10M1376.0 447.3h-10M1376.0 536.0h-10M1376.0 706.8h-10" stroke="#111" stroke-width="3.0" fill="none"/>
<path d="M1376.0 377.5h-5M1376.0 380.3h-5M1376.0 383.6h-5M1376.0 387.4h-5M1376.0 401.9h-5M1376.0 410.9h-5M1376.0 425.0h-5M1376.0 450.2h-5M1376.0 453.4h-5M1376.0 456.8h-5M1376.0 460.7h-5M1376.0 464.8h-5M1376.0 478.0h-5M1376.0 488.0h-5M1376.0 505.5h-5M1376.0 539.7h-5M1376.0 544.0h-5M1376.0 549.0h-5M1376.0 553.6h-5M1376.0 559.3h-5M1376.0 576.3h-5M1376.0 587.2h-5M1376.0 598.6h-5M1376.0 645.6h-5M1376.0 655.8h-5M1376.0 665.9h-5M1376.0 683.7h-5M1376.0 690.0h-5M1376.0 695.6h-5M1376.0 700.7h-5" stroke="#111" stroke-width="1.5" fill="none"/>
<path d="M1376.0 394.5h-7.5M1376.0 470.3h-7.5M1376.0 567.7h-7.5M1376.0 674.8h-7.5" stroke="#111" stroke-width="2.0" fill="none"/>
<rect x="1478.9" y="729.0" width="17.6" height="5.5" fill="#111"/>
<path d="M1480.3 729.0v8.5M1487.2 729.0v9M1495.0 729.0v8.5" stroke="#111" stroke-width="3"/>
<rect x="1370.5" y="608.8" width="5.5" height="25.9" fill="#111"/>
<path d="M1376.0 610.2h-9.5M1376.0 618h-7M1376.0 625.5h-7M1376.0 633.2h-9.5" stroke="#111" stroke-width="3"/>
<path d="M1470.4 604.0L1470.4 603.0L1470.6 601.9L1470.8 600.9L1471.0 599.9L1471.4 598.8L1471.8 597.8L1472.3 596.8L1472.9 595.9L1473.6 594.9L1474.3 594.0L1475.1 593.1L1476.0 592.3L1476.9 591.5L1477.9 590.7L1478.9 590.0L1480.0 589.3L1481.2 588.7L1482.4 588.1L1483.6 587.6L1484.9 587.1L1486.2 586.6L1487.5 586.3L1488.9 585.9L1490.3 585.7L1491.7 585.5L1493.1 585.3L1494.6 585.2L1496.0 585.2L1502.9 587.7L1509.7 589.1L1516.6 590.3L1523.3 591.6L1530.0 592.8L1536.6 593.9L1543.0 595.1L1549.3 596.2L1555.4 597.3L1561.3 598.3L1567.1 599.4L1572.6 600.4L1577.8 601.3L1582.8 602.2L1587.6 603.0L1592.0 603.8L1596.2 604.6L1600.0 605.3L1603.5 605.9L1606.6 606.5L1609.5 607.0L1611.9 607.4L1614.0 607.8L1615.7 608.1L1617.1 608.4L1618.0 608.6L1618.6 608.7L1618.8 608.7L1618.8 608.7L1618.6 608.7L1618.0 608.8L1617.1 609.0L1615.7 609.2L1614.0 609.4L1611.9 609.8L1609.5 610.1L1606.6 610.6L1603.5 611.1L1600.0 611.6L1596.2 612.2L1592.0 612.8L1587.6 613.4L1582.8 614.1L1577.8 614.9L1572.6 615.6L1567.1 616.4L1561.3 617.2L1555.4 618.0L1549.3 618.8L1543.0 619.7L1536.6 620.5L1530.0 621.3L1523.3 622.0L1516.6 622.7L1509.7 623.4L1502.9 623.8L1496.0 622.9L1494.6 622.9L1493.1 622.8L1491.7 622.6L1490.3 622.4L1488.9 622.2L1487.5 621.8L1486.2 621.5L1484.9 621.0L1483.6 620.5L1482.4 620.0L1481.2 619.4L1480.0 618.8L1478.9 618.1L1477.9 617.4L1476.9 616.6L1476.0 615.8L1475.1 615.0L1474.3 614.1L1473.6 613.2L1472.9 612.2L1472.3 611.3L1471.8 610.3L1471.4 609.3L1471.0 608.2L1470.8 607.2L1470.6 606.2L1470.4 605.1L1470.4 604.0Z" fill="#231f20" stroke="#231f20" stroke-width="1.5" stroke-linejoin="round"/>
<path d="M1608.0 604.0L1613.1 604.3L1618.2 604.6L1623.3 605.0L1628.4 605.5L1633.5 606.0L1638.6 606.6L1643.7 607.2L1648.8 607.9L1653.9 608.6L1659.0 609.4L1659.0 608.6L1653.9 609.4L1648.8 610.1L1643.7 610.8L1638.6 611.4L1633.5 612.0L1628.4 612.5L1623.3 613.0L1618.2 613.4L1613.1 613.7L1608.0 614.0Z" fill="#231f20"/>
<path d="M1470.4 604.0L1470.4 603.0L1470.6 601.9L1470.8 600.9L1471.0 599.9L1471.4 598.8L1471.8 597.8L1472.3 596.8L1472.9 595.9L1473.6 594.9L1474.3 594.0L1475.1 593.1L1476.0 592.3L1476.9 591.5L1477.9 590.7L1478.9 590.0L1480.0 589.3L1481.2 588.7L1482.4 588.1L1483.6 587.6L1484.9 587.1L1486.2 586.6L1487.5 586.3L1488.9 585.9L1490.3 585.7L1491.7 585.5L1493.1 585.3L1494.6 585.2L1496.0 585.2L1502.9 587.7L1509.7 589.1L1516.6 590.3L1523.3 591.6L1530.0 592.8L1536.6 593.9L1543.0 595.1L1549.3 596.2L1555.4 597.3L1561.3 598.3L1567.1 599.4L1572.6 600.4L1577.8 601.3L1582.8 602.2L1587.6 603.0L1592.0 603.8L1596.2 604.6L1600.0 605.3L1603.5 605.9L1606.6 606.5L1609.5 607.0L1611.9 607.4L1614.0 607.8L1615.7 608.1L1617.1 608.4L1618.0 608.6L1618.6 608.7L1618.8 608.7L1618.8 608.7L1618.6 608.7L1618.0 608.8L1617.1 609.0L1615.7 609.2L1614.0 609.4L1611.9 609.8L1609.5 610.1L1606.6 610.6L1603.5 611.1L1600.0 611.6L1596.2 612.2L1592.0 612.8L1587.6 613.4L1582.8 614.1L1577.8 614.9L1572.6 615.6L1567.1 616.4L1561.3 617.2L1555.4 618.0L1549.3 618.8L1543.0 619.7L1536.6 620.5L1530.0 621.3L1523.3 622.0L1516.6 622.7L1509.7 623.4L1502.9 623.8L1496.0 622.9L1494.6 622.9L1493.1 622.8L1491.7 622.6L1490.3 622.4L1488.9 622.2L1487.5 621.8L1486.2 621.5L1484.9 621.0L1483.6 620.5L1482.4 620.0L1481.2 619.4L1480.0 618.8L1478.9 618.1L1477.9 617.4L1476.9 616.6L1476.0 615.8L1475.1 615.0L1474.3 614.1L1473.6 613.2L1472.9 612.2L1472.3 611.3L1471.8 610.3L1471.4 609.3L1471.0 608.2L1470.8 607.2L1470.6 606.2L1470.4 605.1L1470.4 604.0Z" fill="#fff"/>
<ellipse cx="1499" cy="604.5" rx="17" ry="13.2" fill="#9a9a9a"/>
<path d="M1537.4 591.4h5.5v5.5h-5.5zM1575.2 596.9h5.5v5.5h-5.5zM1518.8 585.5h5.5v5.5h-5.5zM1572.9 597.8h5.5v5.5h-5.5zM1549.9 591.1h5.5v5.5h-5.5zM1502.2 622.3h5.5v5.5h-5.5zM1533.0 619.0h5.5v5.5h-5.5zM1524.9 588.1h5.5v5.5h-5.5zM1599.6 608.8h5.5v5.5h-5.5zM1478.7 582.1h5.5v5.5h-5.5zM1596.0 599.6h5.5v5.5h-5.5zM1484.8 581.8h5.5v5.5h-5.5zM1513.1 620.8h5.5v5.5h-5.5zM1520.1 585.1h5.5v5.5h-5.5zM1511.7 585.5h5.5v5.5h-5.5zM1512.0 620.8h5.5v5.5h-5.5zM1522.4 619.5h5.5v5.5h-5.5zM1551.3 593.7h5.5v5.5h-5.5zM1510.1 582.5h5.5v5.5h-5.5zM1495.8 578.8h5.5v5.5h-5.5zM1596.5 600.5h5.5v5.5h-5.5zM1614.2 607.2h5.5v5.5h-5.5zM1476.6 583.9h5.5v5.5h-5.5zM1488.0 577.0h5.5v5.5h-5.5zM1530.5 587.5h5.5v5.5h-5.5zM1539.0 588.9h5.5v5.5h-5.5zM1465.3 594.7h5.5v5.5h-5.5zM1471.3 614.2h5.5v5.5h-5.5zM1486.7 578.1h5.5v5.5h-5.5zM1553.9 616.0h5.5v5.5h-5.5zM1522.7 585.0h5.5v5.5h-5.5zM1589.4 611.3h5.5v5.5h-5.5zM1472.1 589.0h5.5v5.5h-5.5zM1467.0 593.0h5.5v5.5h-5.5zM1479.4 583.8h5.5v5.5h-5.5zM1508.8 622.5h5.5v5.5h-5.5zM1582.5 611.3h5.5v5.5h-5.5zM1610.2 607.1h5.5v5.5h-5.5zM1578.0 597.5h5.5v5.5h-5.5zM1543.1 591.1h5.5v5.5h-5.5zM1521.2 587.2h5.5v5.5h-5.5zM1483.3 581.8h5.5v5.5h-5.5zM1596.2 600.0h5.5v5.5h-5.5zM1565.7 595.1h5.5v5.5h-5.5zM1590.9 611.1h5.5v5.5h-5.5zM1517.6 620.6h5.5v5.5h-5.5zM1487.7 581.5h5.5v5.5h-5.5zM1544.0 589.2h5.5v5.5h-5.5zM1557.7 592.0h5.5v5.5h-5.5zM1470.8 587.9h5.5v5.5h-5.5zM1542.6 589.9h5.5v5.5h-5.5zM1465.1 597.4h5.5v5.5h-5.5zM1513.6 583.6h5.5v5.5h-5.5zM1572.8 596.1h5.5v5.5h-5.5zM1497.5 581.9h5.5v5.5h-5.5zM1473.6 584.8h5.5v5.5h-5.5zM1571.0 595.6h5.5v5.5h-5.5zM1467.1 608.9h5.5v5.5h-5.5zM1565.7 593.0h5.5v5.5h-5.5zM1561.5 595.0h5.5v5.5h-5.5zM1568.3 593.5h5.5v5.5h-5.5zM1478.2 585.5h5.5v5.5h-5.5zM1510.8 583.5h5.5v5.5h-5.5zM1548.0 590.8h5.5v5.5h-5.5zM1554.1 592.2h5.5v5.5h-5.5zM1476.7 618.9h5.5v5.5h-5.5zM1504.0 584.3h5.5v5.5h-5.5zM1614.6 605.4h5.5v5.5h-5.5zM1526.5 587.2h5.5v5.5h-5.5zM1561.2 593.3h5.5v5.5h-5.5zM1474.1 587.4h5.5v5.5h-5.5zM1559.0 593.0h5.5v5.5h-5.5zM1487.3 581.9h5.5v5.5h-5.5zM1508.0 582.2h5.5v5.5h-5.5zM1493.3 581.7h5.5v5.5h-5.5zM1523.5 588.3h5.5v5.5h-5.5zM1469.0 594.5h5.5v5.5h-5.5zM1489.1 581.3h5.5v5.5h-5.5zM1553.8 590.7h5.5v5.5h-5.5zM1527.6 587.9h5.5v5.5h-5.5zM1487.6 578.8h5.5v5.5h-5.5zM1463.9 602.3h5.5v5.5h-5.5zM1545.6 592.5h5.5v5.5h-5.5zM1467.6 590.5h5.5v5.5h-5.5zM1548.7 589.9h5.5v5.5h-5.5zM1532.3 590.1h5.5v5.5h-5.5zM1510.9 584.8h5.5v5.5h-5.5zM1471.4 589.2h5.5v5.5h-5.5zM1596.3 599.5h5.5v5.5h-5.5zM1584.7 599.5h5.5v5.5h-5.5zM1478.0 584.5h5.5v5.5h-5.5zM1498.1 581.4h5.5v5.5h-5.5zM1491.1 577.9h5.5v5.5h-5.5zM1512.5 584.8h5.5v5.5h-5.5zM1491.1 578.5h5.5v5.5h-5.5zM1538.7 617.6h5.5v5.5h-5.5zM1588.2 611.0h5.5v5.5h-5.5zM1481.3 619.4h5.5v5.5h-5.5zM1613.3 606.6h5.5v5.5h-5.5zM1549.5 590.3h5.5v5.5h-5.5zM1506.1 581.3h5.5v5.5h-5.5zM1517.4 586.5h5.5v5.5h-5.5zM1557.4 592.6h5.5v5.5h-5.5zM1588.8 600.0h5.5v5.5h-5.5zM1530.9 586.6h5.5v5.5h-5.5zM1596.7 609.5h5.5v5.5h-5.5zM1554.8 616.4h5.5v5.5h-5.5zM1560.8 614.6h5.5v5.5h-5.5zM1542.5 591.7h5.5v5.5h-5.5zM1553.4 617.1h5.5v5.5h-5.5zM1506.1 582.8h5.5v5.5h-5.5zM1525.9 589.3h5.5v5.5h-5.5zM1535.2 618.2h5.5v5.5h-5.5zM1522.9 621.5h5.5v5.5h-5.5zM1508.6 622.6h5.5v5.5h-5.5zM1500.9 581.5h5.5v5.5h-5.5zM1495.1 582.8h5.5v5.5h-5.5zM1524.4 587.8h5.5v5.5h-5.5zM1512.4 584.0h5.5v5.5h-5.5zM1479.8 619.4h5.5v5.5h-5.5zM1523.6 584.6h5.5v5.5h-5.5zM1469.6 613.7h5.5v5.5h-5.5zM1487.2 582.3h5.5v5.5h-5.5zM1584.7 597.5h5.5v5.5h-5.5zM1510.8 582.5h5.5v5.5h-5.5zM1553.0 594.0h5.5v5.5h-5.5zM1539.3 618.0h5.5v5.5h-5.5zM1569.8 594.5h5.5v5.5h-5.5zM1488.1 622.1h5.5v5.5h-5.5zM1478.4 620.3h5.5v5.5h-5.5zM1488.2 581.0h5.5v5.5h-5.5zM1464.2 597.4h5.5v5.5h-5.5zM1553.7 616.9h5.5v5.5h-5.5zM1560.9 593.3h5.5v5.5h-5.5zM1525.9 588.4h5.5v5.5h-5.5zM1523.1 584.4h5.5v5.5h-5.5zM1476.1 583.7h5.5v5.5h-5.5zM1545.6 617.5h5.5v5.5h-5.5zM1483.6 581.6h5.5v5.5h-5.5zM1609.9 608.0h5.5v5.5h-5.5zM1514.1 584.0h5.5v5.5h-5.5zM1589.1 599.2h5.5v5.5h-5.5zM1503.3 580.4h5.5v5.5h-5.5zM1508.4 622.1h5.5v5.5h-5.5zM1467.4 590.7h5.5v5.5h-5.5zM1527.3 586.6h5.5v5.5h-5.5zM1465.2 594.1h5.5v5.5h-5.5zM1472.5 588.8h5.5v5.5h-5.5zM1586.2 598.2h5.5v5.5h-5.5zM1561.3 595.8h5.5v5.5h-5.5zM1480.6 621.3h5.5v5.5h-5.5zM1600.7 609.1h5.5v5.5h-5.5zM1592.6 601.4h5.5v5.5h-5.5zM1469.0 589.6h5.5v5.5h-5.5zM1489.6 582.3h5.5v5.5h-5.5zM1586.0 597.2h5.5v5.5h-5.5zM1518.9 585.1h5.5v5.5h-5.5zM1544.2 592.6h5.5v5.5h-5.5zM1574.5 613.5h5.5v5.5h-5.5zM1485.0 621.7h5.5v5.5h-5.5zM1496.7 580.0h5.5v5.5h-5.5zM1552.4 617.1h5.5v5.5h-5.5zM1587.9 599.8h5.5v5.5h-5.5zM1571.0 613.8h5.5v5.5h-5.5zM1477.6 582.2h5.5v5.5h-5.5zM1476.0 582.8h5.5v5.5h-5.5zM1604.4 603.3h5.5v5.5h-5.5zM1495.3 622.6h5.5v5.5h-5.5zM1558.4 615.4h5.5v5.5h-5.5zM1486.5 578.2h5.5v5.5h-5.5zM1473.3 588.5h5.5v5.5h-5.5zM1559.8 592.0h5.5v5.5h-5.5zM1475.5 616.1h5.5v5.5h-5.5zM1541.9 617.9h5.5v5.5h-5.5zM1512.3 622.8h5.5v5.5h-5.5zM1568.2 595.0h5.5v5.5h-5.5zM1470.9 613.5h5.5v5.5h-5.5zM1527.9 589.5h5.5v5.5h-5.5zM1500.4 579.9h5.5v5.5h-5.5zM1542.8 592.1h5.5v5.5h-5.5zM1566.5 615.0h5.5v5.5h-5.5zM1468.7 608.8h5.5v5.5h-5.5zM1469.2 588.7h5.5v5.5h-5.5zM1465.0 604.3h5.5v5.5h-5.5zM1546.8 617.7h5.5v5.5h-5.5zM1513.5 583.0h5.5v5.5h-5.5zM1543.4 618.3h5.5v5.5h-5.5zM1594.6 610.6h5.5v5.5h-5.5zM1545.8 590.2h5.5v5.5h-5.5zM1553.2 590.8h5.5v5.5h-5.5zM1566.4 613.8h5.5v5.5h-5.5zM1504.5 580.9h5.5v5.5h-5.5zM1465.3 601.5h5.5v5.5h-5.5zM1499.7 579.8h5.5v5.5h-5.5zM1516.2 620.2h5.5v5.5h-5.5zM1563.0 595.3h5.5v5.5h-5.5zM1573.0 595.5h5.5v5.5h-5.5zM1587.4 611.7h5.5v5.5h-5.5zM1548.6 592.7h5.5v5.5h-5.5zM1613.8 604.6h5.5v5.5h-5.5zM1617.6 599.0h5.5v5.5h-5.5zM1642.3 614.7h5.5v5.5h-5.5zM1653.8 601.4h5.5v5.5h-5.5zM1630.8 612.8h5.5v5.5h-5.5zM1651.1 611.9h5.5v5.5h-5.5zM1620.4 609.8h5.5v5.5h-5.5zM1607.0 613.4h5.5v5.5h-5.5zM1657.0 603.6h5.5v5.5h-5.5zM1609.6 594.9h5.5v5.5h-5.5zM1646.6 612.2h5.5v5.5h-5.5zM1635.1 607.6h5.5v5.5h-5.5zM1604.5 608.7h5.5v5.5h-5.5zM1612.7 596.9h5.5v5.5h-5.5zM1629.4 606.3h5.5v5.5h-5.5zM1625.6 610.7h5.5v5.5h-5.5zM1607.5 614.2h5.5v5.5h-5.5zM1622.5 607.9h5.5v5.5h-5.5zM1649.9 611.3h5.5v5.5h-5.5zM1634.7 612.9h5.5v5.5h-5.5zM1657.8 612.1h5.5v5.5h-5.5zM1657.0 606.5h5.5v5.5h-5.5zM1644.5 609.8h5.5v5.5h-5.5zM1648.1 609.3h5.5v5.5h-5.5zM1624.1 598.4h5.5v5.5h-5.5zM1645.6 600.4h5.5v5.5h-5.5zM1612.7 607.6h5.5v5.5h-5.5zM1641.0 602.6h5.5v5.5h-5.5zM1626.2 610.4h5.5v5.5h-5.5zM1608.9 610.5h5.5v5.5h-5.5zM1636.1 608.6h5.5v5.5h-5.5zM1610.9 615.1h5.5v5.5h-5.5zM1606.6 594.9h5.5v5.5h-5.5zM1611.7 602.8h5.5v5.5h-5.5zM1613.5 603.9h5.5v5.5h-5.5zM1655.4 612.8h5.5v5.5h-5.5zM1629.3 603.4h5.5v5.5h-5.5zM1639.9 614.2h5.5v5.5h-5.5zM1629.9 606.6h5.5v5.5h-5.5zM1618.0 596.0h5.5v5.5h-5.5zM1652.9 599.2h5.5v5.5h-5.5zM1653.1 600.9h5.5v5.5h-5.5zM1614.3 609.1h5.5v5.5h-5.5zM1617.8 617.1h5.5v5.5h-5.5zM1633.5 598.3h5.5v5.5h-5.5zM1616.5 608.7h5.5v5.5h-5.5zM1609.1 594.7h5.5v5.5h-5.5zM1632.6 615.3h5.5v5.5h-5.5zM1639.1 598.5h5.5v5.5h-5.5zM1609.2 616.2h5.5v5.5h-5.5zM1617.7 600.2h5.5v5.5h-5.5zM1621.4 615.7h5.5v5.5h-5.5zM1658.3 608.8h5.5v5.5h-5.5zM1631.3 612.0h5.5v5.5h-5.5zM1657.8 607.0h5.5v5.5h-5.5zM1653.0 608.1h5.5v5.5h-5.5zM1657.0 603.1h5.5v5.5h-5.5zM1613.2 612.5h5.5v5.5h-5.5zM1614.0 612.7h5.5v5.5h-5.5zM1618.4 609.3h5.5v5.5h-5.5zM1640.3 606.3h5.5v5.5h-5.5zM1655.5 611.3h5.5v5.5h-5.5zM1630.6 612.8h5.5v5.5h-5.5zM1631.7 612.7h5.5v5.5h-5.5zM1622.3 600.2h5.5v5.5h-5.5zM1604.6 610.3h5.5v5.5h-5.5zM1629.8 614.4h5.5v5.5h-5.5zM1642.4 609.4h5.5v5.5h-5.5zM1654.4 604.2h5.5v5.5h-5.5zM1629.8 605.1h5.5v5.5h-5.5zM1624.4 610.7h5.5v5.5h-5.5zM1649.4 608.6h5.5v5.5h-5.5zM1607.8 609.3h5.5v5.5h-5.5zM1616.1 595.0h5.5v5.5h-5.5zM1612.1 603.7h5.5v5.5h-5.5zM1619.6 608.8h5.5v5.5h-5.5zM1648.7 608.5h5.5v5.5h-5.5zM1605.4 617.5h5.5v5.5h-5.5zM1604.5 617.8h5.5v5.5h-5.5zM1618.2 607.7h5.5v5.5h-5.5zM1626.3 606.1h5.5v5.5h-5.5zM1644.1 602.9h5.5v5.5h-5.5zM1648.5 604.0h5.5v5.5h-5.5zM1607.0 596.4h5.5v5.5h-5.5zM1628.4 602.6h5.5v5.5h-5.5zM1650.4 612.5h5.5v5.5h-5.5zM1647.9 613.6h5.5v5.5h-5.5zM1653.0 605.5h5.5v5.5h-5.5zM1646.7 612.4h5.5v5.5h-5.5zM1609.0 600.1h5.5v5.5h-5.5zM1640.2 605.1h5.5v5.5h-5.5zM1652.1 611.0h5.5v5.5h-5.5zM1628.7 610.5h5.5v5.5h-5.5zM1620.9 607.4h5.5v5.5h-5.5zM1627.3 607.4h5.5v5.5h-5.5zM1652.3 608.0h5.5v5.5h-5.5zM1495.2 537.0h5.5v5.5h-5.5zM1507.9 559.8h5.5v5.5h-5.5zM1509.6 556.2h5.5v5.5h-5.5zM1499.3 567.8h5.5v5.5h-5.5zM1522.3 582.9h5.5v5.5h-5.5zM1498.9 555.6h5.5v5.5h-5.5zM1482.2 559.7h5.5v5.5h-5.5zM1524.7 564.1h5.5v5.5h-5.5zM1505.1 521.9h5.5v5.5h-5.5zM1485.6 543.9h5.5v5.5h-5.5zM1514.1 535.4h5.5v5.5h-5.5zM1500.1 582.6h5.5v5.5h-5.5zM1513.0 522.3h5.5v5.5h-5.5zM1492.8 561.5h5.5v5.5h-5.5zM1510.6 528.1h5.5v5.5h-5.5zM1523.6 564.7h5.5v5.5h-5.5zM1506.7 531.7h5.5v5.5h-5.5zM1525.2 546.8h5.5v5.5h-5.5zM1493.2 581.4h5.5v5.5h-5.5zM1482.6 556.3h5.5v5.5h-5.5zM1496.4 567.1h5.5v5.5h-5.5zM1502.3 538.9h5.5v5.5h-5.5zM1506.0 528.0h5.5v5.5h-5.5zM1497.1 537.6h5.5v5.5h-5.5zM1485.0 572.5h5.5v5.5h-5.5zM1505.0 565.8h5.5v5.5h-5.5zM1499.2 576.0h5.5v5.5h-5.5zM1472.2 576.4h5.5v5.5h-5.5zM1484.3 540.6h5.5v5.5h-5.5zM1492.2 528.1h5.5v5.5h-5.5zM1533.0 582.4h5.5v5.5h-5.5zM1535.6 576.0h5.5v5.5h-5.5zM1485.8 545.1h5.5v5.5h-5.5zM1478.3 573.3h5.5v5.5h-5.5zM1507.8 553.6h5.5v5.5h-5.5zM1537.0 582.6h5.5v5.5h-5.5zM1530.2 551.5h5.5v5.5h-5.5zM1544.4 581.5h5.5v5.5h-5.5zM1505.0 538.8h5.5v5.5h-5.5zM1512.0 573.3h5.5v5.5h-5.5zM1497.1 541.1h5.5v5.5h-5.5zM1480.2 541.1h5.5v5.5h-5.5zM1510.8 551.8h5.5v5.5h-5.5zM1534.9 574.5h5.5v5.5h-5.5zM1512.6 556.7h5.5v5.5h-5.5zM1493.4 521.8h5.5v5.5h-5.5zM1514.7 523.4h5.5v5.5h-5.5zM1525.5 550.5h5.5v5.5h-5.5zM1527.5 567.9h5.5v5.5h-5.5zM1481.2 566.7h5.5v5.5h-5.5zM1501.1 529.1h5.5v5.5h-5.5zM1484.9 571.6h5.5v5.5h-5.5zM1475.9 556.5h5.5v5.5h-5.5zM1498.0 568.2h5.5v5.5h-5.5zM1542.4 579.3h5.5v5.5h-5.5zM1487.2 577.2h5.5v5.5h-5.5zM1512.9 575.6h5.5v5.5h-5.5zM1521.9 550.8h5.5v5.5h-5.5zM1534.9 582.7h5.5v5.5h-5.5zM1488.9 576.5h5.5v5.5h-5.5zM1488.0 565.8h5.5v5.5h-5.5zM1483.5 534.1h5.5v5.5h-5.5zM1494.0 534.5h5.5v5.5h-5.5zM1502.0 528.5h5.5v5.5h-5.5zM1504.9 562.8h5.5v5.5h-5.5zM1476.0 566.1h5.5v5.5h-5.5zM1525.3 559.1h5.5v5.5h-5.5zM1510.3 521.4h5.5v5.5h-5.5zM1509.8 531.8h5.5v5.5h-5.5zM1533.4 577.4h5.5v5.5h-5.5zM1487.5 537.2h5.5v5.5h-5.5zM1483.6 570.4h5.5v5.5h-5.5zM1497.1 537.0h5.5v5.5h-5.5zM1485.3 548.2h5.5v5.5h-5.5zM1517.7 579.4h5.5v5.5h-5.5zM1507.0 524.2h5.5v5.5h-5.5zM1504.6 560.7h5.5v5.5h-5.5zM1530.5 565.3h5.5v5.5h-5.5zM1504.7 553.2h5.5v5.5h-5.5zM1481.4 556.5h5.5v5.5h-5.5zM1483.5 565.4h5.5v5.5h-5.5zM1504.2 566.9h5.5v5.5h-5.5zM1480.9 570.1h5.5v5.5h-5.5zM1503.7 581.2h5.5v5.5h-5.5zM1507.0 535.9h5.5v5.5h-5.5zM1483.1 579.7h5.5v5.5h-5.5zM1506.3 533.4h5.5v5.5h-5.5zM1540.3 576.1h5.5v5.5h-5.5zM1478.8 551.1h5.5v5.5h-5.5zM1504.0 527.5h5.5v5.5h-5.5zM1512.2 552.5h5.5v5.5h-5.5zM1486.8 529.5h5.5v5.5h-5.5zM1488.8 578.8h5.5v5.5h-5.5zM1485.2 542.1h5.5v5.5h-5.5zM1499.6 549.2h5.5v5.5h-5.5zM1486.4 576.2h5.5v5.5h-5.5zM1508.4 529.5h5.5v5.5h-5.5zM1493.9 581.9h5.5v5.5h-5.5zM1483.3 561.6h5.5v5.5h-5.5zM1517.8 526.3h5.5v5.5h-5.5zM1478.2 548.3h5.5v5.5h-5.5zM1511.3 580.7h5.5v5.5h-5.5zM1506.7 529.2h5.5v5.5h-5.5zM1489.0 556.9h5.5v5.5h-5.5zM1488.4 543.4h5.5v5.5h-5.5zM1513.5 577.4h5.5v5.5h-5.5zM1527.2 575.3h5.5v5.5h-5.5zM1522.6 538.3h5.5v5.5h-5.5zM1520.9 579.7h5.5v5.5h-5.5zM1523.7 541.5h5.5v5.5h-5.5zM1531.5 554.7h5.5v5.5h-5.5zM1532.9 563.1h5.5v5.5h-5.5zM1526.6 562.2h5.5v5.5h-5.5zM1495.3 550.4h5.5v5.5h-5.5zM1482.7 553.3h5.5v5.5h-5.5zM1479.9 557.8h5.5v5.5h-5.5zM1481.3 548.4h5.5v5.5h-5.5zM1529.3 573.0h5.5v5.5h-5.5zM1495.5 553.7h5.5v5.5h-5.5zM1503.5 548.4h5.5v5.5h-5.5zM1515.6 530.4h5.5v5.5h-5.5zM1513.8 525.5h5.5v5.5h-5.5zM1475.2 562.5h5.5v5.5h-5.5zM1502.7 525.9h5.5v5.5h-5.5zM1514.1 567.9h5.5v5.5h-5.5zM1490.6 578.7h5.5v5.5h-5.5zM1488.8 572.3h5.5v5.5h-5.5zM1496.6 570.4h5.5v5.5h-5.5zM1484.1 561.5h5.5v5.5h-5.5zM1486.8 537.5h5.5v5.5h-5.5zM1483.7 553.1h5.5v5.5h-5.5zM1492.5 532.6h5.5v5.5h-5.5zM1486.5 576.6h5.5v5.5h-5.5zM1485.3 575.7h5.5v5.5h-5.5zM1498.3 553.5h5.5v5.5h-5.5zM1496.9 524.0h5.5v5.5h-5.5zM1531.0 561.4h5.5v5.5h-5.5zM1488.4 548.8h5.5v5.5h-5.5zM1498.4 567.3h5.5v5.5h-5.5zM1486.2 533.7h5.5v5.5h-5.5zM1516.4 534.1h5.5v5.5h-5.5zM1516.5 548.4h5.5v5.5h-5.5zM1488.7 537.3h5.5v5.5h-5.5zM1478.8 552.0h5.5v5.5h-5.5zM1503.3 576.0h5.5v5.5h-5.5zM1516.8 552.2h5.5v5.5h-5.5zM1483.9 550.8h5.5v5.5h-5.5zM1516.8 534.9h5.5v5.5h-5.5zM1493.8 544.8h5.5v5.5h-5.5zM1517.2 531.8h5.5v5.5h-5.5zM1537.1 568.6h5.5v5.5h-5.5zM1486.6 535.0h5.5v5.5h-5.5zM1469.0 580.7h5.5v5.5h-5.5zM1527.4 554.1h5.5v5.5h-5.5zM1500.3 550.4h5.5v5.5h-5.5zM1524.9 576.6h5.5v5.5h-5.5zM1503.5 570.3h5.5v5.5h-5.5zM1513.3 530.5h5.5v5.5h-5.5zM1538.6 573.1h5.5v5.5h-5.5zM1488.9 535.4h5.5v5.5h-5.5zM1511.8 546.3h5.5v5.5h-5.5zM1517.9 573.2h5.5v5.5h-5.5zM1509.8 550.3h5.5v5.5h-5.5zM1501.3 550.7h5.5v5.5h-5.5zM1503.2 558.2h5.5v5.5h-5.5zM1480.8 560.7h5.5v5.5h-5.5zM1494.0 567.0h5.5v5.5h-5.5zM1488.8 526.0h5.5v5.5h-5.5zM1520.0 557.5h5.5v5.5h-5.5zM1491.9 567.8h5.5v5.5h-5.5zM1470.0 582.7h5.5v5.5h-5.5zM1506.7 565.6h5.5v5.5h-5.5zM1530.7 568.9h5.5v5.5h-5.5zM1484.3 535.0h5.5v5.5h-5.5zM1495.5 573.2h5.5v5.5h-5.5zM1523.2 568.1h5.5v5.5h-5.5zM1491.4 571.6h5.5v5.5h-5.5zM1489.3 528.6h5.5v5.5h-5.5zM1486.6 558.6h5.5v5.5h-5.5zM1507.2 557.7h5.5v5.5h-5.5zM1502.5 542.9h5.5v5.5h-5.5zM1477.7 578.6h5.5v5.5h-5.5zM1493.2 575.4h5.5v5.5h-5.5zM1532.4 566.3h5.5v5.5h-5.5zM1477.9 550.6h5.5v5.5h-5.5zM1546.2 555.6h5.5v5.5h-5.5zM1536.1 510.3h5.5v5.5h-5.5zM1525.8 573.0h5.5v5.5h-5.5zM1523.6 538.1h5.5v5.5h-5.5zM1525.9 567.2h5.5v5.5h-5.5zM1529.1 575.5h5.5v5.5h-5.5zM1534.0 502.4h5.5v5.5h-5.5zM1534.1 507.8h5.5v5.5h-5.5zM1522.1 547.4h5.5v5.5h-5.5zM1533.3 515.7h5.5v5.5h-5.5zM1520.7 547.2h5.5v5.5h-5.5zM1540.7 564.4h5.5v5.5h-5.5zM1521.4 507.3h5.5v5.5h-5.5zM1535.9 530.8h5.5v5.5h-5.5zM1538.9 521.5h5.5v5.5h-5.5zM1532.4 519.0h5.5v5.5h-5.5zM1530.8 556.5h5.5v5.5h-5.5zM1526.6 577.6h5.5v5.5h-5.5zM1529.5 539.9h5.5v5.5h-5.5zM1545.2 543.8h5.5v5.5h-5.5zM1535.5 542.1h5.5v5.5h-5.5zM1534.2 569.3h5.5v5.5h-5.5zM1545.5 533.7h5.5v5.5h-5.5zM1541.1 566.4h5.5v5.5h-5.5zM1519.9 510.1h5.5v5.5h-5.5zM1519.9 554.0h5.5v5.5h-5.5zM1541.5 539.5h5.5v5.5h-5.5zM1526.3 519.0h5.5v5.5h-5.5zM1545.0 549.0h5.5v5.5h-5.5zM1530.8 522.2h5.5v5.5h-5.5zM1530.6 582.6h5.5v5.5h-5.5zM1526.4 528.9h5.5v5.5h-5.5zM1523.6 466.8h5.5v5.5h-5.5zM1498.2 479.3h5.5v5.5h-5.5zM1516.8 486.0h5.5v5.5h-5.5zM1501.9 467.0h5.5v5.5h-5.5zM1501.2 498.1h5.5v5.5h-5.5zM1528.4 498.6h5.5v5.5h-5.5zM1487.7 522.2h5.5v5.5h-5.5zM1509.3 461.5h5.5v5.5h-5.5zM1520.8 490.3h5.5v5.5h-5.5zM1512.7 475.9h5.5v5.5h-5.5zM1523.6 520.0h5.5v5.5h-5.5zM1481.6 470.8h5.5v5.5h-5.5zM1502.9 467.4h5.5v5.5h-5.5zM1483.4 486.5h5.5v5.5h-5.5zM1497.9 479.0h5.5v5.5h-5.5zM1493.4 487.4h5.5v5.5h-5.5zM1502.8 452.9h5.5v5.5h-5.5zM1511.2 508.0h5.5v5.5h-5.5zM1482.7 486.0h5.5v5.5h-5.5zM1488.4 497.6h5.5v5.5h-5.5zM1491.5 450.6h5.5v5.5h-5.5zM1498.6 451.9h5.5v5.5h-5.5zM1495.0 471.9h5.5v5.5h-5.5zM1513.5 507.5h5.5v5.5h-5.5zM1605.2 594.3h5.5v5.5h-5.5zM1625.6 586.9h5.5v5.5h-5.5zM1626.4 594.4h5.5v5.5h-5.5zM1645.2 589.7h5.5v5.5h-5.5zM1591.0 589.5h5.5v5.5h-5.5zM1658.2 589.1h5.5v5.5h-5.5zM1592.3 585.3h5.5v5.5h-5.5zM1627.3 589.2h5.5v5.5h-5.5zM1609.8 589.5h5.5v5.5h-5.5zM1591.9 588.2h5.5v5.5h-5.5zM1570.9 594.5h5.5v5.5h-5.5zM1610.3 592.9h5.5v5.5h-5.5zM1636.5 594.3h5.5v5.5h-5.5zM1595.5 592.8h5.5v5.5h-5.5zM1633.2 585.8h5.5v5.5h-5.5zM1586.4 593.8h5.5v5.5h-5.5zM1623.2 589.7h5.5v5.5h-5.5zM1612.5 592.8h5.5v5.5h-5.5zM1626.8 588.6h5.5v5.5h-5.5zM1613.8 588.4h5.5v5.5h-5.5zM1623.3 423.3h5.5v5.5h-5.5zM1568.8 437.1h5.5v5.5h-5.5zM1588.4 461.3h5.5v5.5h-5.5zM1599.4 458.3h5.5v5.5h-5.5zM1610.7 455.5h5.5v5.5h-5.5zM1630.2 455.5h5.5v5.5h-5.5zM1626.3 459.7h5.5v5.5h-5.5zM1620.6 465.2h5.5v5.5h-5.5zM1632.1 463.6h5.5v5.5h-5.5zM1634.4 468.2h5.5v5.5h-5.5zM1628.6 469.3h5.5v5.5h-5.5zM1580.3 472.3h5.5v5.5h-5.5zM1580.3 475.8h5.5v5.5h-5.5zM1614.1 469.3h5.5v5.5h-5.5zM1614.8 475.1h5.5v5.5h-5.5zM1614.8 480.8h5.5v5.5h-5.5zM1609.1 483.1h5.5v5.5h-5.5zM1605.6 487.7h5.5v5.5h-5.5zM1619.4 484.3h5.5v5.5h-5.5zM1621.7 485.4h5.5v5.5h-5.5zM1645.4 482.0h5.5v5.5h-5.5zM1550.4 482.4h5.5v5.5h-5.5zM1565.8 487.7h5.5v5.5h-5.5zM1579.2 486.6h5.5v5.5h-5.5zM1578.0 490.0h5.5v5.5h-5.5zM1620.6 494.6h5.5v5.5h-5.5zM1628.6 497.4h5.5v5.5h-5.5zM1642.4 493.5h5.5v5.5h-5.5zM1592.3 494.6h5.5v5.5h-5.5zM1584.2 499.2h5.5v5.5h-5.5zM1596.4 500.4h5.5v5.5h-5.5zM1590.7 503.8h5.5v5.5h-5.5zM1556.2 504.5h5.5v5.5h-5.5zM1594.1 508.4h5.5v5.5h-5.5zM1614.8 507.2h5.5v5.5h-5.5zM1576.9 510.0h5.5v5.5h-5.5zM1572.7 515.3h5.5v5.5h-5.5zM1584.9 514.8h5.5v5.5h-5.5zM1589.5 513.5h5.5v5.5h-5.5zM1603.3 513.0h5.5v5.5h-5.5zM1627.5 511.8h5.5v5.5h-5.5zM1630.9 514.1h5.5v5.5h-5.5zM1636.7 514.8h5.5v5.5h-5.5zM1640.1 517.1h5.5v5.5h-5.5zM1665.4 510.0h5.5v5.5h-5.5zM1550.4 513.5h5.5v5.5h-5.5zM1596.4 521.0h5.5v5.5h-5.5zM1599.9 521.5h5.5v5.5h-5.5zM1649.3 518.7h5.5v5.5h-5.5zM1649.3 523.3h5.5v5.5h-5.5zM1567.2 527.9h5.5v5.5h-5.5zM1627.5 526.8h5.5v5.5h-5.5zM1628.6 530.2h5.5v5.5h-5.5zM1642.4 529.1h5.5v5.5h-5.5zM1595.3 531.4h5.5v5.5h-5.5zM1603.3 531.4h5.5v5.5h-5.5zM1586.1 533.7h5.5v5.5h-5.5zM1581.5 536.4h5.5v5.5h-5.5zM1633.2 533.7h5.5v5.5h-5.5zM1637.8 534.4h5.5v5.5h-5.5zM1643.5 533.2h5.5v5.5h-5.5zM1652.7 535.3h5.5v5.5h-5.5zM1607.9 540.6h5.5v5.5h-5.5zM1616.0 539.4h5.5v5.5h-5.5zM1620.6 541.7h5.5v5.5h-5.5zM1626.3 540.6h5.5v5.5h-5.5zM1633.2 542.9h5.5v5.5h-5.5zM1612.5 546.3h5.5v5.5h-5.5zM1618.3 545.2h5.5v5.5h-5.5zM1622.9 545.6h5.5v5.5h-5.5zM1551.6 545.2h5.5v5.5h-5.5zM1555.0 552.1h5.5v5.5h-5.5zM1574.6 545.2h5.5v5.5h-5.5zM1574.6 549.8h5.5v5.5h-5.5zM1571.1 552.5h5.5v5.5h-5.5zM1580.3 553.2h5.5v5.5h-5.5zM1584.9 553.7h5.5v5.5h-5.5zM1594.1 550.9h5.5v5.5h-5.5zM1596.4 555.5h5.5v5.5h-5.5zM1619.4 552.1h5.5v5.5h-5.5zM1619.4 556.7h5.5v5.5h-5.5zM1629.8 557.8h5.5v5.5h-5.5zM1635.5 559.0h5.5v5.5h-5.5zM1571.1 559.0h5.5v5.5h-5.5zM1575.7 561.3h5.5v5.5h-5.5zM1587.2 561.3h5.5v5.5h-5.5zM1589.5 567.0h5.5v5.5h-5.5zM1603.3 557.8h5.5v5.5h-5.5zM1605.6 561.3h5.5v5.5h-5.5zM1607.9 564.7h5.5v5.5h-5.5zM1602.2 562.4h5.5v5.5h-5.5zM1619.4 563.6h5.5v5.5h-5.5zM1632.1 565.9h5.5v5.5h-5.5zM1634.4 569.3h5.5v5.5h-5.5zM1582.6 569.3h5.5v5.5h-5.5zM1580.3 571.6h5.5v5.5h-5.5zM1606.8 569.3h5.5v5.5h-5.5zM1621.7 570.5h5.5v5.5h-5.5zM1627.5 571.6h5.5v5.5h-5.5zM1639.0 571.6h5.5v5.5h-5.5zM1553.9 572.8h5.5v5.5h-5.5zM1561.9 574.4h5.5v5.5h-5.5zM1575.7 576.2h5.5v5.5h-5.5zM1590.7 579.7h5.5v5.5h-5.5zM1602.2 578.5h5.5v5.5h-5.5zM1607.9 576.2h5.5v5.5h-5.5zM1613.7 577.4h5.5v5.5h-5.5zM1622.9 576.2h5.5v5.5h-5.5zM1628.6 577.4h5.5v5.5h-5.5zM1633.2 573.9h5.5v5.5h-5.5zM1639.0 576.2h5.5v5.5h-5.5zM1645.8 576.2h5.5v5.5h-5.5zM1653.2 576.9h5.5v5.5h-5.5zM1659.6 573.2h5.5v5.5h-5.5zM1549.3 578.5h5.5v5.5h-5.5zM1557.3 584.3h5.5v5.5h-5.5zM1574.6 584.3h5.5v5.5h-5.5zM1588.4 583.1h5.5v5.5h-5.5zM1597.6 583.1h5.5v5.5h-5.5zM1604.5 583.1h5.5v5.5h-5.5zM1610.2 582.0h5.5v5.5h-5.5zM1617.1 583.1h5.5v5.5h-5.5zM1625.2 582.0h5.5v5.5h-5.5zM1632.1 582.0h5.5v5.5h-5.5zM1637.8 583.1h5.5v5.5h-5.5zM1643.5 584.3h5.5v5.5h-5.5zM1487.8 440.2h5.5v5.5h-5.5zM1517.1 441.4h5.5v5.5h-5.5zM1541.8 438.7h5.5v5.5h-5.5zM1511.9 453.1h5.5v5.5h-5.5zM1531.1 453.1h5.5v5.5h-5.5zM1496.5 456.2h5.5v5.5h-5.5zM1502.7 454.1h5.5v5.5h-5.5zM1490.7 464.0h5.5v5.5h-5.5zM1506.8 462.4h5.5v5.5h-5.5zM1510.9 466.5h5.5v5.5h-5.5zM1542.8 463.4h5.5v5.5h-5.5zM1496.1 472.2h5.5v5.5h-5.5zM1489.3 476.2h5.5v5.5h-5.5zM1490.3 480.5h5.5v5.5h-5.5zM1494.4 478.8h5.5v5.5h-5.5zM1503.7 476.8h5.5v5.5h-5.5zM1506.8 478.8h5.5v5.5h-5.5zM1519.7 475.3h5.5v5.5h-5.5zM1550.0 482.9h5.5v5.5h-5.5zM1485.2 490.2h5.5v5.5h-5.5zM1490.3 491.2h5.5v5.5h-5.5zM1501.6 489.1h5.5v5.5h-5.5zM1504.7 485.0h5.5v5.5h-5.5zM1519.1 486.0h5.5v5.5h-5.5zM1523.2 489.1h5.5v5.5h-5.5zM1485.2 498.4h5.5v5.5h-5.5zM1489.3 499.4h5.5v5.5h-5.5zM1494.4 497.4h5.5v5.5h-5.5zM1502.7 496.3h5.5v5.5h-5.5zM1508.8 494.3h5.5v5.5h-5.5zM1514.0 493.2h5.5v5.5h-5.5zM1518.1 496.3h5.5v5.5h-5.5zM1502.7 501.5h5.5v5.5h-5.5zM1507.8 500.4h5.5v5.5h-5.5zM1535.6 496.3h5.5v5.5h-5.5zM1537.6 501.5h5.5v5.5h-5.5zM1533.5 505.6h5.5v5.5h-5.5zM1541.8 501.5h5.5v5.5h-5.5zM1481.1 506.2h5.5v5.5h-5.5zM1497.5 506.6h5.5v5.5h-5.5zM1506.8 505.6h5.5v5.5h-5.5zM1511.9 504.6h5.5v5.5h-5.5zM1516.0 506.6h5.5v5.5h-5.5zM1509.9 510.7h5.5v5.5h-5.5zM1514.0 511.8h5.5v5.5h-5.5zM1518.1 512.8h5.5v5.5h-5.5zM1540.7 510.7h5.5v5.5h-5.5zM1488.3 514.2h5.5v5.5h-5.5zM1499.6 517.9h5.5v5.5h-5.5zM1506.8 519.0h5.5v5.5h-5.5zM1510.9 522.0h5.5v5.5h-5.5zM1519.1 517.9h5.5v5.5h-5.5zM1473.9 522.5h5.5v5.5h-5.5zM1541.8 517.9h5.5v5.5h-5.5zM1549.0 512.8h5.5v5.5h-5.5zM1664.8 509.8h5.5v5.5h-5.5zM1665.2 612.2h5.5v5.5h-5.5zM1659.2 587.2h5.5v5.5h-5.5z" fill="#231f20"/>
<path d="M1470.4 604.0L1470.4 603.0L1470.6 601.9L1470.8 600.9L1471.0 599.9L1471.4 598.8L1471.8 597.8L1472.3 596.8L1472.9 595.9L1473.6 594.9L1474.3 594.0L1475.1 593.1L1476.0 592.3L1476.9 591.5L1477.9 590.7L1478.9 590.0L1480.0 589.3L1481.2 588.7L1482.4 588.1L1483.6 587.6L1484.9 587.1L1486.2 586.6L1487.5 586.3L1488.9 585.9L1490.3 585.7L1491.7 585.5L1493.1 585.3L1494.6 585.2L1496.0 585.2L1502.9 587.7L1509.7 589.1L1516.6 590.3L1523.3 591.6L1530.0 592.8L1536.6 593.9L1543.0 595.1L1549.3 596.2L1555.4 597.3L1561.3 598.3L1567.1 599.4L1572.6 600.4L1577.8 601.3L1582.8 602.2L1587.6 603.0L1592.0 603.8L1596.2 604.6L1600.0 605.3L1603.5 605.9L1606.6 606.5L1609.5 607.0L1611.9 607.4L1614.0 607.8L1615.7 608.1L1617.1 608.4L1618.0 608.6L1618.6 608.7L1618.8 608.7L1618.8 608.7L1618.6 608.7L1618.0 608.8L1617.1 609.0L1615.7 609.2L1614.0 609.4L1611.9 609.8L1609.5 610.1L1606.6 610.6L1603.5 611.1L1600.0 611.6L1596.2 612.2L1592.0 612.8L1587.6 613.4L1582.8 614.1L1577.8 614.9L1572.6 615.6L1567.1 616.4L1561.3 617.2L1555.4 618.0L1549.3 618.8L1543.0 619.7L1536.6 620.5L1530.0 621.3L1523.3 622.0L1516.6 622.7L1509.7 623.4L1502.9 623.8L1496.0 622.9L1494.6 622.9L1493.1 622.8L1491.7 622.6L1490.3 622.4L1488.9 622.2L1487.5 621.8L1486.2 621.5L1484.9 621.0L1483.6 620.5L1482.4 620.0L1481.2 619.4L1480.0 618.8L1478.9 618.1L1477.9 617.4L1476.9 616.6L1476.0 615.8L1475.1 615.0L1474.3 614.1L1473.6 613.2L1472.9 612.2L1472.3 611.3L1471.8 610.3L1471.4 609.3L1471.0 608.2L1470.8 607.2L1470.6 606.2L1470.4 605.1L1470.4 604.0ZM1472.1 604.0L1472.2 602.3L1472.6 600.6L1473.2 599.0L1474.0 597.4L1475.0 595.8L1476.3 594.4L1477.8 593.0L1479.4 591.7L1481.2 590.6L1483.2 589.5L1485.3 588.7L1487.5 587.9L1489.8 587.4L1492.1 586.9L1494.6 586.7L1497.0 586.6L1505.5 588.9L1514.0 590.3L1522.3 591.6L1530.3 593.1L1538.1 594.5L1545.4 596.1L1552.3 597.6L1558.6 599.2L1564.4 600.7L1569.5 602.2L1573.8 603.5L1577.5 604.8L1580.4 606.0L1582.5 607.0L1583.7 607.8L1584.1 608.2L1584.1 608.2L1583.7 608.6L1582.5 609.3L1580.4 610.2L1577.5 611.3L1573.8 612.5L1569.5 613.7L1564.4 615.0L1558.6 616.3L1552.3 617.5L1545.4 618.8L1538.1 619.9L1530.3 621.0L1522.3 621.8L1514.0 622.5L1505.5 622.8L1497.0 621.5L1494.6 621.4L1492.1 621.2L1489.8 620.7L1487.5 620.2L1485.3 619.4L1483.2 618.6L1481.2 617.5L1479.4 616.4L1477.8 615.1L1476.3 613.7L1475.0 612.3L1474.0 610.7L1473.2 609.1L1472.6 607.5L1472.2 605.8L1472.1 604.0ZM1473.8 604.0L1473.9 602.5L1474.3 600.9L1474.8 599.4L1475.6 597.9L1476.7 596.5L1477.9 595.1L1479.3 593.9L1480.9 592.7L1482.6 591.6L1484.6 590.7L1486.6 589.9L1488.7 589.2L1491.0 588.7L1493.3 588.3L1495.6 588.1L1498.0 588.0L1504.5 590.1L1510.9 591.2L1517.3 592.4L1523.4 593.6L1529.3 594.9L1534.8 596.3L1540.1 597.7L1544.9 599.1L1549.3 600.5L1553.1 601.9L1556.5 603.2L1559.3 604.5L1561.5 605.6L1563.1 606.6L1564.0 607.4L1564.3 607.8L1564.3 607.8L1564.0 608.3L1563.1 609.0L1561.5 610.0L1559.3 611.0L1556.5 612.1L1553.1 613.3L1549.3 614.5L1544.9 615.7L1540.1 616.9L1534.8 618.0L1529.3 619.0L1523.4 619.9L1517.3 620.6L1510.9 621.2L1504.5 621.4L1498.0 620.1L1495.6 620.0L1493.3 619.8L1491.0 619.4L1488.7 618.9L1486.6 618.2L1484.6 617.4L1482.6 616.5L1480.9 615.4L1479.3 614.2L1477.9 613.0L1476.7 611.6L1475.6 610.2L1474.8 608.7L1474.3 607.2L1473.9 605.6L1473.8 604.0ZM1475.5 604.0L1475.6 602.6L1476.0 601.2L1476.5 599.8L1477.3 598.4L1478.3 597.1L1479.5 595.9L1480.8 594.8L1482.4 593.7L1484.1 592.7L1485.9 591.9L1487.9 591.1L1490.0 590.5L1492.2 590.0L1494.4 589.7L1496.7 589.5L1499.0 589.4L1504.6 591.3L1510.1 592.3L1515.4 593.3L1520.7 594.4L1525.7 595.6L1530.5 596.8L1534.9 598.0L1539.1 599.3L1542.8 600.6L1546.1 601.9L1549.0 603.1L1551.3 604.3L1553.2 605.4L1554.6 606.4L1555.4 607.2L1555.7 607.7L1555.7 607.7L1555.4 608.1L1554.6 608.9L1553.2 609.8L1551.3 610.8L1549.0 611.9L1546.1 613.0L1542.8 614.1L1539.1 615.2L1534.9 616.2L1530.5 617.2L1525.7 618.1L1520.7 618.9L1515.4 619.5L1510.1 619.9L1504.6 620.0L1499.0 618.7L1496.7 618.6L1494.4 618.4L1492.2 618.1L1490.0 617.6L1487.9 617.0L1485.9 616.2L1484.1 615.4L1482.4 614.4L1480.8 613.3L1479.5 612.2L1478.3 611.0L1477.3 609.7L1476.5 608.3L1476.0 606.9L1475.6 605.5L1475.5 604.0ZM1477.2 604.0L1477.3 602.8L1477.6 601.5L1478.2 600.2L1478.9 599.0L1479.9 597.8L1481.0 596.7L1482.4 595.6L1483.9 594.7L1485.5 593.8L1487.3 593.0L1489.3 592.4L1491.3 591.8L1493.4 591.4L1495.6 591.1L1497.8 590.9L1500.0 590.8L1504.7 592.5L1509.4 593.4L1514.0 594.3L1518.5 595.2L1522.7 596.3L1526.8 597.3L1530.6 598.4L1534.1 599.6L1537.3 600.8L1540.1 601.9L1542.5 603.1L1544.6 604.2L1546.2 605.2L1547.3 606.2L1548.0 607.0L1548.2 607.5L1548.2 607.5L1548.0 608.0L1547.3 608.8L1546.2 609.7L1544.6 610.6L1542.5 611.6L1540.1 612.6L1537.3 613.7L1534.1 614.6L1530.6 615.5L1526.8 616.4L1522.7 617.1L1518.5 617.8L1514.0 618.3L1509.4 618.6L1504.7 618.6L1500.0 617.3L1497.8 617.2L1495.6 617.0L1493.4 616.7L1491.3 616.3L1489.3 615.7L1487.3 615.1L1485.5 614.3L1483.9 613.4L1482.4 612.5L1481.0 611.4L1479.9 610.3L1478.9 609.1L1478.2 607.9L1477.6 606.6L1477.3 605.3L1477.2 604.0ZM1478.9 604.0L1479.0 602.9L1479.3 601.7L1479.9 600.6L1480.6 599.5L1481.5 598.5L1482.6 597.5L1483.9 596.5L1485.4 595.7L1487.0 594.9L1488.7 594.2L1490.6 593.6L1492.5 593.1L1494.6 592.7L1496.7 592.4L1498.8 592.3L1501.0 592.2L1504.9 593.8L1508.8 594.6L1512.6 595.3L1516.2 596.1L1519.8 597.0L1523.1 597.9L1526.3 598.9L1529.1 599.9L1531.8 601.0L1534.1 602.0L1536.1 603.1L1537.8 604.1L1539.1 605.0L1540.0 606.0L1540.6 606.7L1540.8 607.3L1540.8 607.3L1540.6 607.9L1540.0 608.6L1539.1 609.5L1537.8 610.4L1536.1 611.3L1534.1 612.2L1531.8 613.1L1529.1 614.0L1526.3 614.8L1523.1 615.5L1519.8 616.1L1516.2 616.6L1512.6 617.0L1508.8 617.2L1504.9 617.2L1501.0 615.9L1498.8 615.8L1496.7 615.7L1494.6 615.4L1492.5 615.0L1490.6 614.5L1488.7 613.9L1487.0 613.2L1485.4 612.4L1483.9 611.6L1482.6 610.6L1481.5 609.6L1480.6 608.6L1479.9 607.5L1479.3 606.4L1479.0 605.2L1478.9 604.0ZM1480.6 604.0L1480.7 603.0L1481.0 602.0L1481.5 601.0L1482.2 600.1L1483.1 599.1L1484.2 598.2L1485.5 597.4L1486.9 596.7L1488.4 596.0L1490.1 595.4L1491.9 594.8L1493.8 594.4L1495.8 594.0L1497.8 593.8L1499.9 593.7L1502.0 593.6L1505.1 595.1L1508.1 595.7L1511.1 596.4L1514.0 597.1L1516.8 597.8L1519.4 598.6L1521.9 599.4L1524.2 600.3L1526.3 601.2L1528.1 602.2L1529.7 603.1L1531.0 604.0L1532.0 604.9L1532.8 605.8L1533.2 606.5L1533.4 607.1L1533.4 607.1L1533.2 607.7L1532.8 608.4L1532.0 609.2L1531.0 610.1L1529.7 610.9L1528.1 611.7L1526.3 612.5L1524.2 613.2L1521.9 613.9L1519.4 614.5L1516.8 615.0L1514.0 615.4L1511.1 615.7L1508.1 615.8L1505.1 615.7L1502.0 614.5L1499.9 614.4L1497.8 614.3L1495.8 614.1L1493.8 613.7L1491.9 613.3L1490.1 612.7L1488.4 612.1L1486.9 611.4L1485.5 610.7L1484.2 609.9L1483.1 609.0L1482.2 608.0L1481.5 607.1L1481.0 606.1L1480.7 605.1L1480.6 604.0ZM1482.3 604.0L1482.4 603.2L1482.7 602.3L1483.2 601.4L1483.9 600.6L1484.7 599.8L1485.8 599.0L1487.0 598.3L1488.4 597.7L1489.9 597.1L1491.5 596.5L1493.2 596.1L1495.1 595.7L1497.0 595.4L1499.0 595.2L1501.0 595.0L1503.0 595.0L1505.4 596.4L1507.7 596.9L1510.0 597.5L1512.3 598.0L1514.4 598.7L1516.4 599.3L1518.3 600.0L1520.1 600.8L1521.7 601.6L1523.1 602.4L1524.3 603.2L1525.3 604.0L1526.1 604.8L1526.7 605.6L1527.1 606.3L1527.2 606.9L1527.2 606.9L1527.1 607.5L1526.7 608.2L1526.1 609.0L1525.3 609.7L1524.3 610.4L1523.1 611.1L1521.7 611.8L1520.1 612.4L1518.3 613.0L1516.4 613.5L1514.4 613.9L1512.3 614.2L1510.0 614.4L1507.7 614.4L1505.4 614.3L1503.0 613.1L1501.0 613.1L1499.0 612.9L1497.0 612.7L1495.1 612.4L1493.2 612.0L1491.5 611.6L1489.9 611.0L1488.4 610.4L1487.0 609.8L1485.8 609.1L1484.7 608.3L1483.9 607.5L1483.2 606.7L1482.7 605.8L1482.4 604.9L1482.3 604.0ZM1484.0 604.0L1484.1 603.3L1484.4 602.6L1484.9 601.8L1485.5 601.1L1486.4 600.4L1487.4 599.8L1488.5 599.2L1489.9 598.6L1491.3 598.1L1492.9 597.7L1494.6 597.3L1496.3 597.0L1498.2 596.7L1500.1 596.5L1502.0 596.4L1504.0 596.4L1505.8 597.7L1507.6 598.1L1509.3 598.6L1511.0 599.1L1512.6 599.6L1514.1 600.1L1515.6 600.7L1516.9 601.4L1518.1 602.0L1519.2 602.7L1520.1 603.4L1520.8 604.1L1521.5 604.8L1521.9 605.5L1522.1 606.2L1522.2 606.8L1522.2 606.8L1522.1 607.3L1521.9 608.0L1521.5 608.6L1520.8 609.3L1520.1 609.9L1519.2 610.5L1518.1 611.0L1516.9 611.5L1515.6 612.0L1514.1 612.4L1512.6 612.7L1511.0 612.9L1509.3 613.0L1507.6 613.0L1505.8 612.8L1504.0 611.7L1502.0 611.7L1500.1 611.6L1498.2 611.4L1496.3 611.1L1494.6 610.8L1492.9 610.4L1491.3 610.0L1489.9 609.5L1488.5 608.9L1487.4 608.3L1486.4 607.7L1485.5 607.0L1484.9 606.3L1484.4 605.5L1484.1 604.8L1484.0 604.0ZM1485.7 604.0L1485.8 603.4L1486.1 602.8L1486.5 602.2L1487.2 601.7L1488.0 601.1L1489.0 600.6L1490.1 600.1L1491.4 599.6L1492.8 599.2L1494.3 598.9L1495.9 598.5L1497.6 598.3L1499.4 598.1L1501.2 597.9L1503.1 597.8L1505.0 597.8L1506.2 599.0L1507.4 599.4L1508.6 599.7L1509.7 600.1L1510.8 600.6L1511.8 601.0L1512.8 601.5L1513.7 602.0L1514.5 602.5L1515.2 603.1L1515.8 603.6L1516.3 604.2L1516.8 604.8L1517.0 605.4L1517.2 606.0L1517.3 606.6L1517.3 606.6L1517.2 607.1L1517.0 607.7L1516.8 608.3L1516.3 608.8L1515.8 609.3L1515.2 609.8L1514.5 610.2L1513.7 610.6L1512.8 610.9L1511.8 611.2L1510.8 611.4L1509.7 611.6L1508.6 611.6L1507.4 611.6L1506.2 611.4L1505.0 610.3L1503.1 610.3L1501.2 610.2L1499.4 610.0L1497.6 609.8L1495.9 609.6L1494.3 609.2L1492.8 608.9L1491.4 608.5L1490.1 608.0L1489.0 607.5L1488.0 607.0L1487.2 606.4L1486.5 605.9L1486.1 605.3L1485.8 604.7L1485.7 604.0ZM1487.4 604.0L1487.5 603.6L1487.8 603.1L1488.2 602.6L1488.8 602.2L1489.6 601.8L1490.5 601.4L1491.6 601.0L1492.8 600.6L1494.2 600.3L1495.7 600.0L1497.2 599.8L1498.9 599.6L1500.6 599.4L1502.4 599.3L1504.2 599.2L1506.0 599.2L1506.7 600.3L1507.4 600.6L1508.0 600.9L1508.7 601.2L1509.3 601.6L1509.9 601.9L1510.4 602.3L1510.9 602.7L1511.4 603.1L1511.8 603.6L1512.1 604.0L1512.4 604.5L1512.7 604.9L1512.8 605.4L1512.9 605.9L1513.0 606.4L1513.0 606.4L1512.9 606.8L1512.8 607.3L1512.7 607.7L1512.4 608.1L1512.1 608.5L1511.8 608.9L1511.4 609.2L1510.9 609.5L1510.4 609.8L1509.9 609.9L1509.3 610.1L1508.7 610.2L1508.0 610.2L1507.4 610.1L1506.7 609.9L1506.0 608.9L1504.2 608.9L1502.4 608.8L1500.6 608.7L1498.9 608.5L1497.2 608.3L1495.7 608.1L1494.2 607.8L1492.8 607.5L1491.6 607.1L1490.5 606.7L1489.6 606.3L1488.8 605.9L1488.2 605.5L1487.8 605.0L1487.5 604.5L1487.4 604.0ZM1489.1 604.0L1489.2 603.7L1489.4 603.4L1489.7 603.0L1490.2 602.7L1490.8 602.4L1491.5 602.1L1492.4 601.9L1493.4 601.6L1494.4 601.4L1495.6 601.2L1496.8 601.0L1498.1 600.9L1499.4 600.7L1500.8 600.7L1502.2 600.6L1503.6 600.6L1504.1 601.5L1504.6 601.8L1505.1 602.1L1505.5 602.4L1506.0 602.6L1506.4 602.9L1506.8 603.2L1507.2 603.5L1507.5 603.8L1507.8 604.1L1508.0 604.4L1508.2 604.8L1508.4 605.1L1508.5 605.5L1508.6 605.8L1508.6 606.1L1508.6 606.1L1508.6 606.5L1508.5 606.8L1508.4 607.1L1508.2 607.4L1508.0 607.7L1507.8 607.9L1507.5 608.2L1507.2 608.3L1506.8 608.5L1506.4 608.6L1506.0 608.7L1505.5 608.7L1505.1 608.7L1504.6 608.6L1504.1 608.4L1503.6 607.5L1502.2 607.5L1500.8 607.4L1499.4 607.4L1498.1 607.2L1496.8 607.1L1495.6 606.9L1494.4 606.7L1493.4 606.5L1492.4 606.2L1491.5 606.0L1490.8 605.7L1490.2 605.4L1489.7 605.1L1489.4 604.7L1489.2 604.4L1489.1 604.0ZM1490.8 604.0L1490.8 603.8L1491.0 603.7L1491.2 603.5L1491.5 603.3L1491.9 603.1L1492.3 602.9L1492.9 602.7L1493.5 602.6L1494.1 602.5L1494.8 602.3L1495.6 602.2L1496.4 602.2L1497.3 602.1L1498.1 602.0L1499.0 602.0L1499.9 602.0L1500.4 602.8L1500.9 603.1L1501.4 603.3L1501.8 603.5L1502.3 603.7L1502.7 603.9L1503.1 604.0L1503.4 604.2L1503.8 604.4L1504.1 604.7L1504.3 604.9L1504.5 605.1L1504.7 605.3L1504.8 605.5L1504.9 605.7L1504.9 605.9L1504.9 605.9L1504.9 606.1L1504.8 606.3L1504.7 606.5L1504.5 606.6L1504.3 606.8L1504.1 606.9L1503.8 607.0L1503.4 607.1L1503.1 607.2L1502.7 607.3L1502.3 607.3L1501.8 607.3L1501.4 607.2L1500.9 607.1L1500.4 606.9L1499.9 606.1L1499.0 606.1L1498.1 606.1L1497.3 606.0L1496.4 605.9L1495.6 605.9L1494.8 605.8L1494.1 605.6L1493.5 605.5L1492.9 605.4L1492.3 605.2L1491.9 605.0L1491.5 604.8L1491.2 604.6L1491.0 604.4L1490.8 604.3L1490.8 604.0ZM1492.5 604.0L1492.5 603.9L1492.6 603.8L1492.7 603.6L1492.9 603.5L1493.1 603.3L1493.3 603.2L1493.6 603.1L1493.9 603.0L1494.3 602.9L1494.7 602.8L1495.1 602.7L1495.5 602.7L1496.0 602.6L1496.5 602.6L1496.9 602.6L1497.4 602.5L1497.9 603.3L1498.4 603.5L1498.9 603.7L1499.3 603.8L1499.8 604.0L1500.2 604.2L1500.6 604.3L1501.0 604.5L1501.3 604.6L1501.6 604.8L1501.8 604.9L1502.0 605.1L1502.2 605.2L1502.3 605.4L1502.4 605.6L1502.4 605.7L1502.4 605.7L1502.4 605.9L1502.3 606.0L1502.2 606.1L1502.0 606.2L1501.8 606.3L1501.6 606.4L1501.3 606.5L1501.0 606.6L1500.6 606.6L1500.2 606.6L1499.8 606.6L1499.3 606.6L1498.9 606.6L1498.4 606.5L1497.9 606.3L1497.4 605.5L1496.9 605.5L1496.5 605.5L1496.0 605.5L1495.5 605.4L1495.1 605.4L1494.7 605.3L1494.3 605.2L1493.9 605.1L1493.6 605.0L1493.3 604.9L1493.1 604.8L1492.9 604.6L1492.7 604.5L1492.6 604.3L1492.5 604.2L1492.5 604.0Z" fill="none" stroke="#262626" stroke-width="0.85"/>
<rect x="1548.8" y="387.4" width="129.3" height="204.5" fill="none" stroke="#d0232d" stroke-width="4.2"/>
<text class="red" transform="translate(1388.5 432.5) scale(1 1.04)" font-size="63.5">2.0</text>
</g>
<g id="plot5">
<rect x="1745.9" y="373.6" width="356.3" height="355.4" fill="#fff" stroke="#4a4a4a" stroke-width="1.3"/>
<path d="M1762.3 729.0v4.5M1800.1 729.0v4.5M1805.4 729.0v4.5M1811.1 729.0v4.5M1816.7 729.0v4.5M1830.2 729.0v4.5M1835.9 729.0v4.5M1843.4 729.0v4.5M1872.1 729.0v4.5M1879.1 729.0v4.5M1885.3 729.0v4.5M1898.6 729.0v4.5M1904.0 729.0v4.5M1910.2 729.0v4.5M1915.6 729.0v4.5M1953.2 729.0v4.5M1972.3 729.0v4.5M1985.0 729.0v4.5M2001.8 729.0v4.5M2007.6 729.0v4.5M2012.9 729.0v4.5M2017.3 729.0v4.5M2046.4 729.0v4.5M2060.3 729.0v4.5M2070.1 729.0v4.5M2082.2 729.0v4.5M2087.2 729.0v4.5M2091.8 729.0v4.5M2096.2 729.0v4.5" stroke="#111" stroke-width="1.6" fill="none"/>
<path d="M1795.8 729.0v8.5M1919.6 729.0v8.5M2021.1 729.0v8.5M2100.6 729.0v8.5" stroke="#111" stroke-width="3.2" fill="none"/>
<path d="M1823.6 729.0v7.5M1891.6 729.0v7.5M1994.3 729.0v7.5M2076.6 729.0v7.5" stroke="#111" stroke-width="2.2" fill="none"/>
<path d="M1745.9 374.8h-10M1745.9 447.3h-10M1745.9 536.0h-10M1745.9 706.8h-10" stroke="#111" stroke-width="3.0" fill="none"/>
<path d="M1745.9 377.5h-5M1745.9 380.3h-5M1745.9 383.6h-5M1745.9 387.4h-5M1745.9 401.9h-5M1745.9 410.9h-5M1745.9 425.0h-5M1745.9 450.2h-5M1745.9 453.4h-5M1745.9 456.8h-5M1745.9 460.7h-5M1745.9 464.8h-5M1745.9 478.0h-5M1745.9 488.0h-5M1745.9 505.5h-5M1745.9 539.7h-5M1745.9 544.0h-5M1745.9 549.0h-5M1745.9 553.6h-5M1745.9 559.3h-5M1745.9 576.3h-5M1745.9 587.2h-5M1745.9 598.6h-5M1745.9 645.6h-5M1745.9 655.8h-5M1745.9 665.9h-5M1745.9 683.7h-5M1745.9 690.0h-5M1745.9 695.6h-5M1745.9 700.7h-5" stroke="#111" stroke-width="1.5" fill="none"/>
<path d="M1745.9 394.5h-7.5M1745.9 470.3h-7.5M1745.9 567.7h-7.5M1745.9 674.8h-7.5" stroke="#111" stroke-width="2.0" fill="none"/>
<rect x="1848.8" y="729.0" width="17.6" height="5.5" fill="#111"/>
<path d="M1850.2 729.0v8.5M1857.1 729.0v9M1864.9 729.0v8.5" stroke="#111" stroke-width="3"/>
<rect x="1740.4" y="608.8" width="5.5" height="25.9" fill="#111"/>
<path d="M1745.9 610.2h-9.5M1745.9 618h-7M1745.9 625.5h-7M1745.9 633.2h-9.5" stroke="#111" stroke-width="3"/>
<path d="M1841.0 606.1L1841.0 605.2L1841.2 604.3L1841.3 603.5L1841.6 602.6L1841.9 601.8L1842.3 600.9L1842.8 600.1L1843.4 599.3L1844.0 598.5L1844.7 597.7L1845.4 597.0L1846.2 596.3L1847.1 595.6L1848.0 595.0L1849.0 594.4L1850.0 593.8L1851.1 593.3L1852.2 592.8L1853.4 592.4L1854.6 592.0L1855.8 591.6L1857.1 591.3L1858.4 591.0L1859.7 590.8L1861.0 590.6L1862.3 590.5L1863.7 590.4L1865.0 590.4L1870.6 591.8L1876.3 592.7L1881.9 593.7L1887.4 594.6L1892.9 595.5L1898.3 596.5L1903.5 597.4L1908.7 598.3L1913.7 599.2L1918.6 600.0L1923.3 600.9L1927.8 601.7L1932.1 602.5L1936.2 603.2L1940.1 603.9L1943.7 604.6L1947.1 605.2L1950.3 605.8L1953.1 606.3L1955.7 606.8L1958.0 607.3L1960.0 607.6L1961.8 608.0L1963.2 608.2L1964.3 608.4L1965.1 608.6L1965.5 608.7L1965.7 608.7L1965.7 608.7L1965.5 608.7L1965.1 608.8L1964.3 608.9L1963.2 609.1L1961.8 609.4L1960.0 609.6L1958.0 610.0L1955.7 610.4L1953.1 610.8L1950.3 611.3L1947.1 611.8L1943.7 612.3L1940.1 612.9L1936.2 613.5L1932.1 614.2L1927.8 614.8L1923.3 615.5L1918.6 616.2L1913.7 616.9L1908.7 617.7L1903.5 618.4L1898.3 619.1L1892.9 619.8L1887.4 620.4L1881.9 621.1L1876.3 621.6L1870.6 622.0L1865.0 621.8L1863.7 621.8L1862.3 621.7L1861.0 621.6L1859.7 621.4L1858.4 621.2L1857.1 620.9L1855.8 620.6L1854.6 620.2L1853.4 619.8L1852.2 619.4L1851.1 618.9L1850.0 618.4L1849.0 617.8L1848.0 617.2L1847.1 616.6L1846.2 615.9L1845.4 615.2L1844.7 614.5L1844.0 613.7L1843.4 612.9L1842.8 612.1L1842.3 611.3L1841.9 610.4L1841.6 609.6L1841.3 608.7L1841.2 607.9L1841.0 607.0L1841.0 606.1Z" fill="#231f20" stroke="#231f20" stroke-width="1.5" stroke-linejoin="round"/>
<path d="M1952.0 601.5L1958.5 601.8L1965.0 602.2L1971.5 602.6L1978.0 603.2L1984.5 603.8L1991.0 604.5L1997.5 605.2L2004.0 606.0L2010.5 606.8L2017.0 607.7L2017.0 613.3L2010.5 614.2L2004.0 615.0L1997.5 615.8L1991.0 616.5L1984.5 617.2L1978.0 617.8L1971.5 618.4L1965.0 618.8L1958.5 619.2L1952.0 619.5Z" fill="#231f20"/>
<path d="M1841.0 606.1L1841.0 605.2L1841.2 604.3L1841.3 603.5L1841.6 602.6L1841.9 601.8L1842.3 600.9L1842.8 600.1L1843.4 599.3L1844.0 598.5L1844.7 597.7L1845.4 597.0L1846.2 596.3L1847.1 595.6L1848.0 595.0L1849.0 594.4L1850.0 593.8L1851.1 593.3L1852.2 592.8L1853.4 592.4L1854.6 592.0L1855.8 591.6L1857.1 591.3L1858.4 591.0L1859.7 590.8L1861.0 590.6L1862.3 590.5L1863.7 590.4L1865.0 590.4L1870.6 591.8L1876.3 592.7L1881.9 593.7L1887.4 594.6L1892.9 595.5L1898.3 596.5L1903.5 597.4L1908.7 598.3L1913.7 599.2L1918.6 600.0L1923.3 600.9L1927.8 601.7L1932.1 602.5L1936.2 603.2L1940.1 603.9L1943.7 604.6L1947.1 605.2L1950.3 605.8L1953.1 606.3L1955.7 606.8L1958.0 607.3L1960.0 607.6L1961.8 608.0L1963.2 608.2L1964.3 608.4L1965.1 608.6L1965.5 608.7L1965.7 608.7L1965.7 608.7L1965.5 608.7L1965.1 608.8L1964.3 608.9L1963.2 609.1L1961.8 609.4L1960.0 609.6L1958.0 610.0L1955.7 610.4L1953.1 610.8L1950.3 611.3L1947.1 611.8L1943.7 612.3L1940.1 612.9L1936.2 613.5L1932.1 614.2L1927.8 614.8L1923.3 615.5L1918.6 616.2L1913.7 616.9L1908.7 617.7L1903.5 618.4L1898.3 619.1L1892.9 619.8L1887.4 620.4L1881.9 621.1L1876.3 621.6L1870.6 622.0L1865.0 621.8L1863.7 621.8L1862.3 621.7L1861.0 621.6L1859.7 621.4L1858.4 621.2L1857.1 620.9L1855.8 620.6L1854.6 620.2L1853.4 619.8L1852.2 619.4L1851.1 618.9L1850.0 618.4L1849.0 617.8L1848.0 617.2L1847.1 616.6L1846.2 615.9L1845.4 615.2L1844.7 614.5L1844.0 613.7L1843.4 612.9L1842.8 612.1L1842.3 611.3L1841.9 610.4L1841.6 609.6L1841.3 608.7L1841.2 607.9L1841.0 607.0L1841.0 606.1Z" fill="#fff"/>
<ellipse cx="1869" cy="606.6" rx="17" ry="11.0" fill="#9a9a9a"/>
<path d="M1896.2 593.1h5.5v5.5h-5.5zM1921.8 613.1h5.5v5.5h-5.5zM1855.2 620.3h5.5v5.5h-5.5zM1869.9 621.6h5.5v5.5h-5.5zM1953.0 603.6h5.5v5.5h-5.5zM1935.4 610.7h5.5v5.5h-5.5zM1952.0 602.7h5.5v5.5h-5.5zM1838.5 591.5h5.5v5.5h-5.5zM1849.9 585.3h5.5v5.5h-5.5zM1904.8 593.9h5.5v5.5h-5.5zM1852.8 587.5h5.5v5.5h-5.5zM1943.4 600.1h5.5v5.5h-5.5zM1900.4 592.9h5.5v5.5h-5.5zM1952.7 603.1h5.5v5.5h-5.5zM1905.3 617.1h5.5v5.5h-5.5zM1863.8 586.3h5.5v5.5h-5.5zM1932.1 613.0h5.5v5.5h-5.5zM1933.1 600.2h5.5v5.5h-5.5zM1883.7 587.3h5.5v5.5h-5.5zM1871.7 585.9h5.5v5.5h-5.5zM1880.9 590.6h5.5v5.5h-5.5zM1927.1 611.9h5.5v5.5h-5.5zM1915.2 613.8h5.5v5.5h-5.5zM1867.2 584.9h5.5v5.5h-5.5zM1883.2 588.9h5.5v5.5h-5.5zM1922.6 614.0h5.5v5.5h-5.5zM1841.0 593.8h5.5v5.5h-5.5zM1869.2 622.4h5.5v5.5h-5.5zM1900.2 590.8h5.5v5.5h-5.5zM1854.7 619.3h5.5v5.5h-5.5zM1913.7 595.7h5.5v5.5h-5.5zM1902.7 616.4h5.5v5.5h-5.5zM1835.4 606.4h5.5v5.5h-5.5zM1848.8 620.2h5.5v5.5h-5.5zM1894.2 617.7h5.5v5.5h-5.5zM1915.3 616.0h5.5v5.5h-5.5zM1873.1 587.2h5.5v5.5h-5.5zM1887.9 588.5h5.5v5.5h-5.5zM1928.9 596.5h5.5v5.5h-5.5zM1840.0 595.3h5.5v5.5h-5.5zM1891.0 592.0h5.5v5.5h-5.5zM1835.3 606.5h5.5v5.5h-5.5zM1916.2 596.8h5.5v5.5h-5.5zM1892.6 619.4h5.5v5.5h-5.5zM1868.3 585.5h5.5v5.5h-5.5zM1862.7 584.9h5.5v5.5h-5.5zM1952.7 608.7h5.5v5.5h-5.5zM1855.0 586.9h5.5v5.5h-5.5zM1835.6 612.3h5.5v5.5h-5.5zM1844.2 617.5h5.5v5.5h-5.5zM1895.2 590.6h5.5v5.5h-5.5zM1892.1 618.4h5.5v5.5h-5.5zM1843.6 616.8h5.5v5.5h-5.5zM1913.1 595.6h5.5v5.5h-5.5zM1852.2 619.6h5.5v5.5h-5.5zM1858.1 586.1h5.5v5.5h-5.5zM1862.8 587.2h5.5v5.5h-5.5zM1872.4 620.7h5.5v5.5h-5.5zM1883.1 618.9h5.5v5.5h-5.5zM1893.2 592.9h5.5v5.5h-5.5zM1880.8 587.6h5.5v5.5h-5.5zM1837.1 612.8h5.5v5.5h-5.5zM1928.9 599.2h5.5v5.5h-5.5zM1898.1 616.9h5.5v5.5h-5.5zM1857.4 587.4h5.5v5.5h-5.5zM1937.0 598.8h5.5v5.5h-5.5zM1847.3 616.6h5.5v5.5h-5.5zM1909.7 595.7h5.5v5.5h-5.5zM1883.2 588.5h5.5v5.5h-5.5zM1865.6 621.0h5.5v5.5h-5.5zM1835.6 612.6h5.5v5.5h-5.5zM1935.8 600.4h5.5v5.5h-5.5zM1858.9 586.3h5.5v5.5h-5.5zM1860.0 583.7h5.5v5.5h-5.5zM1910.2 592.6h5.5v5.5h-5.5zM1918.3 595.0h5.5v5.5h-5.5zM1959.6 606.8h5.5v5.5h-5.5zM1909.3 592.8h5.5v5.5h-5.5zM1845.0 588.7h5.5v5.5h-5.5zM1910.4 614.9h5.5v5.5h-5.5zM1834.1 599.8h5.5v5.5h-5.5zM1871.6 585.4h5.5v5.5h-5.5zM1856.6 585.4h5.5v5.5h-5.5zM1837.3 602.8h5.5v5.5h-5.5zM1928.2 613.7h5.5v5.5h-5.5zM1841.2 591.2h5.5v5.5h-5.5zM1857.8 586.0h5.5v5.5h-5.5zM1843.8 618.2h5.5v5.5h-5.5zM1891.7 588.7h5.5v5.5h-5.5zM1861.9 583.6h5.5v5.5h-5.5zM1877.2 590.3h5.5v5.5h-5.5zM1835.1 607.7h5.5v5.5h-5.5zM1910.5 593.7h5.5v5.5h-5.5zM1867.5 621.7h5.5v5.5h-5.5zM1871.9 619.8h5.5v5.5h-5.5zM1895.8 591.4h5.5v5.5h-5.5zM1862.1 622.0h5.5v5.5h-5.5zM1850.3 618.6h5.5v5.5h-5.5zM1846.9 618.8h5.5v5.5h-5.5zM1924.5 597.1h5.5v5.5h-5.5zM1962.5 606.7h5.5v5.5h-5.5zM1842.1 592.1h5.5v5.5h-5.5zM1913.7 594.8h5.5v5.5h-5.5zM1839.4 597.0h5.5v5.5h-5.5zM1926.0 596.5h5.5v5.5h-5.5zM1870.1 621.3h5.5v5.5h-5.5zM1916.1 593.8h5.5v5.5h-5.5zM1859.5 584.2h5.5v5.5h-5.5zM1835.4 599.2h5.5v5.5h-5.5zM1916.4 596.2h5.5v5.5h-5.5zM1849.5 586.9h5.5v5.5h-5.5zM1914.0 595.0h5.5v5.5h-5.5zM1897.7 593.6h5.5v5.5h-5.5zM1882.3 587.8h5.5v5.5h-5.5zM1892.7 618.5h5.5v5.5h-5.5zM1902.9 616.6h5.5v5.5h-5.5zM1833.8 602.6h5.5v5.5h-5.5zM1927.2 596.3h5.5v5.5h-5.5zM1840.0 594.2h5.5v5.5h-5.5zM1845.1 590.0h5.5v5.5h-5.5zM1933.7 599.0h5.5v5.5h-5.5zM1895.0 592.8h5.5v5.5h-5.5zM1836.4 599.6h5.5v5.5h-5.5zM1841.5 615.8h5.5v5.5h-5.5zM1919.8 596.3h5.5v5.5h-5.5zM1906.6 593.8h5.5v5.5h-5.5zM1862.5 586.9h5.5v5.5h-5.5zM1838.2 597.3h5.5v5.5h-5.5zM1877.4 621.0h5.5v5.5h-5.5zM1890.1 590.2h5.5v5.5h-5.5zM1916.4 594.4h5.5v5.5h-5.5zM1929.7 599.5h5.5v5.5h-5.5zM1930.5 599.3h5.5v5.5h-5.5zM1914.3 593.6h5.5v5.5h-5.5zM1848.0 619.9h5.5v5.5h-5.5zM1875.4 587.8h5.5v5.5h-5.5zM1860.0 586.1h5.5v5.5h-5.5zM1850.7 619.4h5.5v5.5h-5.5zM1913.1 614.1h5.5v5.5h-5.5zM1844.3 619.3h5.5v5.5h-5.5zM1930.8 599.2h5.5v5.5h-5.5zM1866.5 585.8h5.5v5.5h-5.5zM1929.3 598.3h5.5v5.5h-5.5zM1844.7 619.0h5.5v5.5h-5.5zM1946.8 600.3h5.5v5.5h-5.5zM1837.8 597.7h5.5v5.5h-5.5zM1886.8 618.0h5.5v5.5h-5.5zM1849.7 619.7h5.5v5.5h-5.5zM1890.4 590.6h5.5v5.5h-5.5zM1835.1 607.0h5.5v5.5h-5.5zM1834.6 610.6h5.5v5.5h-5.5zM1881.8 618.6h5.5v5.5h-5.5zM1920.1 595.7h5.5v5.5h-5.5zM1868.5 622.1h5.5v5.5h-5.5zM1852.6 584.5h5.5v5.5h-5.5zM1958.7 606.8h5.5v5.5h-5.5zM1896.0 617.3h5.5v5.5h-5.5zM1886.0 619.8h5.5v5.5h-5.5zM1845.2 614.9h5.5v5.5h-5.5zM1913.0 614.7h5.5v5.5h-5.5zM1957.7 617.2h5.5v5.5h-5.5zM1960.4 604.6h5.5v5.5h-5.5zM1963.1 608.0h5.5v5.5h-5.5zM1985.5 615.9h5.5v5.5h-5.5zM1949.7 619.4h5.5v5.5h-5.5zM1986.8 614.2h5.5v5.5h-5.5zM1953.4 598.8h5.5v5.5h-5.5zM1989.0 598.0h5.5v5.5h-5.5zM1993.3 615.0h5.5v5.5h-5.5zM1979.7 604.9h5.5v5.5h-5.5zM1964.9 610.2h5.5v5.5h-5.5zM1989.6 611.5h5.5v5.5h-5.5zM1981.5 614.4h5.5v5.5h-5.5zM2001.6 614.3h5.5v5.5h-5.5zM1978.6 605.7h5.5v5.5h-5.5zM1978.0 604.3h5.5v5.5h-5.5zM2006.6 601.3h5.5v5.5h-5.5zM1963.4 604.3h5.5v5.5h-5.5zM1949.5 613.2h5.5v5.5h-5.5zM2000.2 603.3h5.5v5.5h-5.5zM1982.6 600.5h5.5v5.5h-5.5zM1969.8 611.5h5.5v5.5h-5.5zM1984.1 607.6h5.5v5.5h-5.5zM1973.3 616.9h5.5v5.5h-5.5zM2017.6 613.0h5.5v5.5h-5.5zM1950.9 613.0h5.5v5.5h-5.5zM1964.5 611.2h5.5v5.5h-5.5zM1948.2 619.4h5.5v5.5h-5.5zM1999.7 602.0h5.5v5.5h-5.5zM1969.8 605.5h5.5v5.5h-5.5zM1954.7 597.8h5.5v5.5h-5.5zM1978.3 606.3h5.5v5.5h-5.5zM2011.7 605.0h5.5v5.5h-5.5zM1950.4 620.6h5.5v5.5h-5.5zM2003.8 607.8h5.5v5.5h-5.5zM1975.6 598.8h5.5v5.5h-5.5zM1995.6 610.8h5.5v5.5h-5.5zM2011.3 604.2h5.5v5.5h-5.5zM1984.1 607.1h5.5v5.5h-5.5zM2013.1 608.0h5.5v5.5h-5.5zM1956.2 614.0h5.5v5.5h-5.5zM2017.2 607.6h5.5v5.5h-5.5zM1948.7 621.2h5.5v5.5h-5.5zM1990.5 604.5h5.5v5.5h-5.5zM1963.7 614.9h5.5v5.5h-5.5zM2011.1 600.3h5.5v5.5h-5.5zM1966.7 611.9h5.5v5.5h-5.5zM1981.3 610.8h5.5v5.5h-5.5zM2003.1 613.9h5.5v5.5h-5.5zM1992.5 610.7h5.5v5.5h-5.5zM1980.9 612.8h5.5v5.5h-5.5zM1987.0 617.8h5.5v5.5h-5.5zM1976.6 608.5h5.5v5.5h-5.5zM1948.9 613.2h5.5v5.5h-5.5zM1982.9 602.1h5.5v5.5h-5.5zM1950.6 608.9h5.5v5.5h-5.5zM1951.9 596.5h5.5v5.5h-5.5zM1975.0 618.2h5.5v5.5h-5.5zM2002.9 607.3h5.5v5.5h-5.5zM1985.5 601.4h5.5v5.5h-5.5zM1974.3 610.2h5.5v5.5h-5.5zM1970.1 604.7h5.5v5.5h-5.5zM1953.6 596.3h5.5v5.5h-5.5zM1951.4 601.1h5.5v5.5h-5.5zM1997.0 609.6h5.5v5.5h-5.5zM1985.5 609.5h5.5v5.5h-5.5zM2009.7 607.3h5.5v5.5h-5.5zM1949.7 598.9h5.5v5.5h-5.5zM2008.7 614.8h5.5v5.5h-5.5zM2007.7 609.3h5.5v5.5h-5.5zM1969.0 601.6h5.5v5.5h-5.5zM2011.2 613.4h5.5v5.5h-5.5zM1968.6 596.0h5.5v5.5h-5.5zM2005.2 607.6h5.5v5.5h-5.5zM2016.2 604.2h5.5v5.5h-5.5zM1998.7 610.9h5.5v5.5h-5.5zM1955.2 615.1h5.5v5.5h-5.5zM1973.9 615.7h5.5v5.5h-5.5zM1991.3 602.8h5.5v5.5h-5.5zM1963.1 601.5h5.5v5.5h-5.5zM1999.7 600.6h5.5v5.5h-5.5zM1996.2 601.7h5.5v5.5h-5.5zM2007.5 609.5h5.5v5.5h-5.5zM1964.2 608.6h5.5v5.5h-5.5zM1973.9 614.2h5.5v5.5h-5.5zM1950.1 616.6h5.5v5.5h-5.5zM1973.6 603.6h5.5v5.5h-5.5zM1950.0 594.4h5.5v5.5h-5.5zM1981.5 597.4h5.5v5.5h-5.5zM1998.1 616.0h5.5v5.5h-5.5zM1992.8 605.9h5.5v5.5h-5.5zM1951.6 618.8h5.5v5.5h-5.5zM2002.0 607.0h5.5v5.5h-5.5zM1964.0 596.9h5.5v5.5h-5.5zM1978.6 608.4h5.5v5.5h-5.5zM1972.3 616.2h5.5v5.5h-5.5zM1994.7 599.4h5.5v5.5h-5.5zM1965.1 596.5h5.5v5.5h-5.5zM1968.0 611.9h5.5v5.5h-5.5zM2005.3 605.2h5.5v5.5h-5.5zM2005.0 613.0h5.5v5.5h-5.5zM1998.4 601.6h5.5v5.5h-5.5zM1996.6 616.7h5.5v5.5h-5.5zM1962.0 611.3h5.5v5.5h-5.5zM1961.3 602.7h5.5v5.5h-5.5zM1990.3 605.3h5.5v5.5h-5.5zM1958.9 612.9h5.5v5.5h-5.5zM2004.1 615.4h5.5v5.5h-5.5zM2000.8 601.6h5.5v5.5h-5.5zM2001.4 598.8h5.5v5.5h-5.5zM1961.8 609.8h5.5v5.5h-5.5zM2000.3 614.6h5.5v5.5h-5.5zM2005.5 614.0h5.5v5.5h-5.5zM1985.0 607.3h5.5v5.5h-5.5zM1950.8 601.9h5.5v5.5h-5.5zM1966.3 609.6h5.5v5.5h-5.5zM2002.0 615.9h5.5v5.5h-5.5zM2005.3 610.7h5.5v5.5h-5.5zM2012.3 606.9h5.5v5.5h-5.5zM1992.7 617.1h5.5v5.5h-5.5zM2009.5 602.7h5.5v5.5h-5.5zM1997.7 599.8h5.5v5.5h-5.5zM1982.1 609.7h5.5v5.5h-5.5zM1998.3 612.8h5.5v5.5h-5.5zM2006.3 607.6h5.5v5.5h-5.5zM1974.7 614.9h5.5v5.5h-5.5zM2014.2 603.5h5.5v5.5h-5.5zM1951.9 612.1h5.5v5.5h-5.5zM1998.2 604.1h5.5v5.5h-5.5zM1994.2 601.5h5.5v5.5h-5.5zM2015.1 613.5h5.5v5.5h-5.5zM1957.3 595.9h5.5v5.5h-5.5zM1983.3 604.5h5.5v5.5h-5.5zM1955.5 600.0h5.5v5.5h-5.5zM1991.5 612.1h5.5v5.5h-5.5zM1978.0 606.0h5.5v5.5h-5.5zM1955.0 597.6h5.5v5.5h-5.5zM1995.3 616.3h5.5v5.5h-5.5zM1982.7 599.4h5.5v5.5h-5.5zM1977.1 598.1h5.5v5.5h-5.5zM1979.8 607.8h5.5v5.5h-5.5zM1971.8 601.3h5.5v5.5h-5.5zM1971.0 603.8h5.5v5.5h-5.5zM1954.1 618.6h5.5v5.5h-5.5zM2003.2 604.4h5.5v5.5h-5.5zM1992.6 614.7h5.5v5.5h-5.5zM1983.6 607.2h5.5v5.5h-5.5zM1983.0 609.4h5.5v5.5h-5.5zM1960.8 612.7h5.5v5.5h-5.5zM1975.9 616.8h5.5v5.5h-5.5zM1988.5 615.2h5.5v5.5h-5.5zM1961.6 596.4h5.5v5.5h-5.5zM2004.5 615.4h5.5v5.5h-5.5zM2016.5 604.0h5.5v5.5h-5.5zM2017.6 610.2h5.5v5.5h-5.5zM1999.2 615.9h5.5v5.5h-5.5zM2012.4 612.4h5.5v5.5h-5.5zM1959.4 603.3h5.5v5.5h-5.5zM1949.9 614.6h5.5v5.5h-5.5zM2013.2 607.1h5.5v5.5h-5.5zM1986.1 601.1h5.5v5.5h-5.5zM1978.0 617.6h5.5v5.5h-5.5zM1970.7 613.0h5.5v5.5h-5.5zM1988.5 608.5h5.5v5.5h-5.5zM2010.5 602.5h5.5v5.5h-5.5zM1993.2 600.7h5.5v5.5h-5.5zM1963.5 603.3h5.5v5.5h-5.5zM2005.2 601.6h5.5v5.5h-5.5zM1965.4 615.7h5.5v5.5h-5.5zM1972.6 616.3h5.5v5.5h-5.5zM2006.4 606.0h5.5v5.5h-5.5zM1978.0 600.8h5.5v5.5h-5.5zM2015.5 602.7h5.5v5.5h-5.5zM2014.4 602.8h5.5v5.5h-5.5zM1977.6 602.1h5.5v5.5h-5.5zM1993.6 616.0h5.5v5.5h-5.5zM1991.1 616.4h5.5v5.5h-5.5zM1959.0 599.6h5.5v5.5h-5.5zM1949.0 601.6h5.5v5.5h-5.5zM2004.3 601.2h5.5v5.5h-5.5zM1973.3 601.0h5.5v5.5h-5.5zM1994.9 602.2h5.5v5.5h-5.5zM1971.5 606.6h5.5v5.5h-5.5zM1965.0 619.1h5.5v5.5h-5.5zM1947.4 598.9h5.5v5.5h-5.5zM1970.0 616.7h5.5v5.5h-5.5zM1964.7 595.3h5.5v5.5h-5.5zM1991.7 606.1h5.5v5.5h-5.5zM1986.5 614.7h5.5v5.5h-5.5zM1993.5 602.1h5.5v5.5h-5.5zM1898.5 580.0h5.5v5.5h-5.5zM1875.5 590.0h5.5v5.5h-5.5zM1842.2 580.4h5.5v5.5h-5.5zM1866.1 584.6h5.5v5.5h-5.5zM1895.7 575.4h5.5v5.5h-5.5zM1894.9 588.8h5.5v5.5h-5.5zM1850.4 586.9h5.5v5.5h-5.5zM1879.6 584.5h5.5v5.5h-5.5zM1863.7 582.8h5.5v5.5h-5.5zM1891.8 578.4h5.5v5.5h-5.5zM1902.6 577.7h5.5v5.5h-5.5zM1839.4 575.4h5.5v5.5h-5.5zM1894.4 581.5h5.5v5.5h-5.5zM1903.0 585.0h5.5v5.5h-5.5zM1876.6 577.7h5.5v5.5h-5.5zM1862.1 577.3h5.5v5.5h-5.5zM1839.5 581.5h5.5v5.5h-5.5zM1847.4 583.3h5.5v5.5h-5.5zM1852.9 586.0h5.5v5.5h-5.5zM1910.0 584.5h5.5v5.5h-5.5zM1908.2 578.2h5.5v5.5h-5.5zM1877.1 584.6h5.5v5.5h-5.5zM1839.6 586.3h5.5v5.5h-5.5zM1877.7 589.8h5.5v5.5h-5.5zM1877.7 585.8h5.5v5.5h-5.5zM1911.0 586.2h5.5v5.5h-5.5zM1888.5 587.8h5.5v5.5h-5.5zM1854.0 575.4h5.5v5.5h-5.5zM1873.2 588.7h5.5v5.5h-5.5zM1848.0 580.0h5.5v5.5h-5.5zM1839.3 584.2h5.5v5.5h-5.5zM1909.9 584.1h5.5v5.5h-5.5zM1860.0 578.5h5.5v5.5h-5.5zM1913.1 581.7h5.5v5.5h-5.5zM1902.8 588.4h5.5v5.5h-5.5zM1871.9 578.3h5.5v5.5h-5.5zM1890.4 578.0h5.5v5.5h-5.5zM1869.0 582.9h5.5v5.5h-5.5zM1849.9 575.4h5.5v5.5h-5.5zM1877.6 581.6h5.5v5.5h-5.5zM1903.8 577.7h5.5v5.5h-5.5zM1859.8 577.9h5.5v5.5h-5.5zM1880.0 578.7h5.5v5.5h-5.5zM1887.0 585.9h5.5v5.5h-5.5zM1888.1 587.0h5.5v5.5h-5.5zM1964.2 590.7h5.5v5.5h-5.5zM1971.4 593.4h5.5v5.5h-5.5zM1971.9 586.6h5.5v5.5h-5.5zM1921.6 588.3h5.5v5.5h-5.5zM1959.4 594.3h5.5v5.5h-5.5zM1963.4 589.5h5.5v5.5h-5.5zM1936.1 588.4h5.5v5.5h-5.5zM1980.7 591.2h5.5v5.5h-5.5zM1998.0 588.4h5.5v5.5h-5.5zM1953.6 590.2h5.5v5.5h-5.5zM1940.4 591.7h5.5v5.5h-5.5zM1974.1 585.7h5.5v5.5h-5.5zM1982.8 586.1h5.5v5.5h-5.5zM1936.9 583.6h5.5v5.5h-5.5zM1962.6 583.6h5.5v5.5h-5.5zM1992.7 591.1h5.5v5.5h-5.5zM1968.3 594.1h5.5v5.5h-5.5zM1938.0 583.6h5.5v5.5h-5.5zM1988.2 591.7h5.5v5.5h-5.5zM1923.7 586.3h5.5v5.5h-5.5zM1966.5 589.9h5.5v5.5h-5.5zM1963.9 583.9h5.5v5.5h-5.5zM1926.2 584.5h5.5v5.5h-5.5zM1997.7 586.3h5.5v5.5h-5.5zM1925.2 591.2h5.5v5.5h-5.5zM1959.0 423.5h5.5v5.5h-5.5zM1977.1 459.3h5.5v5.5h-5.5zM1975.7 469.6h5.5v5.5h-5.5zM1934.0 471.0h5.5v5.5h-5.5zM1998.0 471.0h5.5v5.5h-5.5zM1986.8 474.9h5.5v5.5h-5.5zM1996.6 486.3h5.5v5.5h-5.5zM1939.5 488.8h5.5v5.5h-5.5zM1959.0 503.0h5.5v5.5h-5.5zM1966.0 501.6h5.5v5.5h-5.5zM1928.4 506.9h5.5v5.5h-5.5zM1966.0 510.0h5.5v5.5h-5.5zM1957.6 518.3h5.5v5.5h-5.5zM2006.3 537.8h5.5v5.5h-5.5zM2021.6 537.8h5.5v5.5h-5.5zM1963.2 540.9h5.5v5.5h-5.5zM1995.2 543.7h5.5v5.5h-5.5zM1978.5 548.1h5.5v5.5h-5.5zM1996.6 549.5h5.5v5.5h-5.5zM1996.6 552.3h5.5v5.5h-5.5zM1956.2 556.5h5.5v5.5h-5.5zM1927.0 557.8h5.5v5.5h-5.5zM2014.7 560.3h5.5v5.5h-5.5zM1934.0 563.1h5.5v5.5h-5.5zM1943.7 561.7h5.5v5.5h-5.5zM1959.0 564.5h5.5v5.5h-5.5zM2004.9 570.4h5.5v5.5h-5.5zM1936.8 571.8h5.5v5.5h-5.5zM1942.3 573.7h5.5v5.5h-5.5zM1971.5 573.1h5.5v5.5h-5.5zM1954.8 575.9h5.5v5.5h-5.5zM1963.2 576.8h5.5v5.5h-5.5zM1979.9 576.8h5.5v5.5h-5.5zM1924.2 578.7h5.5v5.5h-5.5zM1922.8 581.5h5.5v5.5h-5.5zM1932.6 582.9h5.5v5.5h-5.5zM1946.5 582.9h5.5v5.5h-5.5zM1954.8 582.9h5.5v5.5h-5.5zM1975.7 583.4h5.5v5.5h-5.5zM2011.9 586.2h5.5v5.5h-5.5zM1856.0 445.7h5.5v5.5h-5.5zM1861.6 465.3h5.5v5.5h-5.5zM1861.6 477.6h5.5v5.5h-5.5zM1908.8 476.6h5.5v5.5h-5.5zM1860.1 493.4h5.5v5.5h-5.5zM1889.3 493.4h5.5v5.5h-5.5zM1873.9 500.2h5.5v5.5h-5.5zM1897.7 508.8h5.5v5.5h-5.5zM1866.9 512.9h5.5v5.5h-5.5zM1851.5 525.3h5.5v5.5h-5.5zM1857.5 531.0h5.5v5.5h-5.5zM1873.9 529.4h5.5v5.5h-5.5zM1893.4 529.4h5.5v5.5h-5.5zM1888.9 534.1h5.5v5.5h-5.5zM1860.1 540.7h5.5v5.5h-5.5zM1883.8 539.2h5.5v5.5h-5.5zM1886.8 543.7h5.5v5.5h-5.5zM1876.6 544.8h5.5v5.5h-5.5zM1904.7 542.3h5.5v5.5h-5.5zM1862.2 547.4h5.5v5.5h-5.5zM1865.3 550.5h5.5v5.5h-5.5zM1870.8 552.0h5.5v5.5h-5.5zM1856.0 557.7h5.5v5.5h-5.5zM1876.6 558.7h5.5v5.5h-5.5zM1913.5 554.6h5.5v5.5h-5.5zM1893.4 562.9h5.5v5.5h-5.5zM1899.2 561.8h5.5v5.5h-5.5zM1906.4 560.8h5.5v5.5h-5.5zM1888.9 568.0h5.5v5.5h-5.5zM1847.8 569.0h5.5v5.5h-5.5zM1840.6 572.1h5.5v5.5h-5.5zM1858.1 565.9h5.5v5.5h-5.5zM1854.0 571.1h5.5v5.5h-5.5zM1877.6 569.0h5.5v5.5h-5.5zM1869.8 571.1h5.5v5.5h-5.5zM1867.3 576.2h5.5v5.5h-5.5zM1855.0 579.3h5.5v5.5h-5.5zM1880.7 579.3h5.5v5.5h-5.5zM1897.7 575.2h5.5v5.5h-5.5zM1900.6 578.7h5.5v5.5h-5.5zM1905.3 581.3h5.5v5.5h-5.5zM1890.9 583.4h5.5v5.5h-5.5zM1837.5 585.5h5.5v5.5h-5.5zM1847.8 585.0h5.5v5.5h-5.5zM1831.4 591.6h5.5v5.5h-5.5zM2020.7 606.5h5.5v5.5h-5.5zM2023.2 613.9h5.5v5.5h-5.5z" fill="#231f20"/>
<path d="M1841.0 606.1L1841.0 605.2L1841.2 604.3L1841.3 603.5L1841.6 602.6L1841.9 601.8L1842.3 600.9L1842.8 600.1L1843.4 599.3L1844.0 598.5L1844.7 597.7L1845.4 597.0L1846.2 596.3L1847.1 595.6L1848.0 595.0L1849.0 594.4L1850.0 593.8L1851.1 593.3L1852.2 592.8L1853.4 592.4L1854.6 592.0L1855.8 591.6L1857.1 591.3L1858.4 591.0L1859.7 590.8L1861.0 590.6L1862.3 590.5L1863.7 590.4L1865.0 590.4L1870.6 591.8L1876.3 592.7L1881.9 593.7L1887.4 594.6L1892.9 595.5L1898.3 596.5L1903.5 597.4L1908.7 598.3L1913.7 599.2L1918.6 600.0L1923.3 600.9L1927.8 601.7L1932.1 602.5L1936.2 603.2L1940.1 603.9L1943.7 604.6L1947.1 605.2L1950.3 605.8L1953.1 606.3L1955.7 606.8L1958.0 607.3L1960.0 607.6L1961.8 608.0L1963.2 608.2L1964.3 608.4L1965.1 608.6L1965.5 608.7L1965.7 608.7L1965.7 608.7L1965.5 608.7L1965.1 608.8L1964.3 608.9L1963.2 609.1L1961.8 609.4L1960.0 609.6L1958.0 610.0L1955.7 610.4L1953.1 610.8L1950.3 611.3L1947.1 611.8L1943.7 612.3L1940.1 612.9L1936.2 613.5L1932.1 614.2L1927.8 614.8L1923.3 615.5L1918.6 616.2L1913.7 616.9L1908.7 617.7L1903.5 618.4L1898.3 619.1L1892.9 619.8L1887.4 620.4L1881.9 621.1L1876.3 621.6L1870.6 622.0L1865.0 621.8L1863.7 621.8L1862.3 621.7L1861.0 621.6L1859.7 621.4L1858.4 621.2L1857.1 620.9L1855.8 620.6L1854.6 620.2L1853.4 619.8L1852.2 619.4L1851.1 618.9L1850.0 618.4L1849.0 617.8L1848.0 617.2L1847.1 616.6L1846.2 615.9L1845.4 615.2L1844.7 614.5L1844.0 613.7L1843.4 612.9L1842.8 612.1L1842.3 611.3L1841.9 610.4L1841.6 609.6L1841.3 608.7L1841.2 607.9L1841.0 607.0L1841.0 606.1ZM1842.7 606.1L1842.8 604.7L1843.1 603.3L1843.7 601.9L1844.5 600.6L1845.5 599.4L1846.6 598.2L1848.0 597.0L1849.5 596.0L1851.2 595.0L1853.1 594.2L1855.0 593.5L1857.1 592.9L1859.2 592.4L1861.5 592.1L1863.7 591.9L1866.0 591.8L1873.0 593.1L1879.9 594.0L1886.8 595.0L1893.4 596.1L1899.7 597.2L1905.7 598.4L1911.4 599.7L1916.6 600.9L1921.3 602.2L1925.5 603.4L1929.1 604.5L1932.1 605.6L1934.4 606.6L1936.1 607.4L1937.2 608.0L1937.5 608.4L1937.5 608.4L1937.2 608.7L1936.1 609.3L1934.4 610.1L1932.1 611.0L1929.1 612.0L1925.5 613.1L1921.3 614.1L1916.6 615.2L1911.4 616.3L1905.7 617.4L1899.7 618.3L1893.4 619.2L1886.8 620.0L1879.9 620.6L1873.0 620.9L1866.0 620.4L1863.7 620.3L1861.5 620.1L1859.2 619.8L1857.1 619.3L1855.0 618.7L1853.1 618.0L1851.2 617.2L1849.5 616.2L1848.0 615.2L1846.6 614.0L1845.5 612.8L1844.5 611.6L1843.7 610.3L1843.1 608.9L1842.8 607.5L1842.7 606.1ZM1844.4 606.1L1844.5 604.8L1844.8 603.6L1845.4 602.4L1846.1 601.2L1847.1 600.0L1848.2 598.9L1849.5 597.9L1851.0 597.0L1852.7 596.1L1854.4 595.4L1856.3 594.7L1858.4 594.2L1860.4 593.8L1862.6 593.4L1864.8 593.3L1867.0 593.2L1872.3 594.3L1877.6 595.1L1882.8 595.9L1887.8 596.8L1892.6 597.8L1897.2 598.9L1901.5 600.0L1905.5 601.1L1909.0 602.2L1912.2 603.3L1915.0 604.4L1917.3 605.4L1919.0 606.3L1920.3 607.1L1921.1 607.8L1921.4 608.2L1921.4 608.2L1921.1 608.5L1920.3 609.2L1919.0 609.9L1917.3 610.8L1915.0 611.7L1912.2 612.7L1909.0 613.7L1905.5 614.7L1901.5 615.6L1897.2 616.6L1892.6 617.4L1887.8 618.2L1882.8 618.8L1877.6 619.3L1872.3 619.5L1867.0 619.0L1864.8 618.9L1862.6 618.8L1860.4 618.4L1858.4 618.0L1856.3 617.5L1854.4 616.8L1852.7 616.1L1851.0 615.2L1849.5 614.3L1848.2 613.3L1847.1 612.2L1846.1 611.0L1845.4 609.8L1844.8 608.6L1844.5 607.4L1844.4 606.1ZM1846.1 606.1L1846.2 605.0L1846.5 603.9L1847.0 602.8L1847.8 601.7L1848.7 600.7L1849.8 599.7L1851.1 598.8L1852.5 598.0L1854.1 597.2L1855.8 596.5L1857.7 596.0L1859.6 595.5L1861.6 595.1L1863.7 594.8L1865.9 594.7L1868.0 594.6L1872.5 595.6L1877.0 596.2L1881.5 596.9L1885.7 597.7L1889.8 598.6L1893.7 599.5L1897.4 600.5L1900.8 601.5L1903.8 602.5L1906.5 603.5L1908.9 604.4L1910.8 605.4L1912.3 606.2L1913.5 607.0L1914.1 607.7L1914.3 608.1L1914.3 608.1L1914.1 608.4L1913.5 609.1L1912.3 609.8L1910.8 610.6L1908.9 611.5L1906.5 612.4L1903.8 613.3L1900.8 614.1L1897.4 615.0L1893.7 615.8L1889.8 616.5L1885.7 617.1L1881.5 617.6L1877.0 618.0L1872.5 618.2L1868.0 617.6L1865.9 617.5L1863.7 617.4L1861.6 617.1L1859.6 616.7L1857.7 616.2L1855.8 615.7L1854.1 615.0L1852.5 614.2L1851.1 613.4L1849.8 612.5L1848.7 611.5L1847.8 610.5L1847.0 609.4L1846.5 608.3L1846.2 607.2L1846.1 606.1ZM1847.8 606.1L1847.9 605.1L1848.2 604.1L1848.7 603.2L1849.4 602.2L1850.3 601.3L1851.4 600.5L1852.6 599.7L1854.0 599.0L1855.6 598.3L1857.2 597.7L1859.0 597.2L1860.9 596.8L1862.8 596.4L1864.9 596.2L1866.9 596.0L1869.0 596.0L1872.9 596.9L1876.7 597.4L1880.4 598.0L1884.0 598.7L1887.5 599.4L1890.8 600.2L1893.9 601.0L1896.8 601.9L1899.4 602.8L1901.7 603.7L1903.7 604.5L1905.3 605.4L1906.6 606.2L1907.5 606.9L1908.1 607.5L1908.3 608.0L1908.3 608.0L1908.1 608.4L1907.5 609.0L1906.6 609.7L1905.3 610.4L1903.7 611.2L1901.7 612.0L1899.4 612.8L1896.8 613.5L1893.9 614.3L1890.8 614.9L1887.5 615.5L1884.0 616.0L1880.4 616.4L1876.7 616.7L1872.9 616.8L1869.0 616.2L1866.9 616.2L1864.9 616.0L1862.8 615.8L1860.9 615.4L1859.0 615.0L1857.2 614.5L1855.6 613.9L1854.0 613.2L1852.6 612.5L1851.4 611.7L1850.3 610.9L1849.4 610.0L1848.7 609.0L1848.2 608.1L1847.9 607.1L1847.8 606.1ZM1849.5 606.1L1849.6 605.2L1849.9 604.4L1850.4 603.6L1851.1 602.8L1851.9 602.0L1853.0 601.3L1854.2 600.6L1855.5 599.9L1857.0 599.4L1858.6 598.9L1860.3 598.4L1862.2 598.1L1864.0 597.8L1866.0 597.6L1868.0 597.4L1870.0 597.4L1873.2 598.2L1876.3 598.7L1879.4 599.2L1882.3 599.7L1885.2 600.3L1887.9 601.0L1890.5 601.7L1892.8 602.4L1894.9 603.1L1896.8 603.9L1898.4 604.7L1899.8 605.4L1900.9 606.2L1901.6 606.8L1902.1 607.4L1902.3 607.8L1902.3 607.8L1902.1 608.3L1901.6 608.8L1900.9 609.5L1899.8 610.2L1898.4 610.8L1896.8 611.5L1894.9 612.2L1892.8 612.8L1890.5 613.4L1887.9 614.0L1885.2 614.5L1882.3 614.9L1879.4 615.2L1876.3 615.4L1873.2 615.4L1870.0 614.8L1868.0 614.8L1866.0 614.6L1864.0 614.4L1862.2 614.1L1860.3 613.8L1858.6 613.3L1857.0 612.8L1855.5 612.3L1854.2 611.6L1853.0 610.9L1851.9 610.2L1851.1 609.4L1850.4 608.6L1849.9 607.8L1849.6 607.0L1849.5 606.1ZM1851.2 606.1L1851.3 605.4L1851.6 604.7L1852.1 604.0L1852.7 603.3L1853.5 602.7L1854.5 602.0L1855.7 601.5L1857.0 600.9L1858.4 600.5L1860.0 600.0L1861.7 599.7L1863.4 599.4L1865.3 599.1L1867.1 598.9L1869.1 598.8L1871.0 598.8L1873.5 599.5L1875.9 599.9L1878.3 600.3L1880.7 600.7L1882.9 601.2L1885.0 601.8L1887.0 602.4L1888.8 603.0L1890.5 603.6L1892.0 604.2L1893.2 604.9L1894.3 605.5L1895.1 606.2L1895.7 606.8L1896.1 607.3L1896.2 607.7L1896.2 607.7L1896.1 608.1L1895.7 608.7L1895.1 609.2L1894.3 609.8L1893.2 610.4L1892.0 611.0L1890.5 611.6L1888.8 612.1L1887.0 612.6L1885.0 613.0L1882.9 613.4L1880.7 613.7L1878.3 613.9L1875.9 614.0L1873.5 614.0L1871.0 613.4L1869.1 613.4L1867.1 613.3L1865.3 613.1L1863.4 612.8L1861.7 612.5L1860.0 612.2L1858.4 611.7L1857.0 611.3L1855.7 610.7L1854.5 610.2L1853.5 609.5L1852.7 608.9L1852.1 608.2L1851.6 607.5L1851.3 606.8L1851.2 606.1ZM1852.9 606.1L1853.0 605.5L1853.3 604.9L1853.7 604.4L1854.4 603.8L1855.2 603.3L1856.1 602.8L1857.2 602.4L1858.5 601.9L1859.9 601.5L1861.4 601.2L1863.0 600.9L1864.7 600.6L1866.5 600.5L1868.3 600.3L1870.1 600.2L1872.0 600.2L1873.9 600.8L1875.7 601.2L1877.6 601.5L1879.3 601.8L1881.0 602.2L1882.7 602.7L1884.2 603.1L1885.6 603.6L1886.8 604.1L1887.9 604.6L1888.9 605.2L1889.7 605.7L1890.4 606.2L1890.8 606.7L1891.1 607.2L1891.2 607.6L1891.2 607.6L1891.1 608.0L1890.8 608.5L1890.4 609.0L1889.7 609.4L1888.9 609.9L1887.9 610.4L1886.8 610.8L1885.6 611.2L1884.2 611.6L1882.7 611.9L1881.0 612.2L1879.3 612.4L1877.6 612.6L1875.7 612.6L1873.9 612.5L1872.0 612.0L1870.1 612.0L1868.3 611.9L1866.5 611.7L1864.7 611.6L1863.0 611.3L1861.4 611.0L1859.9 610.7L1858.5 610.3L1857.2 609.8L1856.1 609.4L1855.2 608.9L1854.4 608.4L1853.7 607.8L1853.3 607.3L1853.0 606.7L1852.9 606.1ZM1854.6 606.1L1854.7 605.7L1855.0 605.2L1855.4 604.8L1856.0 604.4L1856.8 604.0L1857.7 603.6L1858.8 603.2L1860.0 602.9L1861.3 602.6L1862.8 602.4L1864.3 602.1L1866.0 601.9L1867.7 601.8L1869.4 601.7L1871.2 601.6L1873.0 601.6L1874.4 602.2L1875.8 602.5L1877.1 602.7L1878.4 603.0L1879.7 603.3L1880.9 603.6L1882.0 603.9L1883.0 604.3L1883.9 604.7L1884.8 605.1L1885.5 605.5L1886.1 605.9L1886.5 606.3L1886.9 606.8L1887.1 607.2L1887.2 607.5L1887.2 607.5L1887.1 607.9L1886.9 608.3L1886.5 608.6L1886.1 609.0L1885.5 609.4L1884.8 609.7L1883.9 610.1L1883.0 610.4L1882.0 610.6L1880.9 610.8L1879.7 611.0L1878.4 611.2L1877.1 611.2L1875.8 611.2L1874.4 611.1L1873.0 610.6L1871.2 610.6L1869.4 610.5L1867.7 610.4L1866.0 610.3L1864.3 610.1L1862.8 609.8L1861.3 609.6L1860.0 609.3L1858.8 609.0L1857.7 608.6L1856.8 608.2L1856.0 607.8L1855.4 607.4L1855.0 607.0L1854.7 606.5L1854.6 606.1ZM1856.3 606.1L1856.4 605.8L1856.6 605.5L1857.1 605.2L1857.6 604.9L1858.4 604.6L1859.3 604.4L1860.3 604.1L1861.5 603.9L1862.8 603.7L1864.2 603.5L1865.7 603.4L1867.2 603.2L1868.9 603.1L1870.5 603.1L1872.3 603.0L1874.0 603.0L1874.9 603.5L1875.8 603.7L1876.6 603.9L1877.5 604.1L1878.3 604.4L1879.1 604.6L1879.8 604.8L1880.5 605.1L1881.1 605.4L1881.6 605.6L1882.0 605.9L1882.4 606.2L1882.7 606.5L1883.0 606.8L1883.1 607.1L1883.1 607.4L1883.1 607.4L1883.1 607.7L1883.0 608.0L1882.7 608.3L1882.4 608.5L1882.0 608.8L1881.6 609.0L1881.1 609.2L1880.5 609.4L1879.8 609.6L1879.1 609.7L1878.3 609.8L1877.5 609.8L1876.6 609.9L1875.8 609.8L1874.9 609.7L1874.0 609.2L1872.3 609.2L1870.5 609.1L1868.9 609.1L1867.2 609.0L1865.7 608.8L1864.2 608.7L1862.8 608.5L1861.5 608.3L1860.3 608.1L1859.3 607.8L1858.4 607.6L1857.6 607.3L1857.1 607.0L1856.6 606.7L1856.4 606.4L1856.3 606.1ZM1858.0 606.1L1858.1 605.9L1858.3 605.8L1858.7 605.6L1859.3 605.4L1860.0 605.3L1860.8 605.2L1861.8 605.0L1862.9 604.9L1864.1 604.8L1865.4 604.7L1866.8 604.6L1868.2 604.5L1869.8 604.5L1871.4 604.4L1873.0 604.4L1874.6 604.4L1875.1 604.9L1875.6 605.1L1876.1 605.2L1876.5 605.3L1877.0 605.5L1877.4 605.6L1877.8 605.8L1878.1 605.9L1878.5 606.1L1878.8 606.3L1879.0 606.4L1879.2 606.6L1879.4 606.8L1879.5 607.0L1879.6 607.1L1879.6 607.3L1879.6 607.3L1879.6 607.5L1879.5 607.6L1879.4 607.8L1879.2 607.9L1879.0 608.0L1878.8 608.2L1878.5 608.3L1878.1 608.3L1877.8 608.4L1877.4 608.5L1877.0 608.5L1876.5 608.5L1876.1 608.5L1875.6 608.4L1875.1 608.3L1874.6 607.8L1873.0 607.8L1871.4 607.8L1869.8 607.7L1868.2 607.7L1866.8 607.6L1865.4 607.5L1864.1 607.4L1862.9 607.3L1861.8 607.2L1860.8 607.0L1860.0 606.9L1859.3 606.8L1858.7 606.6L1858.3 606.4L1858.1 606.3L1858.0 606.1ZM1859.7 606.1L1859.8 606.0L1859.9 605.8L1860.2 605.7L1860.6 605.5L1861.0 605.4L1861.6 605.3L1862.3 605.1L1863.0 605.0L1863.9 604.9L1864.8 604.9L1865.7 604.8L1866.7 604.7L1867.8 604.7L1868.9 604.6L1870.0 604.6L1871.1 604.6L1871.6 605.0L1872.1 605.2L1872.5 605.3L1873.0 605.4L1873.4 605.6L1873.9 605.7L1874.2 605.8L1874.6 606.0L1874.9 606.1L1875.2 606.3L1875.5 606.4L1875.7 606.6L1875.9 606.7L1876.0 606.9L1876.1 607.0L1876.1 607.2L1876.1 607.2L1876.1 607.3L1876.0 607.5L1875.9 607.6L1875.7 607.7L1875.5 607.8L1875.2 607.9L1874.9 608.0L1874.6 608.1L1874.2 608.2L1873.9 608.2L1873.4 608.2L1873.0 608.2L1872.5 608.2L1872.1 608.1L1871.6 608.0L1871.1 607.6L1870.0 607.6L1868.9 607.6L1867.8 607.5L1866.7 607.5L1865.7 607.4L1864.8 607.3L1863.9 607.3L1863.0 607.2L1862.3 607.1L1861.6 606.9L1861.0 606.8L1860.6 606.7L1860.2 606.5L1859.9 606.4L1859.8 606.2L1859.7 606.1ZM1861.4 606.1L1861.4 606.0L1861.5 605.8L1861.7 605.7L1861.9 605.5L1862.2 605.4L1862.5 605.3L1862.9 605.1L1863.3 605.0L1863.8 604.9L1864.4 604.9L1864.9 604.8L1865.5 604.7L1866.1 604.7L1866.8 604.6L1867.4 604.6L1868.1 604.6L1868.5 605.0L1869.0 605.1L1869.5 605.2L1870.0 605.4L1870.4 605.5L1870.8 605.6L1871.2 605.7L1871.6 605.9L1871.9 606.0L1872.2 606.1L1872.5 606.3L1872.7 606.4L1872.8 606.6L1873.0 606.7L1873.0 606.9L1873.1 607.0L1873.1 607.0L1873.0 607.2L1873.0 607.3L1872.8 607.5L1872.7 607.6L1872.5 607.7L1872.2 607.8L1871.9 607.9L1871.6 608.0L1871.2 608.0L1870.8 608.1L1870.4 608.1L1870.0 608.1L1869.5 608.1L1869.0 608.1L1868.5 608.0L1868.1 607.6L1867.4 607.6L1866.8 607.6L1866.1 607.5L1865.5 607.5L1864.9 607.4L1864.4 607.3L1863.8 607.3L1863.3 607.2L1862.9 607.1L1862.5 606.9L1862.2 606.8L1861.9 606.7L1861.7 606.5L1861.5 606.4L1861.4 606.2L1861.4 606.1ZM1863.0 606.1L1863.1 606.0L1863.1 605.8L1863.2 605.7L1863.3 605.5L1863.4 605.4L1863.5 605.3L1863.7 605.1L1863.9 605.0L1864.1 604.9L1864.4 604.9L1864.6 604.8L1864.9 604.7L1865.2 604.7L1865.5 604.6L1865.7 604.6L1866.0 604.6L1866.5 604.9L1867.0 605.1L1867.5 605.2L1868.0 605.3L1868.4 605.4L1868.8 605.5L1869.2 605.6L1869.6 605.8L1869.9 605.9L1870.2 606.1L1870.5 606.2L1870.7 606.3L1870.8 606.5L1870.9 606.6L1871.0 606.8L1871.0 606.9L1871.0 606.9L1871.0 607.1L1870.9 607.2L1870.8 607.4L1870.7 607.5L1870.5 607.6L1870.2 607.7L1869.9 607.8L1869.6 607.9L1869.2 608.0L1868.8 608.0L1868.4 608.0L1868.0 608.1L1867.5 608.0L1867.0 608.0L1866.5 607.9L1866.0 607.6L1865.7 607.6L1865.5 607.6L1865.2 607.5L1864.9 607.5L1864.6 607.4L1864.4 607.3L1864.1 607.3L1863.9 607.2L1863.7 607.1L1863.5 606.9L1863.4 606.8L1863.3 606.7L1863.2 606.5L1863.1 606.4L1863.1 606.2L1863.0 606.1Z" fill="none" stroke="#262626" stroke-width="0.85"/>
<rect x="1918.2" y="385.5" width="130.8" height="205.0" fill="none" stroke="#d0232d" stroke-width="4.2"/>
<text class="red" transform="translate(1762.0 432.5) scale(1 1.04)" font-size="63.5">0.5</text>
</g>
<text transform="translate(260.3 796.9) scale(1 1.04)" font-size="63.2">CD38</text>
<path d="M446.8 774.3H1858" stroke="#231f20" stroke-width="4.1" fill="none"/>
<path d="M1882.9 774.3Q1864.5 767.2 1849.3 755.7L1856.3 774.3L1849.3 792.9Q1864.5 781.4 1882.9 774.3Z" fill="#231f20"/>
<text transform="translate(1388.8 844.8) scale(1 1.04)" font-size="63.6">Gated on CD3<tspan dx="0.3" dy="-22" font-size="33" stroke="#231f20" stroke-width="0.6">+</tspan><tspan dy="22">CD8</tspan><tspan dx="1" dy="-22.5" font-size="29" stroke="#231f20" stroke-width="0.8">−</tspan><tspan dx="2" dy="22.5">CD4</tspan><tspan dx="2.8" dy="-22" font-size="33" stroke="#231f20" stroke-width="0.6">+</tspan><tspan dy="22"></tspan></text>
<text class="b" transform="translate(2235.3 116.2) scale(0.94 1.0)" font-size="77.5">H</text>
<text transform="translate(2703.2 73.9) scale(1 1.04)" font-size="62.8">Activated CD4<tspan dx="4" dy="-24.5" font-size="31" stroke="#231f20" stroke-width="0.5">+</tspan><tspan dy="24.5"></tspan></text>
<text transform="translate(2325.8 802.3) rotate(-90) scale(1 1.04)" font-size="63.2">Ki67<tspan dx="1.5" dy="-23" font-size="30" stroke="#231f20" stroke-width="0.5">+</tspan><tspan dy="23">CD38</tspan><tspan dx="1.5" dy="-23" font-size="30" stroke="#231f20" stroke-width="0.5">+</tspan><tspan dy="23"> (% CD4</tspan><tspan dx="5" dy="-23" font-size="30" stroke="#231f20" stroke-width="0.5">+</tspan><tspan dx="7.5" dy="23">)</tspan></text>
<path d="M2375.6 786.5h7.4" stroke="#333" stroke-width="2.5"/>
<text transform="translate(2370.3 804.1) scale(1 1.04)" font-size="49" text-anchor="end" style="fill:#000">0</text>
<path d="M2375.6 604.1h7.4" stroke="#333" stroke-width="2.5"/>
<text transform="translate(2370.3 621.8) scale(1 1.04)" font-size="49" text-anchor="end" style="fill:#000">1</text>
<path d="M2375.6 421.8h7.4" stroke="#333" stroke-width="2.5"/>
<text transform="translate(2370.3 439.4) scale(1 1.04)" font-size="49" text-anchor="end" style="fill:#000">2</text>
<path d="M2375.6 239.5h7.4" stroke="#333" stroke-width="2.5"/>
<text transform="translate(2370.3 257.1) scale(1 1.04)" font-size="49" text-anchor="end" style="fill:#000">3</text>
<rect x="2382.8" y="182.0" width="509.7" height="631.6" fill="#fff"/>
<path d="M2382.8 695.3H2892.5M2382.8 513.0H2892.5M2382.8 330.6H2892.5" stroke="#ebebee" stroke-width="1.3" fill="none"/>
<path d="M2382.8 786.5H2892.5M2382.8 604.1H2892.5M2382.8 421.8H2892.5M2382.8 239.5H2892.5M2440.4 182.0V813.6M2538.9 182.0V813.6M2637.2 182.0V813.6M2735.4 182.0V813.6M2833.8 182.0V813.6" stroke="#e4e4e8" stroke-width="2.3" fill="none"/>
<g stroke="#f5ad4e" stroke-width="2.4" fill="none" stroke-linejoin="round" stroke-opacity="0.38">
<path d="M2440.4 543.4L2538.9 684.4L2637.2 669.1L2735.4 660.1L2833.8 646.1"/>
<path d="M2440.4 631.5L2538.9 664.9L2637.2 635.1L2735.4 626.4L2833.8 601.4"/>
<path d="M2440.4 635.1L2538.9 620.6L2637.2 628.2L2735.4 669.1L2833.8 657.2"/>
<path d="M2440.4 638.8L2538.9 573.2L2637.2 597.4L2735.4 536.9L2833.8 565.9"/>
<path d="M2440.4 647.9L2538.9 688.6L2637.2 697.5L2735.4 706.4L2833.8 668.0"/>
<path d="M2440.4 678.9L2538.9 642.4L2637.2 644.3L2735.4 565.9L2833.8 549.8"/>
<path d="M2440.4 686.9L2538.9 599.8L2637.2 664.9L2735.4 663.8L2833.8 576.1"/>
<path d="M2440.4 718.3L2538.9 555.3L2637.2 715.4L2735.4 482.3L2833.8 664.9"/>
<path d="M2440.4 722.7L2538.9 610.3L2637.2 607.4L2735.4 673.8L2833.8 613.3"/>
<path d="M2440.4 728.1L2538.9 655.2L2637.2 531.6L2735.4 558.2L2833.8 492.9"/>
<path d="M2440.4 768.6L2538.9 543.4L2637.2 706.4L2735.4 436.6L2833.8 515.0"/>
<path d="M2440.4 773.7L2538.9 571.3L2637.2 672.0L2735.4 753.9"/>
<path d="M2440.4 777.4L2538.9 673.8L2637.2 623.5L2735.4 773.5L2833.8 465.7"/>
<path d="M2440.4 781.8L2538.9 691.7L2637.2 728.3L2735.4 723.0L2833.8 761.0"/>
<path d="M2538.9 387.2L2637.2 702.3L2735.4 416.3"/>
<path d="M2538.9 500.8L2637.2 667.1"/>
</g>
<g fill="#f5ad4e" fill-opacity="0.28" stroke="#555" stroke-opacity="0.5" stroke-width="1.4">
<circle cx="2440.4" cy="543.4" r="6.6"/>
<circle cx="2538.9" cy="684.4" r="6.6"/>
<circle cx="2637.2" cy="669.1" r="6.6"/>
<circle cx="2735.4" cy="660.1" r="6.6"/>
<circle cx="2833.8" cy="646.1" r="6.6"/>
<circle cx="2440.4" cy="631.5" r="6.6"/>
<circle cx="2538.9" cy="664.9" r="6.6"/>
<circle cx="2637.2" cy="635.1" r="6.6"/>
<circle cx="2735.4" cy="626.4" r="6.6"/>
<circle cx="2833.8" cy="601.4" r="6.6"/>
<circle cx="2440.4" cy="635.1" r="6.6"/>
<circle cx="2538.9" cy="620.6" r="6.6"/>
<circle cx="2637.2" cy="628.2" r="6.6"/>
<circle cx="2735.4" cy="669.1" r="6.6"/>
<circle cx="2833.8" cy="657.2" r="6.6"/>
<circle cx="2440.4" cy="638.8" r="6.6"/>
<circle cx="2538.9" cy="573.2" r="6.6"/>
<circle cx="2637.2" cy="597.4" r="6.6"/>
<circle cx="2735.4" cy="536.9" r="6.6"/>
<circle cx="2833.8" cy="565.9" r="6.6"/>
<circle cx="2440.4" cy="647.9" r="6.6"/>
<circle cx="2538.9" cy="688.6" r="6.6"/>
<circle cx="2637.2" cy="697.5" r="6.6"/>
<circle cx="2735.4" cy="706.4" r="6.6"/>
<circle cx="2833.8" cy="668.0" r="6.6"/>
<circle cx="2440.4" cy="678.9" r="6.6"/>
<circle cx="2538.9" cy="642.4" r="6.6"/>
<circle cx="2637.2" cy="644.3" r="6.6"/>
<circle cx="2735.4" cy="565.9" r="6.6"/>
<circle cx="2833.8" cy="549.8" r="6.6"/>
<circle cx="2440.4" cy="686.9" r="6.6"/>
<circle cx="2538.9" cy="599.8" r="6.6"/>
<circle cx="2637.2" cy="664.9" r="6.6"/>
<circle cx="2735.4" cy="663.8" r="6.6"/>
<circle cx="2833.8" cy="576.1" r="6.6"/>
<circle cx="2440.4" cy="718.3" r="6.6"/>
<circle cx="2538.9" cy="555.3" r="6.6"/>
<circle cx="2637.2" cy="715.4" r="6.6"/>
<circle cx="2735.4" cy="482.3" r="6.6"/>
<circle cx="2833.8" cy="664.9" r="6.6"/>
<circle cx="2440.4" cy="722.7" r="6.6"/>
<circle cx="2538.9" cy="610.3" r="6.6"/>
<circle cx="2637.2" cy="607.4" r="6.6"/>
<circle cx="2735.4" cy="673.8" r="6.6"/>
<circle cx="2833.8" cy="613.3" r="6.6"/>
<circle cx="2440.4" cy="728.1" r="6.6"/>
<circle cx="2538.9" cy="655.2" r="6.6"/>
<circle cx="2637.2" cy="531.6" r="6.6"/>
<circle cx="2735.4" cy="558.2" r="6.6"/>
<circle cx="2833.8" cy="492.9" r="6.6"/>
<circle cx="2440.4" cy="768.6" r="6.6"/>
<circle cx="2538.9" cy="543.4" r="6.6"/>
<circle cx="2637.2" cy="706.4" r="6.6"/>
<circle cx="2735.4" cy="436.6" r="6.6"/>
<circle cx="2833.8" cy="515.0" r="6.6"/>
<circle cx="2440.4" cy="773.7" r="6.6"/>
<circle cx="2538.9" cy="571.3" r="6.6"/>
<circle cx="2637.2" cy="672.0" r="6.6"/>
<circle cx="2735.4" cy="753.9" r="6.6"/>
<circle cx="2440.4" cy="777.4" r="6.6"/>
<circle cx="2538.9" cy="673.8" r="6.6"/>
<circle cx="2637.2" cy="623.5" r="6.6"/>
<circle cx="2735.4" cy="773.5" r="6.6"/>
<circle cx="2833.8" cy="465.7" r="6.6"/>
<circle cx="2440.4" cy="781.8" r="6.6"/>
<circle cx="2538.9" cy="691.7" r="6.6"/>
<circle cx="2637.2" cy="728.3" r="6.6"/>
<circle cx="2735.4" cy="723.0" r="6.6"/>
<circle cx="2833.8" cy="761.0" r="6.6"/>
<circle cx="2538.9" cy="387.2" r="6.6"/>
<circle cx="2637.2" cy="702.3" r="6.6"/>
<circle cx="2735.4" cy="416.3" r="6.6"/>
<circle cx="2538.9" cy="500.8" r="6.6"/>
<circle cx="2637.2" cy="667.1" r="6.6"/>
</g>
<path d="M2440.4 704.6L2538.9 628.2L2637.2 656.7L2735.4 630.6L2833.8 609.8" stroke="#f5b961" stroke-width="9.3" fill="none" stroke-linejoin="round"/>
<circle cx="2440.4" cy="704.6" r="7.6" fill="#000"/>
<circle cx="2538.9" cy="628.2" r="7.6" fill="#000"/>
<circle cx="2637.2" cy="656.7" r="7.6" fill="#000"/>
<circle cx="2735.4" cy="630.6" r="7.6" fill="#000"/>
<circle cx="2833.8" cy="609.8" r="7.6" fill="#000"/>
<rect x="2382.8" y="182.0" width="509.7" height="631.6" fill="none" stroke="#4a4a4a" stroke-width="2.1"/>
<path d="M2440.4 813.6v8.5M2538.9 813.6v8.5M2637.2 813.6v8.5M2735.4 813.6v8.5M2833.8 813.6v8.5" stroke="#333" stroke-width="2.5" fill="none"/>
<rect x="2383.5" y="97.7" width="508.9" height="83.7" fill="#fff" stroke="#231f20" stroke-width="3"/>
<text transform="translate(2645.1 171) scale(1 1.04)" font-size="63.8" text-anchor="middle">Naive</text>
<rect x="2931.8" y="182.0" width="510.2" height="631.6" fill="#fff"/>
<path d="M2931.8 695.3H3442.0M2931.8 513.0H3442.0M2931.8 330.6H3442.0" stroke="#ebebee" stroke-width="1.3" fill="none"/>
<path d="M2931.8 786.5H3442.0M2931.8 604.1H3442.0M2931.8 421.8H3442.0M2931.8 239.5H3442.0M2990.2 182.0V813.6M3088.5 182.0V813.6M3186.9 182.0V813.6M3285.3 182.0V813.6M3383.6 182.0V813.6" stroke="#e4e4e8" stroke-width="2.3" fill="none"/>
<g stroke="#9d97cf" stroke-width="2.4" fill="none" stroke-linejoin="round" stroke-opacity="0.38">
<path d="M2990.2 295.2L3088.5 680.7L3186.9 677.3L3285.3 688.4L3383.6 696.4"/>
<path d="M2990.2 448.4L3088.5 346.9L3186.9 686.4L3285.3 526.8L3383.6 728.0"/>
<path d="M2990.2 785.0L3088.5 451.9L3186.9 436.0L3285.3 720.7L3383.6 591.8"/>
<path d="M2990.2 704.6L3088.5 770.3L3186.9 773.7L3285.3 765.0L3383.6 769.9"/>
<path d="M2990.2 560.8L3088.5 451.9L3186.9 690.4L3285.3 553.5L3383.6 670.0"/>
<path d="M2990.2 569.1L3088.5 606.2L3186.9 618.7L3285.3 722.3L3383.6 480.0"/>
<path d="M2990.2 581.5L3088.5 624.6L3186.9 648.1L3285.3 581.5L3383.6 626.0"/>
<path d="M2990.2 600.3L3088.5 693.0L3186.9 648.1L3285.3 616.5L3383.6 631.9"/>
<path d="M2990.2 621.5L3088.5 694.6L3186.9 677.3L3285.3 618.4L3383.6 633.0"/>
<path d="M2990.2 624.9L3088.5 695.7L3186.9 686.4L3285.3 583.0L3383.6 688.4"/>
<path d="M2990.2 656.1L3088.5 751.5L3186.9 492.7L3285.3 736.9L3383.6 699.9"/>
<path d="M2990.2 657.2L3088.5 544.2L3285.3 631.9L3383.6 710.3"/>
<path d="M3088.5 545.3L3285.3 660.7L3383.6 595.2"/>
<path d="M3088.5 773.4L3186.9 785.0L3285.3 766.4"/>
<path d="M3285.3 718.8L3383.6 209.2"/>
</g>
<g fill="#a9a4dd" fill-opacity="0.28" stroke="#555" stroke-opacity="0.5" stroke-width="1.4">
<circle cx="2990.2" cy="295.2" r="6.6"/>
<circle cx="3088.5" cy="680.7" r="6.6"/>
<circle cx="3186.9" cy="677.3" r="6.6"/>
<circle cx="3285.3" cy="688.4" r="6.6"/>
<circle cx="3383.6" cy="696.4" r="6.6"/>
<circle cx="2990.2" cy="448.4" r="6.6"/>
<circle cx="3088.5" cy="346.9" r="6.6"/>
<circle cx="3186.9" cy="686.4" r="6.6"/>
<circle cx="3285.3" cy="526.8" r="6.6"/>
<circle cx="3383.6" cy="728.0" r="6.6"/>
<circle cx="2990.2" cy="785.0" r="6.6"/>
<circle cx="3088.5" cy="451.9" r="6.6"/>
<circle cx="3186.9" cy="436.0" r="6.6"/>
<circle cx="3285.3" cy="720.7" r="6.6"/>
<circle cx="3383.6" cy="591.8" r="6.6"/>
<circle cx="2990.2" cy="704.6" r="6.6"/>
<circle cx="3088.5" cy="770.3" r="6.6"/>
<circle cx="3186.9" cy="773.7" r="6.6"/>
<circle cx="3285.3" cy="765.0" r="6.6"/>
<circle cx="3383.6" cy="769.9" r="6.6"/>
<circle cx="2990.2" cy="560.8" r="6.6"/>
<circle cx="3088.5" cy="451.9" r="6.6"/>
<circle cx="3186.9" cy="690.4" r="6.6"/>
<circle cx="3285.3" cy="553.5" r="6.6"/>
<circle cx="3383.6" cy="670.0" r="6.6"/>
<circle cx="2990.2" cy="569.1" r="6.6"/>
<circle cx="3088.5" cy="606.2" r="6.6"/>
<circle cx="3186.9" cy="618.7" r="6.6"/>
<circle cx="3285.3" cy="722.3" r="6.6"/>
<circle cx="3383.6" cy="480.0" r="6.6"/>
<circle cx="2990.2" cy="581.5" r="6.6"/>
<circle cx="3088.5" cy="624.6" r="6.6"/>
<circle cx="3186.9" cy="648.1" r="6.6"/>
<circle cx="3285.3" cy="581.5" r="6.6"/>
<circle cx="3383.6" cy="626.0" r="6.6"/>
<circle cx="2990.2" cy="600.3" r="6.6"/>
<circle cx="3088.5" cy="693.0" r="6.6"/>
<circle cx="3186.9" cy="648.1" r="6.6"/>
<circle cx="3285.3" cy="616.5" r="6.6"/>
<circle cx="3383.6" cy="631.9" r="6.6"/>
<circle cx="2990.2" cy="621.5" r="6.6"/>
<circle cx="3088.5" cy="694.6" r="6.6"/>
<circle cx="3186.9" cy="677.3" r="6.6"/>
<circle cx="3285.3" cy="618.4" r="6.6"/>
<circle cx="3383.6" cy="633.0" r="6.6"/>
<circle cx="2990.2" cy="624.9" r="6.6"/>
<circle cx="3088.5" cy="695.7" r="6.6"/>
<circle cx="3186.9" cy="686.4" r="6.6"/>
<circle cx="3285.3" cy="583.0" r="6.6"/>
<circle cx="3383.6" cy="688.4" r="6.6"/>
<circle cx="2990.2" cy="656.1" r="6.6"/>
<circle cx="3088.5" cy="751.5" r="6.6"/>
<circle cx="3186.9" cy="492.7" r="6.6"/>
<circle cx="3285.3" cy="736.9" r="6.6"/>
<circle cx="3383.6" cy="699.9" r="6.6"/>
<circle cx="2990.2" cy="657.2" r="6.6"/>
<circle cx="3088.5" cy="544.2" r="6.6"/>
<circle cx="3285.3" cy="631.9" r="6.6"/>
<circle cx="3383.6" cy="710.3" r="6.6"/>
<circle cx="3088.5" cy="545.3" r="6.6"/>
<circle cx="3285.3" cy="660.7" r="6.6"/>
<circle cx="3383.6" cy="595.2" r="6.6"/>
<circle cx="3088.5" cy="773.4" r="6.6"/>
<circle cx="3186.9" cy="785.0" r="6.6"/>
<circle cx="3285.3" cy="766.4" r="6.6"/>
<circle cx="3285.3" cy="718.8" r="6.6"/>
<circle cx="3383.6" cy="209.2" r="6.6"/>
</g>
<path d="M2990.2 611.4L3088.5 653.0L3186.9 655.4L3285.3 646.8L3383.6 651.0" stroke="#b3addb" stroke-width="9.3" fill="none" stroke-linejoin="round"/>
<circle cx="2990.2" cy="611.4" r="7.6" fill="#000"/>
<circle cx="3088.5" cy="653.0" r="7.6" fill="#000"/>
<circle cx="3186.9" cy="655.4" r="7.6" fill="#000"/>
<circle cx="3285.3" cy="646.8" r="7.6" fill="#000"/>
<circle cx="3383.6" cy="651.0" r="7.6" fill="#000"/>
<rect x="2931.8" y="182.0" width="510.2" height="631.6" fill="none" stroke="#4a4a4a" stroke-width="2.1"/>
<path d="M2990.2 813.6v8.5M3088.5 813.6v8.5M3186.9 813.6v8.5M3285.3 813.6v8.5M3383.6 813.6v8.5" stroke="#333" stroke-width="2.5" fill="none"/>
<rect x="2932.5" y="97.7" width="509.4" height="83.7" fill="#fff" stroke="#231f20" stroke-width="3"/>
<text transform="translate(3190.2 171) scale(1 1.04)" font-size="63.8" text-anchor="middle">Experienced</text>
<path d="M2444.2 210.6H2845.3M2444.2 244.6H2744.4M2444.2 270.9H2546" stroke="#231f20" stroke-width="1.7" fill="none"/>
<text transform="translate(2645.8 246.7) scale(1 0.9)" font-size="55" text-anchor="middle">**</text>
<text transform="translate(2595.3 282.6) scale(1 0.9)" font-size="55" text-anchor="middle">*</text>
<text transform="translate(2493.8 308.1) scale(1 0.9)" font-size="55" text-anchor="middle">**</text>
<text transform="translate(2937.7 244.4) scale(1 1.01)" font-size="56.3">N.S.</text>
<text transform="translate(2463.6 855.6) rotate(-45) scale(1 1.04)" font-size="47.8" text-anchor="end" style="fill:#000;stroke:#000;stroke-width:0.5px">Baseline</text>
<text transform="translate(2562.1 855.6) rotate(-45) scale(1 1.04)" font-size="47.8" text-anchor="end" style="fill:#000;stroke:#000;stroke-width:0.5px">Post 1st dose</text>
<text transform="translate(2660.4 855.6) rotate(-45) scale(1 1.04)" font-size="47.8" text-anchor="end" style="fill:#000;stroke:#000;stroke-width:0.5px">Pre 2nd dose</text>
<text transform="translate(2758.6 855.6) rotate(-45) scale(1 1.04)" font-size="47.8" text-anchor="end" style="fill:#000;stroke:#000;stroke-width:0.5px">Post 2nd dose</text>
<text transform="translate(2857.0 855.6) rotate(-45) scale(1 1.04)" font-size="47.8" text-anchor="end" style="fill:#000;stroke:#000;stroke-width:0.5px">One month post</text>
<text transform="translate(2894.3 890.5) rotate(-45) scale(1 1.04)" font-size="47.8" text-anchor="end" style="fill:#000;stroke:#000;stroke-width:0.5px">2nd dose</text>
<text transform="translate(3013.4 855.6) rotate(-45) scale(1 1.04)" font-size="47.8" text-anchor="end" style="fill:#000;stroke:#000;stroke-width:0.5px">Baseline</text>
<text transform="translate(3111.7 855.6) rotate(-45) scale(1 1.04)" font-size="47.8" text-anchor="end" style="fill:#000;stroke:#000;stroke-width:0.5px">Post 1st dose</text>
<text transform="translate(3210.1 855.6) rotate(-45) scale(1 1.04)" font-size="47.8" text-anchor="end" style="fill:#000;stroke:#000;stroke-width:0.5px">Pre 2nd dose</text>
<text transform="translate(3308.5 855.6) rotate(-45) scale(1 1.04)" font-size="47.8" text-anchor="end" style="fill:#000;stroke:#000;stroke-width:0.5px">Post 2nd dose</text>
<text transform="translate(3406.8 855.6) rotate(-45) scale(1 1.04)" font-size="47.8" text-anchor="end" style="fill:#000;stroke:#000;stroke-width:0.5px">One month post</text>
<text transform="translate(3444.1 890.5) rotate(-45) scale(1 1.04)" font-size="47.8" text-anchor="end" style="fill:#000;stroke:#000;stroke-width:0.5px">2nd dose</text>
<g id="artefacts">
<path d="M316 1061.7H526M568 1061.7H777.6M866 1061.7H964" stroke="#ebebeb" stroke-width="1.6" fill="none"/>
<path d="M399 1046H405M294 1062v5M543 1063v-4M762 1058v3M1378 1038h3M3353 1043h3M113 1012h3" stroke="#cfcfcf" stroke-width="1" fill="none"/>
<g fill="#d9b550"><rect x="761.5" y="1092" width="4" height="4"/><rect x="803" y="1076" width="16" height="1.4"/><rect x="404" y="1080" width="12" height="1.2"/><rect x="489" y="1107.5" width="26" height="2.5"/><rect x="520" y="1107.5" width="30" height="2.5"/><rect x="568" y="1106.5" width="14" height="3"/><rect x="738" y="1095" width="6" height="1.5"/><rect x="975" y="1100" width="10" height="1.6"/><rect x="1330" y="1106" width="3" height="3"/><rect x="3398" y="1107" width="18" height="2"/></g>
<path d="M1100 1104l2 -2.5M1303.5 1105v4" stroke="#333" stroke-width="1" fill="none"/>
</g>
</svg></body></html>
